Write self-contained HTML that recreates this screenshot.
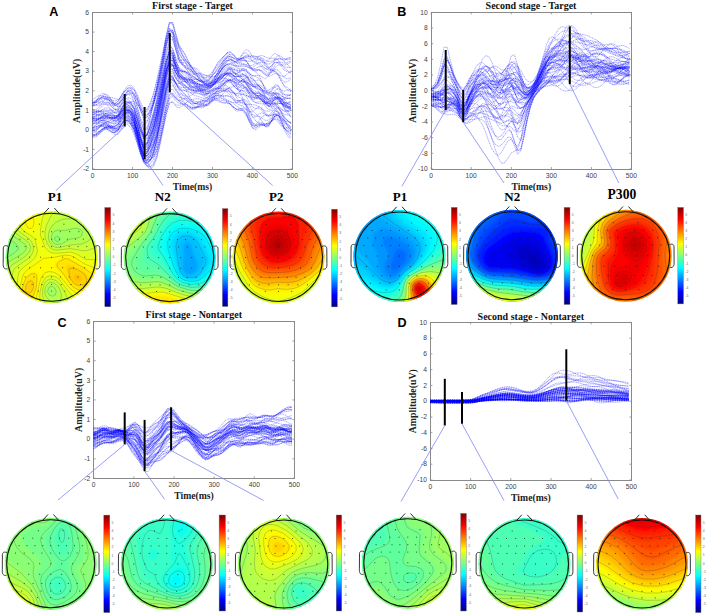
<!DOCTYPE html><html><head><meta charset="utf-8"><style>html,body{margin:0;padding:0;background:#fff;overflow:hidden}svg{display:block}</style></head><body><svg width="708" height="616" viewBox="0 0 708 616">
<defs><linearGradient id="jetg" x1="0" y1="0" x2="0" y2="1"><stop offset="0.0000" stop-color="#800000"/><stop offset="0.0625" stop-color="#bf0000"/><stop offset="0.1250" stop-color="#ff0000"/><stop offset="0.1875" stop-color="#ff4000"/><stop offset="0.2500" stop-color="#ff8000"/><stop offset="0.3125" stop-color="#ffbf00"/><stop offset="0.3750" stop-color="#ffff00"/><stop offset="0.4375" stop-color="#bfff40"/><stop offset="0.5000" stop-color="#80ff80"/><stop offset="0.5625" stop-color="#40ffbf"/><stop offset="0.6250" stop-color="#00ffff"/><stop offset="0.6875" stop-color="#00bfff"/><stop offset="0.7500" stop-color="#0080ff"/><stop offset="0.8125" stop-color="#0040ff"/><stop offset="0.8750" stop-color="#0000ff"/><stop offset="0.9375" stop-color="#0000bf"/><stop offset="1.0000" stop-color="#000080"/></linearGradient><filter id="bl" x="-10%" y="-10%" width="120%" height="120%"><feGaussianBlur stdDeviation="0.9"/></filter></defs>
<rect width="708" height="616" fill="#fff"/>
<text x="49.2" y="15.8" font-family="Liberation Sans" font-weight="bold" font-size="12.6" fill="#000">A</text>
<text x="397.3" y="15.8" font-family="Liberation Sans" font-weight="bold" font-size="12.6" fill="#000">B</text>
<text x="57.4" y="326.7" font-family="Liberation Sans" font-weight="bold" font-size="12.6" fill="#000">C</text>
<text x="397.6" y="326.7" font-family="Liberation Sans" font-weight="bold" font-size="12.6" fill="#000">D</text>
<g stroke="#8a8a8a" stroke-width="1" fill="none" shape-rendering="crispEdges">
<rect x="92.6" y="12.5" width="199.8" height="156.5"/>
</g>
<path d="M92.6 169.0h2M292.4 169.0h-2M92.6 149.4h2M292.4 149.4h-2M92.6 129.9h2M292.4 129.9h-2M92.6 110.3h2M292.4 110.3h-2M92.6 90.8h2M292.4 90.8h-2M92.6 71.2h2M292.4 71.2h-2M92.6 51.6h2M292.4 51.6h-2M92.6 32.1h2M292.4 32.1h-2M92.6 12.5h2M292.4 12.5h-2M92.6 169.0v-2M92.6 12.5v2M132.6 169.0v-2M132.6 12.5v2M172.5 169.0v-2M172.5 12.5v2M212.5 169.0v-2M212.5 12.5v2M252.4 169.0v-2M252.4 12.5v2M292.4 169.0v-2M292.4 12.5v2" stroke="#8a8a8a" stroke-width="0.8" fill="none"/>
<g font-family="Liberation Sans" font-size="6.7" fill="#404040">
<text x="89.1" y="171.2" text-anchor="end">-2</text>
<text x="89.1" y="151.6" text-anchor="end">-1</text>
<text x="89.1" y="132.1" text-anchor="end">0</text>
<text x="89.1" y="112.5" text-anchor="end">1</text>
<text x="89.1" y="93.0" text-anchor="end">2</text>
<text x="89.1" y="73.4" text-anchor="end">3</text>
<text x="89.1" y="53.8" text-anchor="end">4</text>
<text x="89.1" y="34.3" text-anchor="end">5</text>
<text x="89.1" y="14.7" text-anchor="end">6</text>
<text x="92.6" y="178.0" text-anchor="middle">0</text>
<text x="132.6" y="178.0" text-anchor="middle">100</text>
<text x="172.5" y="178.0" text-anchor="middle">200</text>
<text x="212.5" y="178.0" text-anchor="middle">300</text>
<text x="252.4" y="178.0" text-anchor="middle">400</text>
<text x="292.4" y="178.0" text-anchor="middle">500</text>
</g>
<text x="192.5" y="8.8" text-anchor="middle" font-family="Liberation Serif" font-weight="bold" font-size="10" fill="#111">First stage - Target</text>
<text x="192.5" y="189.5" text-anchor="middle" font-family="Liberation Serif" font-weight="bold" font-size="9.7" fill="#222">Time(ms)</text>
<text transform="translate(80.1,90.8) rotate(-90)" x="0" y="0" text-anchor="middle" font-family="Liberation Serif" font-weight="bold" font-size="9.9" fill="#222">Amplitude(uV)</text>
<g transform="scale(0.2)" fill="none" stroke="#0000ff" stroke-width="2.5" stroke-opacity="0.7" stroke-dasharray="6 3">
<path d="M463 594l16 1 16-1 16-2 16-2 16 1 16 0 16-1 16-11 16-23 16-16 16 1 16 12 16 27 16 52 16 64 16 52 16-1 16-42 16-59 16-71 16-79 16-75 16-69 16-43 16 10 16 43 16 31 16 10 16 3 16 3 16 4 16 5 16 7 16 9 16 6 16 0 16-8 16-12 16-12 16-13 16-16 16-16 16-6 16 6 16 12 16 12 16 11 16 18 16 25 16 24 16 16 16 10 16 13 16 12 16 3 16-10 16-12 16-2 16 10 16 13 16 5 16 3"/>
<path d="M463 548l16 3 16 3 16 4 16 7 16 7 16 7 16 1 16-9 16-20 16-15 16 0 16 5 16 16 16 38 16 52 16 42 16-13 16-52 16-58 16-60 16-70 16-79 16-87 16-70 16-4 16 52 16 50 16 26 16 13 16 7 16 8 16 12 16 18 16 19 16 15 16 5 16-6 16-13 16-20 16-24 16-29 16-24 16-8 16 7 16 7 16-5 16-13 16-6 16 8 16 12 16 8 16 7 16 15 16 19 16 9 16-4 16-3 16 16 16 31 16 30 16 16 16 6"/>
<path d="M463 597l16 3 16-3 16-6 16-4 16-1 16 3 16 1 16-9 16-25 16-20 16-1 16 14 16 32 16 52 16 61 16 44 16-10 16-50 16-63 16-72 16-80 16-79 16-76 16-52 16 4 16 44 16 36 16 14 16 14 16 17 16 18 16 14 16 7 16 6 16 2 16-5 16-11 16-15 16-9 16-2 16 1 16 2 16 6 16 9 16 5 16-2 16-3 16 11 16 24 16 22 16 11 16 5 16 10 16 15 16 9 16-1 16-1 16 12 16 20 16 12 16-4 16-12"/>
<path d="M463 510l16-8 16-7 16-5 16 0 16 9 16 15 16 13 16-6 16-29 16-34 16-19 16 4 16 26 16 42 16 43 16 33 16-2 16-27 16-40 16-57 16-75 16-83 16-85 16-63 16-2 16 45 16 43 16 32 16 37 16 36 16 22 16 3 16-6 16 1 16 9 16 5 16-7 16-19 16-23 16-22 16-24 16-21 16-6 16 13 16 20 16 5 16-9 16-7 16 3 16 6 16 2 16 3 16 16 16 22 16 8 16-12 16-16 16 0 16 12 16 11 16 2 16 3"/>
<path d="M463 591l16-6 16-4 16-1 16-2 16-1 16 0 16 3 16-2 16-15 16-14 16-1 16 11 16 33 16 61 16 72 16 49 16-10 16-50 16-61 16-66 16-74 16-80 16-83 16-61 16 1 16 47 16 43 16 21 16 9 16 5 16 4 16 6 16 6 16 5 16 2 16-4 16-5 16-7 16-9 16-13 16-19 16-16 16-2 16 13 16 19 16 12 16 1 16 2 16 9 16 12 16 10 16 7 16 7 16 7 16 3 16 1 16 4 16 13 16 16 16 12 16 7 16 9"/>
<path d="M463 519l16-13 16-14 16-8 16 0 16 7 16 9 16 5 16-6 16-20 16-21 16-17 16-6 16 15 16 33 16 42 16 34 16 0 16-25 16-37 16-49 16-67 16-80 16-88 16-61 16 11 16 65 16 58 16 31 16 18 16 13 16 12 16 11 16 14 16 16 16 15 16 6 16-5 16-17 16-22 16-22 16-21 16-14 16-2 16 7 16 7 16 1 16-3 16 2 16 7 16 5 16 2 16 3 16 12 16 13 16 2 16-17 16-22 16-13 16-1 16 1 16-5 16-10"/>
<path d="M463 655l16-6 16-11 16-6 16 6 16 14 16 11 16-1 16-18 16-29 16-21 16-3 16 11 16 27 16 49 16 56 16 42 16 2 16-22 16-30 16-42 16-68 16-85 16-88 16-64 16-2 16 38 16 36 16 21 16 16 16 16 16 11 16 2 16-6 16-5 16 0 16-2 16-10 16-21 16-24 16-16 16-7 16 4 16 14 16 19 16 17 16 8 16 8 16 20 16 34 16 33 16 22 16 11 16 10 16-3 16-13 16-19 16-9 16 12 16 27 16 25 16 8 16 2"/>
<path d="M463 604l16 0 16-8 16-13 16-9 16 0 16 10 16 11 16-2 16-23 16-23 16-4 16 15 16 40 16 64 16 69 16 44 16-8 16-42 16-52 16-63 16-78 16-83 16-87 16-65 16-9 16 35 16 28 16 6 16 1 16 5 16 12 16 14 16 12 16 10 16 6 16 1 16-3 16-6 16-6 16-9 16-14 16-15 16-2 16 11 16 20 16 17 16 14 16 22 16 28 16 26 16 13 16 4 16 1 16 0 16-9 16-15 16-11 16 3 16 9 16 2 16-6 16-5"/>
<path d="M463 616l16-1 16-7 16-8 16-3 16 2 16 5 16 2 16-8 16-20 16-10 16 7 16 15 16 23 16 39 16 49 16 43 16 5 16-23 16-40 16-59 16-75 16-81 16-81 16-59 16-6 16 33 16 32 16 21 16 21 16 16 16 7 16-3 16-4 16 3 16 9 16 7 16-2 16-10 16-12 16-12 16-15 16-15 16-5 16 8 16 13 16 7 16 4 16 10 16 16 16 12 16 1 16 1 16 11 16 15 16 3 16-14 16-13 16 5 16 23 16 21 16 11 16 6"/>
<path d="M463 519l16 10 16 0 16-15 16-19 16-8 16 12 16 25 16 12 16-17 16-34 16-29 16-5 16 29 16 55 16 56 16 35 16-14 16-43 16-45 16-50 16-66 16-81 16-90 16-63 16 8 16 65 16 54 16 21 16 8 16 9 16 15 16 19 16 18 16 12 16 5 16-7 16-15 16-17 16-15 16-14 16-20 16-19 16-3 16 15 16 17 16 1 16-9 16 0 16 14 16 13 16 2 16-2 16 8 16 17 16 9 16-7 16-9 16 3 16 11 16 1 16-14 16-14"/>
<path d="M463 652l16 8 16-3 16-10 16-9 16 3 16 17 16 15 16-2 16-27 16-30 16-8 16 19 16 38 16 54 16 51 16 32 16 0 16-18 16-28 16-46 16-76 16-89 16-83 16-59 16-2 16 37 16 37 16 25 16 21 16 16 16 7 16-4 16-7 16-1 16 2 16-6 16-20 16-24 16-15 16-6 16-6 16-12 16-7 16-2 16-8 16-17 16-13 16 8 16 29 16 29 16 13 16 9 16 22 16 28 16 13 16-4 16-4 16 21 16 46 16 46 16 30 16 9"/>
<path d="M463 529l16-21 16-25 16-16 16 5 16 18 16 20 16 8 16-11 16-29 16-29 16-20 16-4 16 17 16 32 16 38 16 33 16 2 16-25 16-47 16-68 16-77 16-74 16-71 16-42 16 22 16 66 16 54 16 27 16 23 16 27 16 28 16 20 16 10 16 3 16 2 16-2 16-6 16-7 16-4 16-7 16-21 16-28 16-16 16 5 16 12 16 3 16-4 16 3 16 14 16 11 16 0 16-1 16 8 16 9 16-15 16-41 16-44 16-18 16 6 16 15 16 2 16-2"/>
<path d="M463 516l16-13 16-14 16-6 16 1 16 2 16 2 16 5 16 4 16-9 16-15 16-17 16-2 16 29 16 55 16 63 16 47 16-1 16-36 16-46 16-66 16-86 16-87 16-71 16-33 16 22 16 49 16 21 16-2 16 3 16 13 16 10 16 2 16 8 16 26 16 28 16 7 16-23 16-40 16-31 16-18 16-16 16-17 16-4 16 16 16 18 16-5 16-26 16-16 16 10 16 25 16 15 16 2 16 3 16 21 16 22 16 6 16-4 16 5 16 18 16 19 16 5 16-6"/>
<path d="M463 665l16-6 16-21 16-19 16-4 16 10 16 13 16 2 16-14 16-27 16-16 16 6 16 17 16 30 16 50 16 60 16 56 16 31 16 12 16-12 16-39 16-63 16-76 16-81 16-59 16-4 16 22 16 7 16-10 16-14 16-10 16-7 16-5 16 0 16 4 16 5 16-6 16-15 16-17 16-10 16-5 16-3 16 0 16 14 16 25 16 18 16-1 16-8 16 6 16 26 16 28 16 15 16 13 16 25 16 26 16 0 16-36 16-44 16-15 16 23 16 38 16 30 16 19"/>
<path d="M463 515l16-3 16-11 16-18 16-14 16 9 16 27 16 25 16 1 16-25 16-27 16-8 16 6 16 15 16 25 16 34 16 35 16 2 16-29 16-47 16-65 16-76 16-84 16-92 16-77 16-8 16 56 16 62 16 40 16 27 16 22 16 22 16 20 16 11 16 4 16 2 16 3 16 5 16-2 16-12 16-18 16-19 16-11 16 1 16 5 16 0 16-4 16-1 16 8 16 10 16-2 16-13 16-12 16-4 16 2 16-11 16-22 16-13 16 11 16 19 16 5 16-9 16-4"/>
<path d="M463 585l16-7 16-5 16 1 16 8 16 10 16 5 16-4 16-17 16-26 16-13 16 8 16 15 16 25 16 45 16 58 16 48 16-2 16-40 16-54 16-64 16-71 16-72 16-73 16-55 16-5 16 32 16 29 16 17 16 17 16 14 16 7 16 0 16 0 16 7 16 10 16 6 16-5 16-15 16-17 16-17 16-17 16-15 16-6 16 7 16 15 16 16 16 13 16 13 16 11 16 6 16 3 16 10 16 25 16 29 16 16 16-3 16-9 16 1 16 13 16 11 16 6 16 7"/>
<path d="M463 614l16 0 16 5 16 10 16 8 16 3 16-3 16-6 16-12 16-19 16-13 16 4 16 17 16 34 16 55 16 60 16 45 16 11 16-15 16-35 16-61 16-94 16-99 16-84 16-55 16-4 16 27 16 20 16 7 16 9 16 12 16 10 16 4 16 1 16 6 16 11 16 7 16-2 16-9 16-10 16-5 16 1 16 6 16 13 16 18 16 12 16-1 16 1 16 25 16 46 16 40 16 7 16-19 16-20 16-7 16 1 16-2 16-3 16 7 16 16 16 18 16 14 16 15"/>
<path d="M463 500l16-14 16-9 16 0 16 8 16 14 16 14 16 5 16-12 16-28 16-23 16-3 16 19 16 41 16 57 16 65 16 45 16 0 16-29 16-37 16-52 16-72 16-84 16-86 16-64 16-5 16 34 16 18 16-2 16 2 16 15 16 21 16 20 16 16 16 9 16 5 16-5 16-15 16-23 16-24 16-21 16-19 16-13 16 6 16 18 16 10 16-5 16-7 16 12 16 29 16 22 16 2 16-7 16 5 16 15 16 5 16-19 16-29 16-15 16 2 16 4 16-5 16-6"/>
<path d="M463 687l16-2 16-14 16-21 16-15 16-2 16 8 16 7 16-6 16-22 16-18 16 0 16 14 16 29 16 46 16 51 16 42 16 15 16 0 16-12 16-32 16-56 16-71 16-79 16-62 16-13 16 18 16 16 16 9 16 12 16 12 16 7 16-4 16-10 16-10 16-11 16-17 16-19 16-12 16 3 16 9 16 5 16-3 16 4 16 16 16 19 16 7 16 5 16 21 16 41 16 36 16 8 16-7 16-4 16 2 16-6 16-20 16-21 16-1 16 26 16 36 16 28 16 16"/>
<path d="M463 594l16-1 16-1 16-4 16-3 16 0 16 5 16 2 16-14 16-31 16-26 16-7 16 4 16 17 16 38 16 54 16 48 16 0 16-38 16-50 16-61 16-72 16-74 16-71 16-46 16 11 16 52 16 44 16 23 16 15 16 13 16 10 16 6 16 0 16-2 16 0 16 0 16-4 16-14 16-22 16-23 16-20 16-11 16 0 16 6 16 4 16-2 16 0 16 8 16 13 16 9 16 4 16 10 16 21 16 26 16 16 16 6 16 7 16 19 16 26 16 18 16 5 16 0"/>
<path d="M463 587l16-8 16-9 16-3 16 8 16 12 16 4 16-4 16-13 16-17 16-9 16 2 16 4 16 16 16 47 16 67 16 56 16 0 16-41 16-53 16-61 16-71 16-83 16-89 16-63 16 1 16 45 16 32 16 3 16-1 16 10 16 17 16 11 16 2 16 2 16 13 16 18 16 6 16-15 16-27 16-21 16-7 16 4 16 9 16 9 16 5 16 4 16 8 16 16 16 20 16 16 16 11 16 14 16 19 16 12 16-6 16-16 16-9 16 4 16 7 16-4 16-13 16-4"/>
<path d="M463 646l16-4 16-7 16-6 16-1 16 3 16 4 16-1 16-14 16-30 16-24 16-1 16 18 16 35 16 53 16 57 16 45 16 8 16-18 16-35 16-58 16-82 16-89 16-83 16-57 16-2 16 33 16 26 16 13 16 12 16 15 16 13 16 9 16 5 16 5 16 4 16-5 16-16 16-17 16-10 16-2 16 0 16-2 16 7 16 16 16 13 16-1 16-4 16 12 16 29 16 24 16 6 16-1 16 11 16 21 16 10 16-12 16-16 16 4 16 24 16 26 16 15 16 14"/>
<path d="M463 515l16-3 16-7 16-11 16-3 16 9 16 19 16 24 16 15 16-10 16-20 16-10 16 3 16 27 16 53 16 59 16 36 16-32 16-75 16-77 16-76 16-75 16-74 16-80 16-56 16 0 16 43 16 38 16 19 16 26 16 37 16 39 16 32 16 18 16 7 16-1 16-5 16-8 16-12 16-12 16-16 16-23 16-25 16-10 16 8 16 5 16-16 16-26 16-6 16 20 16 22 16 3 16-11 16-5 16 23 16 22 16 12 16 8 16 21 16 29 16 23 16 8 16 17"/>
<path d="M463 607l16-5 16-10 16-9 16-6 16-1 16 5 16 7 16 1 16-13 16-14 16-3 16 3 16 20 16 48 16 65 16 54 16 0 16-35 16-48 16-61 16-75 16-81 16-80 16-51 16 5 16 40 16 25 16 1 16-1 16 6 16 14 16 16 16 12 16 7 16 4 16-1 16-6 16-15 16-22 16-22 16-15 16-1 16 12 16 16 16 9 16 1 16 0 16 11 16 19 16 17 16 8 16 4 16 10 16 15 16 8 16-4 16-5 16 10 16 21 16 19 16 3 16-7"/>
<path d="M463 652l16 1 16-11 16-18 16-10 16 2 16 13 16 15 16 2 16-14 16-15 16-3 16 8 16 27 16 51 16 57 16 47 16 22 16 9 16-9 16-37 16-72 16-92 16-93 16-61 16-2 16 24 16 11 16-8 16-6 16 4 16 12 16 11 16 2 16-10 16-14 16-10 16-1 16 4 16 3 16-8 16-18 16-20 16-4 16 17 16 30 16 23 16 9 16 2 16 0 16 1 16 3 16 7 16 12 16 10 16 1 16-4 16-1 16 12 16 22 16 20 16 15 16 15"/>
<path d="M463 572l16-9 16-8 16-5 16-1 16 2 16 1 16-2 16-10 16-19 16-13 16 2 16 11 16 25 16 50 16 66 16 54 16 0 16-36 16-45 16-56 16-67 16-75 16-79 16-57 16 0 16 42 16 36 16 15 16 5 16 0 16-2 16 0 16 3 16 7 16 6 16 0 16-7 16-18 16-24 16-27 16-23 16-13 16 5 16 18 16 16 16 4 16-1 16 4 16 17 16 26 16 23 16 18 16 15 16 13 16 9 16 5 16 9 16 16 16 16 16 7 16-3 16-4"/>
<path d="M463 582l16-1 16-6 16-7 16 0 16 11 16 16 16 13 16-5 16-26 16-22 16 1 16 19 16 39 16 59 16 60 16 42 16 3 16-23 16-43 16-65 16-88 16-94 16-89 16-63 16-6 16 36 16 32 16 16 16 16 16 17 16 14 16 7 16 0 16-1 16-2 16-8 16-15 16-17 16-12 16-5 16-8 16-9 16 1 16 9 16 6 16-5 16-8 16 6 16 21 16 24 16 18 16 19 16 32 16 32 16 11 16-18 16-23 16 0 16 25 16 30 16 22 16 15"/>
<path d="M463 621l16-4 16-4 16-3 16 3 16 10 16 14 16 9 16-11 16-33 16-28 16-6 16 13 16 38 16 64 16 70 16 53 16 12 16-17 16-37 16-59 16-86 16-94 16-86 16-57 16 1 16 35 16 27 16 8 16-1 16-4 16-2 16 3 16 4 16 5 16 6 16 5 16 2 16-5 16-13 16-17 16-17 16-10 16 4 16 15 16 16 16 12 16 9 16 11 16 10 16 4 16-3 16 1 16 10 16 13 16 6 16-2 16 3 16 17 16 22 16 15 16 3 16 1"/>
<path d="M463 576l16-6 16 7 16 11 16 7 16-3 16-7 16-1 16-1 16-13 16-14 16-5 16 8 16 35 16 64 16 70 16 45 16-7 16-34 16-40 16-50 16-74 16-91 16-93 16-63 16 0 16 41 16 27 16 1 16-2 16 9 16 19 16 16 16 2 16-6 16-5 16 2 16 3 16-7 16-20 16-29 16-28 16-11 16 10 16 19 16 7 16-10 16-8 16 18 16 37 16 28 16 0 16-10 16 7 16 27 16 21 16-1 16-12 16 3 16 25 16 29 16 13 16-3"/>
<path d="M463 653l16-7 16-12 16-10 16-2 16 7 16 10 16 3 16-10 16-26 16-20 16-2 16 10 16 22 16 38 16 47 16 47 16 13 16-18 16-45 16-71 16-89 16-86 16-74 16-43 16 11 16 41 16 26 16 13 16 20 16 29 16 27 16 14 16 4 16 2 16 3 16-4 16-15 16-20 16-16 16-10 16-7 16-4 16 6 16 12 16 2 16-12 16-18 16-1 16 21 16 19 16 3 16-4 16 10 16 26 16 20 16 0 16-4 16 11 16 27 16 24 16 13 16 13"/>
<path d="M463 605l16 2 16-1 16-4 16 1 16 7 16 7 16-3 16-19 16-33 16-19 16 8 16 23 16 33 16 49 16 56 16 46 16 1 16-32 16-49 16-62 16-74 16-77 16-75 16-56 16-4 16 36 16 34 16 21 16 12 16 4 16-1 16-1 16 4 16 8 16 8 16 3 16-2 16-6 16-11 16-18 16-25 16-18 16 2 16 20 16 25 16 13 16 3 16 7 16 14 16 9 16-1 16-3 16 9 16 23 16 21 16 6 16-7 16-5 16 6 16 10 16 9 16 6"/>
<path d="M463 564l16-5 16-12 16-17 16-13 16-4 16 5 16 7 16-2 16-17 16-22 16-16 16-8 16 8 16 28 16 41 16 37 16 2 16-27 16-44 16-62 16-76 16-83 16-85 16-58 16 10 16 62 16 53 16 28 16 20 16 20 16 19 16 17 16 16 16 18 16 15 16 3 16-11 16-21 16-22 16-18 16-17 16-9 16 10 16 24 16 22 16 4 16-5 16 1 16 15 16 16 16 9 16 11 16 25 16 30 16 13 16-12 16-19 16-2 16 13 16 11 16 2 16 1"/>
<path d="M463 672l16 5 16-6 16-15 16-15 16-9 16-4 16-5 16-17 16-27 16-15 16 10 16 19 16 24 16 38 16 51 16 54 16 26 16 0 16-28 16-61 16-90 16-88 16-71 16-49 16-5 16 24 16 24 16 19 16 17 16 5 16-7 16-15 16-10 16 0 16 6 16 2 16-6 16-9 16-7 16-5 16-11 16-15 16-6 16 9 16 22 16 30 16 33 16 43 16 47 16 32 16 10 16-12 16 0 16 6 16-4 16-14 16-7 16 14 16 23 16 9 16-4 16 9"/>
<path d="M463 574l16-9 16-7 16-4 16 1 16 6 16 9 16 9 16-1 16-18 16-20 16-10 16-2 16 15 16 40 16 55 16 49 16 3 16-30 16-40 16-54 16-74 16-82 16-83 16-55 16 6 16 48 16 37 16 16 16 14 16 19 16 18 16 11 16 3 16 2 16 2 16-5 16-14 16-19 16-15 16-9 16-9 16-8 16 0 16 9 16 6 16-2 16-1 16 13 16 25 16 14 16-2 16-1 16 18 16 33 16 22 16-3 16-11 16 2 16 15 16 9 16-4 16-4"/>
<path d="M463 531l16-8 16-4 16 1 16 2 16 2 16 2 16 0 16-7 16-17 16-17 16-12 16-7 16 7 16 26 16 39 16 36 16 1 16-23 16-31 16-49 16-71 16-84 16-88 16-56 16 14 16 63 16 51 16 25 16 17 16 18 16 17 16 12 16 8 16 10 16 12 16 10 16-2 16-18 16-28 16-28 16-21 16-12 16-4 16-3 16-8 16-10 16-3 16 13 16 23 16 15 16-2 16-9 16-1 16 11 16 8 16 1 16 2 16 15 16 25 16 17 16-3 16-14"/>
<path d="M463 680l16-1 16-13 16-19 16-11 16 1 16 11 16 9 16-7 16-30 16-31 16-11 16 14 16 42 16 66 16 66 16 44 16 6 16-15 16-28 16-42 16-60 16-69 16-72 16-57 16-9 16 19 16 15 16 9 16 11 16 14 16 9 16 0 16-5 16-5 16-4 16-11 16-18 16-17 16-5 16 10 16 12 16 8 16 3 16 4 16-1 16-7 16-1 16 21 16 36 16 25 16-2 16-15 16-5 16 9 16 8 16-4 16-8 16 5 16 19 16 22 16 18 16 20"/>
<path d="M463 635l16-10 16-9 16-5 16 0 16 1 16 3 16 3 16-8 16-27 16-26 16-8 16 13 16 40 16 63 16 63 16 37 16-7 16-22 16-20 16-32 16-65 16-85 16-85 16-57 16-5 16 28 16 22 16 10 16 7 16 6 16 4 16 1 16 3 16 5 16 2 16-5 16-10 16-10 16-5 16-7 16-14 16-18 16-5 16 13 16 21 16 14 16 6 16 11 16 20 16 20 16 7 16-4 16-2 16 10 16 14 16 5 16-7 16-11 16-1 16 14 16 26 16 28"/>
<path d="M463 673l16-3 16-11 16-15 16-10 16 1 16 9 16 9 16-4 16-22 16-22 16-7 16 12 16 35 16 58 16 63 16 48 16 14 16-8 16-23 16-39 16-55 16-63 16-70 16-54 16-8 16 15 16 4 16-5 16 1 16 9 16 7 16-2 16-10 16-11 16-8 16-8 16-10 16-8 16-3 16 1 16-1 16-1 16 5 16 15 16 14 16 2 16-2 16 12 16 26 16 23 16 8 16 1 16 8 16 12 16-1 16-18 16-15 16 10 16 31 16 31 16 17 16 9"/>
<path d="M463 591l16 2 16-2 16-5 16-4 16 2 16 7 16 4 16-9 16-27 16-23 16-4 16 9 16 28 16 49 16 59 16 47 16-2 16-36 16-50 16-68 16-88 16-93 16-85 16-48 16 21 16 63 16 46 16 12 16 0 16 0 16 5 16 9 16 10 16 9 16 5 16-1 16-7 16-8 16-7 16-11 16-20 16-24 16-13 16 3 16 11 16 7 16 4 16 13 16 22 16 22 16 12 16 6 16 10 16 14 16 6 16-6 16-6 16 5 16 14 16 9 16 2 16 5"/>
<path d="M463 548l16 1 16-12 16-17 16-11 16 6 16 18 16 16 16-4 16-24 16-23 16-9 16 3 16 19 16 41 16 54 16 42 16-10 16-50 16-61 16-67 16-73 16-76 16-84 16-65 16-1 16 54 16 49 16 26 16 14 16 15 16 18 16 21 16 17 16 11 16 4 16-1 16-7 16-15 16-21 16-23 16-20 16-12 16 2 16 10 16 9 16 4 16 1 16 7 16 6 16-4 16-10 16-3 16 13 16 17 16 2 16-18 16-17 16 4 16 20 16 19 16 6 16 5"/>
<path d="M463 641l16-7 16-5 16 0 16 1 16 1 16 1 16-1 16-11 16-28 16-25 16-5 16 14 16 37 16 59 16 63 16 45 16 4 16-24 16-40 16-58 16-80 16-83 16-71 16-46 16 2 16 33 16 25 16 14 16 16 16 20 16 17 16 10 16 2 16-1 16-5 16-8 16-10 16-5 16 4 16 5 16 3 16 4 16 12 16 21 16 15 16-3 16-5 16 17 16 41 16 36 16 7 16-14 16-11 16 0 16-1 16-15 16-30 16-16 16 8 16 21 16 15 16 5"/>
<path d="M463 513l16-1 16-1 16-2 16 5 16 17 16 20 16 10 16-11 16-25 16-15 16 1 16-2 16-2 16 13 16 26 16 21 16-16 16-37 16-45 16-57 16-65 16-77 16-90 16-69 16 4 16 64 16 61 16 36 16 21 16 18 16 16 16 17 16 14 16 14 16 16 16 13 16 4 16-14 16-27 16-32 16-29 16-19 16-5 16 6 16 8 16 0 16-7 16-5 16-2 16-1 16 0 16 7 16 14 16 14 16 4 16-8 16-12 16-6 16 0 16-1 16-3 16-3"/>
<path d="M463 530l16-17 16-17 16-8 16 6 16 18 16 22 16 15 16 1 16-15 16-15 16-7 16-3 16 11 16 41 16 63 16 55 16-2 16-45 16-56 16-65 16-76 16-78 16-75 16-50 16 10 16 55 16 45 16 23 16 14 16 12 16 11 16 9 16 7 16 5 16 1 16-3 16-5 16-11 16-20 16-32 16-38 16-33 16-13 16 5 16 16 16 5 16-10 16-10 16-1 16 4 16 3 16 2 16 7 16 10 16 7 16-3 16-8 16-4 16 1 16 15 16 16 16 15"/>
<path d="M463 562l16-5 16 1 16 5 16 5 16 0 16-3 16-2 16-7 16-16 16-14 16-2 16 12 16 33 16 58 16 63 16 40 16-18 16-53 16-54 16-54 16-63 16-70 16-75 16-54 16 1 16 39 16 24 16 1 16 3 16 16 16 25 16 20 16 7 16 1 16 1 16 2 16-3 16-12 16-18 16-16 16-10 16-2 16 7 16 8 16 1 16-9 16-4 16 13 16 23 16 15 16 1 16 4 16 21 16 30 16 13 16-15 16-24 16-9 16 7 16 6 16-6 16-5"/>
<path d="M463 678l16-5 16-7 16-10 16-10 16-6 16 0 16 3 16-3 16-17 16-17 16-2 16 16 16 37 16 55 16 53 16 33 16 5 16-6 16-13 16-32 16-66 16-86 16-89 16-61 16-5 16 25 16 17 16 4 16 8 16 12 16 9 16-1 16-9 16-7 16 0 16 3 16-1 16-8 16-6 16 0 16 4 16 4 16 7 16 11 16 13 16 11 16 13 16 25 16 30 16 20 16 0 16-8 16-3 16 2 16-4 16-12 16-10 16 4 16 20 16 23 16 18 16 14"/>
<path d="M463 574l16-4 16 5 16 1 16-8 16-8 16 5 16 14 16 0 16-29 16-37 16-15 16 13 16 38 16 53 16 51 16 39 16 3 16-21 16-38 16-67 16-87 16-78 16-57 16-31 16 7 16 24 16 17 16 17 16 27 16 23 16 5 16-6 16 5 16 20 16 17 16-7 16-27 16-24 16-4 16 2 16-11 16-25 16-12 16 18 16 29 16 12 16-10 16-8 16 18 16 33 16 22 16 0 16-4 16 9 16 17 16 7 16-8 16-12 16 3 16 20 16 26 16 19"/>
<path d="M463 628l16-23 16-12 16 7 16 10 16-4 16-13 16-5 16 6 16-4 16-18 16-21 16-7 16 32 16 67 16 67 16 33 16-23 16-41 16-33 16-46 16-74 16-89 16-81 16-42 16 14 16 36 16 15 16 1 16 13 16 23 16 18 16 7 16 4 16 10 16 12 16 1 16-10 16-13 16-7 16-9 16-16 16-14 16 5 16 23 16 16 16-7 16-13 16 12 16 36 16 28 16-4 16-17 16 4 16 29 16 20 16-14 16-29 16-6 16 28 16 35 16 12 16-8"/>
<path d="M463 640l16-2 16-10 16-10 16 0 16 8 16 8 16-1 16-17 16-27 16-14 16 6 16 17 16 29 16 52 16 64 16 53 16 10 16-25 16-48 16-71 16-90 16-91 16-81 16-53 16 0 16 33 16 26 16 10 16 11 16 15 16 13 16 7 16 2 16 8 16 11 16 10 16-2 16-14 16-17 16-9 16 1 16 4 16 5 16 3 16 3 16 1 16 4 16 6 16 6 16 2 16-1 16 3 16 12 16 14 16 7 16-2 16 1 16 15 16 25 16 24 16 19 16 17"/>
<path d="M463 600l16 3 16-7 16-12 16-5 16 7 16 12 16 7 16-7 16-21 16-15 16 0 16 9 16 32 16 66 16 78 16 57 16 12 16-14 16-27 16-44 16-74 16-91 16-90 16-62 16-13 16 14 16 3 16-10 16 0 16 17 16 21 16 10 16-2 16-3 16 1 16 2 16-5 16-11 16-12 16-5 16-6 16-9 16-4 16 6 16 12 16 8 16 4 16 9 16 21 16 22 16 10 16-1 16 3 16 11 16 11 16 1 16-8 16-5 16 8 16 15 16 11 16 4"/>
<path d="M463 590l16 7 16 7 16-2 16-13 16-16 16-3 16 14 16 14 16-7 16-19 16-11 16 5 16 34 16 67 16 72 16 46 16-9 16-45 16-57 16-67 16-79 16-82 16-82 16-60 16-4 16 39 16 35 16 18 16 8 16 4 16 4 16 9 16 13 16 13 16 8 16-2 16-11 16-17 16-17 16-14 16-11 16-9 16-2 16 1 16 1 16 5 16 15 16 28 16 30 16 16 16 0 16-1 16 13 16 21 16 12 16-6 16-13 16-3 16 10 16 13 16 8 16 6"/>
<path d="M463 558l16-1 16 2 16 0 16-3 16-2 16 3 16 7 16 0 16-20 16-24 16-11 16 4 16 27 16 51 16 59 16 40 16-13 16-45 16-44 16-51 16-68 16-78 16-81 16-55 16 5 16 46 16 32 16 10 16 11 16 21 16 21 16 9 16-3 16-4 16 3 16 8 16-1 16-17 16-31 16-36 16-33 16-18 16 6 16 21 16 14 16-5 16-12 16 4 16 20 16 21 16 13 16 17 16 36 16 39 16 14 16-18 16-25 16 3 16 36 16 38 16 15 16-7"/>
<path d="M463 561l16 4 16-4 16-12 16-10 16 1 16 13 16 14 16-2 16-23 16-19 16 1 16 15 16 26 16 39 16 44 16 36 16-9 16-44 16-53 16-64 16-74 16-74 16-68 16-45 16 12 16 49 16 34 16 9 16 4 16 9 16 11 16 9 16 9 16 11 16 13 16 6 16-5 16-13 16-15 16-16 16-18 16-14 16 1 16 13 16 6 16-12 16-13 16 7 16 29 16 23 16 1 16-4 16 15 16 32 16 20 16-11 16-23 16-2 16 22 16 23 16 4 16-8"/>
<path d="M463 591l16-2 16 0 16 1 16 1 16-2 16-2 16-1 16-4 16-14 16-12 16-2 16 4 16 21 16 49 16 61 16 44 16-17 16-59 16-64 16-61 16-66 16-69 16-76 16-56 16 3 16 52 16 45 16 22 16 9 16 4 16 8 16 17 16 23 16 21 16 7 16-8 16-16 16-11 16 1 16 2 16-9 16-21 16-17 16 0 16 9 16 3 16-10 16-11 16-2 16 8 16 17 16 19 16 19 16 8 16-6 16-12 16-3 16 12 16 17 16 8 16-1 16 8"/>
<path d="M463 684l16-9 16-16 16-14 16-4 16 7 16 11 16 5 16-8 16-20 16-15 16 2 16 18 16 33 16 48 16 51 16 41 16 18 16 2 16-18 16-39 16-61 16-75 16-84 16-64 16-10 16 21 16 13 16 1 16 2 16 7 16 8 16 2 16-4 16-3 16-4 16-7 16-10 16-8 16 3 16 8 16 3 16-2 16 5 16 16 16 12 16-1 16-2 16 23 16 42 16 32 16 0 16-15 16-4 16 9 16-3 16-23 16-27 16-2 16 24 16 29 16 16 16 11"/>
<path d="M463 678l16-8 16-12 16-10 16-3 16 6 16 9 16 3 16-12 16-25 16-22 16-4 16 11 16 27 16 49 16 55 16 43 16 7 16-17 16-33 16-55 16-80 16-85 16-71 16-43 16 8 16 35 16 26 16 10 16 9 16 13 16 14 16 10 16 5 16 1 16-5 16-11 16-15 16-10 16 2 16 8 16 6 16 2 16 4 16 14 16 13 16 4 16 2 16 17 16 30 16 24 16 4 16-5 16 2 16 8 16-5 16-24 16-24 16-6 16 13 16 16 16 7 16 3"/>
<path d="M463 638l16-5 16-5 16-5 16 0 16 9 16 16 16 10 16-8 16-28 16-22 16 1 16 19 16 31 16 47 16 53 16 47 16 18 16-11 16-37 16-57 16-73 16-76 16-72 16-55 16-8 16 23 16 18 16 7 16 5 16 10 16 10 16 7 16 2 16 6 16 10 16 3 16-12 16-22 16-17 16-1 16 11 16 16 16 17 16 17 16 10 16-3 16-5 16 6 16 13 16 1 16-15 16-11 16 10 16 24 16 10 16-15 16-20 16-5 16 10 16 8 16 1 16 5"/>
<path d="M463 528l16-3 16-10 16-11 16-7 16 2 16 9 16 10 16 0 16-16 16-25 16-24 16-14 16 10 16 42 16 59 16 52 16 4 16-33 16-53 16-73 16-86 16-91 16-93 16-63 16 7 16 55 16 46 16 27 16 26 16 30 16 31 16 26 16 19 16 12 16 6 16-1 16-11 16-20 16-24 16-23 16-20 16-15 16-3 16 7 16 9 16 5 16-1 16 2 16 3 16-4 16-11 16-12 16-2 16 6 16 7 16 0 16 0 16 10 16 22 16 19 16 12 16 13"/>
<path d="M463 641l16-15 16-16 16-9 16 2 16 6 16 1 16-9 16-18 16-23 16-11 16 6 16 16 16 34 16 63 16 76 16 55 16 1 16-31 16-39 16-44 16-58 16-72 16-82 16-67 16-15 16 21 16 19 16 6 16-1 16 3 16 8 16 7 16 1 16-2 16-5 16-6 16-7 16-10 16-9 16-7 16-7 16-4 16 8 16 19 16 19 16 9 16-1 16 3 16 13 16 15 16 8 16 3 16 9 16 13 16 10 16-1 16-7 16-4 16 4 16 6 16 8 16 12"/>
</g>
<g stroke="#8a8a8a" stroke-width="1" fill="none" shape-rendering="crispEdges">
<rect x="431.2" y="12.4" width="200.2" height="156.6"/>
</g>
<path d="M431.2 169.0h2M631.4 169.0h-2M431.2 153.3h2M631.4 153.3h-2M431.2 137.7h2M631.4 137.7h-2M431.2 122.0h2M631.4 122.0h-2M431.2 106.4h2M631.4 106.4h-2M431.2 90.7h2M631.4 90.7h-2M431.2 75.0h2M631.4 75.0h-2M431.2 59.4h2M631.4 59.4h-2M431.2 43.7h2M631.4 43.7h-2M431.2 28.1h2M631.4 28.1h-2M431.2 12.4h2M631.4 12.4h-2M431.2 169.0v-2M431.2 12.4v2M471.2 169.0v-2M471.2 12.4v2M511.3 169.0v-2M511.3 12.4v2M551.3 169.0v-2M551.3 12.4v2M591.4 169.0v-2M591.4 12.4v2M631.4 169.0v-2M631.4 12.4v2" stroke="#8a8a8a" stroke-width="0.8" fill="none"/>
<g font-family="Liberation Sans" font-size="6.7" fill="#404040">
<text x="427.7" y="171.2" text-anchor="end">-10</text>
<text x="427.7" y="155.5" text-anchor="end">-8</text>
<text x="427.7" y="139.9" text-anchor="end">-6</text>
<text x="427.7" y="124.2" text-anchor="end">-4</text>
<text x="427.7" y="108.6" text-anchor="end">-2</text>
<text x="427.7" y="92.9" text-anchor="end">0</text>
<text x="427.7" y="77.2" text-anchor="end">2</text>
<text x="427.7" y="61.6" text-anchor="end">4</text>
<text x="427.7" y="45.9" text-anchor="end">6</text>
<text x="427.7" y="30.3" text-anchor="end">8</text>
<text x="427.7" y="14.6" text-anchor="end">10</text>
<text x="431.2" y="178.0" text-anchor="middle">0</text>
<text x="471.2" y="178.0" text-anchor="middle">100</text>
<text x="511.3" y="178.0" text-anchor="middle">200</text>
<text x="551.3" y="178.0" text-anchor="middle">300</text>
<text x="591.4" y="178.0" text-anchor="middle">400</text>
<text x="631.4" y="178.0" text-anchor="middle">500</text>
</g>
<text x="531.0" y="8.8" text-anchor="middle" font-family="Liberation Serif" font-weight="bold" font-size="10" fill="#111">Second stage - Target</text>
<text x="531.3" y="189.5" text-anchor="middle" font-family="Liberation Serif" font-weight="bold" font-size="9.7" fill="#222">Time(ms)</text>
<text transform="translate(415.9,90.7) rotate(-90)" x="0" y="0" text-anchor="middle" font-family="Liberation Serif" font-weight="bold" font-size="9.9" fill="#222">Amplitude(uV)</text>
<g transform="scale(0.2)" fill="none" stroke="#0000ff" stroke-width="2.5" stroke-opacity="0.7" stroke-dasharray="6 3">
<path d="M2156 490l16-2 16-1 16-1 16 5 16 14 16 10 16 3 16 12 16 27 16 17 16-8 16-17 16-8 16-4 16-4 16-4 16 4 16 15 16 24 16 30 16 31 16 18 16-6 16-23 16-19 16 5 16 10 16-9 16-29 16-37 16-38 16-33 16-28 16-28 16-27 16-20 16-7 16-2 16-6 16-13 16-19 16-19 16-9 16 3 16 14 16 17 16 11 16 1 16-5 16-7 16-3 16 5 16 12 16 12 16 8 16 0 16-7 16-11 16-6 16 0 16 8 16 11"/>
<path d="M2156 446l16-3 16-5 16-18 16-35 16-25 16-2 16 19 16 28 16 31 16 19 16-10 16-26 16-24 16-23 16-22 16-10 16 8 16 24 16 27 16 18 16-2 16-21 16-31 16-23 16 1 16 31 16 44 16 33 16 13 16-1 16-12 16-20 16-24 16-27 16-24 16-23 16-25 16-26 16-27 16-19 16-6 16 10 16 18 16 15 16 7 16-1 16-3 16 2 16 9 16 14 16 12 16 6 16-5 16-11 16-12 16-6 16 2 16 8 16 11 16 5 16-3 16-11"/>
<path d="M2156 524l16 5 16 5 16 3 16-4 16-10 16-8 16-2 16 11 16 30 16 17 16-17 16-35 16-30 16-20 16-11 16 1 16 12 16 13 16 4 16-8 16-13 16-13 16-8 16 1 16 18 16 39 16 34 16 5 16-13 16-19 16-23 16-26 16-23 16-23 16-23 16-24 16-24 16-17 16-10 16 2 16 11 16 16 16 13 16 6 16-5 16-10 16-10 16-3 16 4 16 8 16 9 16 6 16 1 16-3 16-5 16-1 16 3 16 7 16 8 16 5 16-1 16-7"/>
<path d="M2156 494l16 3 16 8 16 13 16 20 16 4 16-16 16-17 16 0 16 24 16 18 16-8 16-18 16-12 16-11 16-16 16-16 16-5 16 7 16 19 16 37 16 41 16 33 16 19 16 13 16 25 16 50 16 45 16-12 16-69 16-80 16-66 16-44 16-26 16-23 16-18 16-5 16 5 16 10 16 5 16-4 16-14 16-19 16-16 16-9 16 0 16 5 16 6 16 2 16-2 16-3 16-3 16-2 16 0 16-1 16-4 16-7 16-10 16-7 16-3 16 5 16 11 16 15"/>
<path d="M2156 527l16 10 16 13 16 15 16 6 16-21 16-29 16-15 16 8 16 32 16 24 16 0 16-6 16 3 16 12 16 17 16 3 16 17 16 35 16 44 16 50 16 45 16 27 16-3 16-23 16-26 16-8 16-11 16-45 16-74 16-63 16-46 16-31 16-18 16-16 16-17 16-19 16-15 16-14 16-1 16 11 16 19 16 20 16 14 16 3 16-7 16-14 16-12 16-6 16 2 16 10 16 11 16-1 16-7 16-15 16-21 16-25 16-23 16-15 16-3 16 5 16 14 16 19"/>
<path d="M2156 483l16-4 16-8 16-17 16-23 16-5 16 17 16 23 16 29 16 37 16 17 16-24 16-44 16-35 16-20 16-4 16 14 16 28 16 31 16 17 16-5 16-22 16-34 16-35 16-25 16-4 16 21 16 29 16 19 16 7 16-2 16-13 16-22 16-28 16-32 16-25 16-13 16-1 16 2 16-5 16-15 16-21 16-21 16-12 16-1 16 11 16 14 16 10 16 3 16-5 16-11 16-12 16-5 16 1 16 11 16 17 16 18 16 14 16 6 16-1 16-5 16-6 16-3"/>
<path d="M2156 495l16 2 16 2 16 1 16-1 16-4 16-4 16 1 16 13 16 31 16 18 16-14 16-28 16-21 16-13 16-8 16-1 16 10 16 18 16 19 16 16 16 12 16 2 16-12 16-21 16-15 16 4 16 9 16 1 16 1 16-6 16-16 16-22 16-20 16-20 16-22 16-27 16-29 16-26 16-19 16-9 16 1 16 9 16 12 16 10 16 4 16-2 16-5 16-3 16 0 16 5 16 9 16 12 16 11 16 7 16 1 16-4 16-8 16-10 16-7 16-3 16 1 16 5"/>
<path d="M2156 449l16-11 16-22 16-42 16-50 16 2 16 41 16 40 16 28 16 20 16 0 16-30 16-36 16-14 16 3 16 4 16-2 16-11 16-18 16-16 16-5 16 8 16 12 16 0 16-17 16-20 16-5 16 18 16 44 16 48 16 23 16-3 16-17 16-30 16-43 16-49 16-40 16-18 16 0 16 1 16-13 16-27 16-36 16-29 16-9 16 14 16 29 16 29 16 19 16 6 16-6 16-8 16-3 16 6 16 12 16 11 16 6 16-2 16-7 16-6 16 0 16 6 16 11"/>
<path d="M2156 480l16-1 16-3 16-7 16-4 16 14 16 25 16 20 16 22 16 30 16 10 16-30 16-49 16-37 16-16 16 4 16 21 16 31 16 30 16 10 16-6 16-12 16-11 16-8 16-5 16-1 16 8 16-3 16-16 16-7 16-1 16-10 16-19 16-22 16-26 16-31 16-37 16-33 16-21 16-5 16 7 16 15 16 16 16 9 16 2 16-5 16-7 16-4 16 0 16 4 16 8 16 11 16 11 16 9 16 4 16-1 16-6 16-9 16-7 16-1 16 7 16 12 16 13"/>
<path d="M2156 469l16-5 16-4 16-6 16-3 16-3 16-2 16 4 16 18 16 34 16 21 16-16 16-32 16-22 16-17 16-15 16-8 16 5 16 15 16 22 16 22 16 14 16-4 16-23 16-31 16-21 16 4 16 20 16 22 16 16 16 2 16-14 16-24 16-30 16-34 16-31 16-22 16-8 16-1 16-3 16-10 16-14 16-12 16-4 16 6 16 13 16 13 16 9 16 1 16-4 16-6 16-5 16 1 16 6 16 10 16 9 16 6 16 3 16-2 16-3 16-3 16-2 16 0"/>
<path d="M2156 493l16 4 16-3 16-13 16-27 16-18 16 7 16 19 16 28 16 37 16 18 16-25 16-43 16-30 16-12 16-1 16 5 16 2 16-9 16-25 16-29 16-15 16 5 16 19 16 21 16 17 16 16 16 7 16 4 16 11 16 11 16-5 16-17 16-23 16-31 16-39 16-42 16-34 16-16 16 1 16 8 16 8 16 2 16-6 16-4 16 5 16 18 16 26 16 24 16 14 16-2 16-15 16-22 16-17 16-7 16 4 16 12 16 13 16 7 16 1 16-4 16-3 16 2"/>
<path d="M2156 471l16-3 16 0 16 2 16 8 16 10 16-1 16-6 16 8 16 26 16 15 16-18 16-32 16-20 16-14 16-14 16-14 16-9 16-5 16-1 16 5 16 11 16 10 16-1 16-13 16-13 16-1 16 10 16 20 16 24 16 12 16-7 16-19 16-27 16-34 16-37 16-31 16-16 16-1 16 7 16 4 16-2 16-10 16-13 16-9 16 3 16 16 16 24 16 22 16 14 16 0 16-11 16-17 16-15 16-6 16 7 16 16 16 19 16 13 16 2 16-10 16-18 16-16"/>
<path d="M2156 499l16 0 16 0 16-2 16-3 16-2 16 2 16 4 16 16 16 32 16 20 16-12 16-24 16-12 16 1 16 10 16 20 16 32 16 40 16 34 16 22 16 9 16-7 16-24 16-29 16-19 16 5 16 3 16-21 16-35 16-35 16-31 16-28 16-23 16-22 16-19 16-14 16-7 16 0 16 2 16 1 16 1 16-2 16-4 16-5 16-7 16-5 16-3 16-1 16 0 16 1 16 1 16 0 16-1 16-1 16-1 16 0 16 1 16 3 16 4 16 6 16 6 16 6"/>
<path d="M2156 481l16 3 16 4 16 4 16 5 16 5 16 0 16 1 16 13 16 29 16 17 16-15 16-30 16-23 16-14 16-8 16 3 16 14 16 21 16 15 16 5 16-6 16-16 16-22 16-18 16 1 16 27 16 32 16 11 16-8 16-18 16-26 16-27 16-27 16-27 16-26 16-21 16-13 16-5 16-2 16 0 16 0 16-2 16-5 16-7 16-9 16-7 16-3 16 2 16 7 16 9 16 10 16 7 16 4 16 0 16-2 16-3 16-2 16 1 16 3 16 5 16 5 16 5"/>
<path d="M2156 477l16 7 16 4 16 0 16-3 16 4 16 11 16 15 16 24 16 37 16 20 16-19 16-45 16-47 16-42 16-33 16-15 16 3 16 13 16 11 16 2 16-8 16-12 16-10 16 0 16 21 16 43 16 42 16 14 16-12 16-22 16-27 16-29 16-34 16-41 16-41 16-32 16-21 16-11 16-10 16-10 16-8 16 1 16 11 16 20 16 23 16 19 16 11 16 2 16-1 16-2 16 1 16 5 16 7 16 5 16 2 16-2 16-4 16-2 16 3 16 10 16 16 16 19"/>
<path d="M2156 447l16-12 16-20 16-39 16-46 16 6 16 45 16 45 16 39 16 43 16 27 16-19 16-39 16-31 16-23 16-18 16-7 16 8 16 23 16 31 16 33 16 24 16 4 16-21 16-38 16-36 16-19 16-2 16 14 16 26 16 14 16-8 16-21 16-29 16-40 16-48 16-47 16-37 16-21 16-10 16-3 16 3 16 8 16 14 16 17 16 18 16 17 16 8 16 3 16 0 16 0 16 1 16 7 16 12 16 16 16 15 16 11 16 5 16-4 16-9 16-11 16-11 16-6"/>
<path d="M2156 483l16 0 16-1 16-5 16-7 16-6 16-1 16 4 16 17 16 35 16 20 16-17 16-35 16-27 16-21 16-17 16-8 16 4 16 14 16 19 16 20 16 16 16 8 16-3 16-8 16-2 16 15 16 11 16-8 16-10 16-10 16-18 16-26 16-28 16-34 16-33 16-29 16-21 16-13 16-8 16-5 16 0 16 5 16 8 16 6 16 4 16 3 16 3 16 6 16 9 16 11 16 11 16 7 16 3 16-1 16-4 16-3 16-1 16 2 16 4 16 3 16 1 16-2"/>
<path d="M2156 466l16 14 16 14 16 8 16-14 16-36 16-18 16 13 16 37 16 53 16 35 16-14 16-47 16-55 16-47 16-24 16 9 16 36 16 41 16 16 16-22 16-46 16-47 16-23 16 11 16 42 16 57 16 37 16-4 16-16 16-7 16-8 16-16 16-15 16-14 16-16 16-27 16-41 16-41 16-27 16-5 16 16 16 23 16 14 16-6 16-20 16-19 16-3 16 17 16 31 16 30 16 17 16 1 16-15 16-19 16-11 16 2 16 15 16 20 16 14 16 3 16-9 16-14"/>
<path d="M2156 447l16-5 16-10 16-17 16-18 16 5 16 17 16 14 16 18 16 27 16 10 16-23 16-34 16-17 16-6 16-5 16-8 16-8 16-7 16-2 16 6 16 13 16 10 16-7 16-23 16-27 16-15 16-2 16 18 16 31 16 24 16 5 16-9 16-22 16-30 16-27 16-17 16-7 16-5 16-14 16-24 16-26 16-19 16-4 16 12 16 21 16 20 16 11 16 1 16-6 16-9 16-7 16-3 16-1 16 0 16-2 16-2 16-1 16 2 16 7 16 10 16 11 16 9"/>
<path d="M2156 468l16 2 16-1 16-6 16-14 16-15 16-5 16 8 16 23 16 38 16 24 16-16 16-34 16-26 16-18 16-15 16-6 16 6 16 13 16 15 16 13 16 10 16 0 16-15 16-25 16-23 16-9 16 2 16 15 16 26 16 18 16-1 16-16 16-23 16-29 16-33 16-33 16-27 16-19 16-12 16-7 16 1 16 6 16 9 16 10 16 6 16 3 16-3 16-4 16-6 16-5 16-3 16 1 16 5 16 6 16 8 16 7 16 5 16 3 16 3 16 2 16 2 16 3"/>
<path d="M2156 488l16-3 16-8 16-16 16-17 16 4 16 20 16 19 16 22 16 32 16 14 16-22 16-37 16-25 16-14 16-10 16-9 16-9 16-12 16-12 16-2 16 15 16 26 16 22 16 8 16-1 16-1 16-4 16-5 16 9 16 9 16-7 16-20 16-25 16-30 16-33 16-31 16-19 16-5 16 5 16 7 16 2 16-7 16-14 16-14 16-7 16 5 16 14 16 17 16 13 16 5 16-3 16-6 16-6 16-1 16 4 16 7 16 7 16 3 16-1 16-4 16-4 16-1"/>
<path d="M2156 478l16 4 16 0 16-9 16-17 16-10 16 7 16 16 16 24 16 33 16 13 16-29 16-46 16-31 16-12 16 0 16 9 16 10 16 5 16-4 16-6 16 2 16 11 16 8 16-2 16-8 16-6 16-4 16 4 16 17 16 13 16-6 16-20 16-27 16-38 16-45 16-43 16-29 16-8 16 0 16 1 16-5 16-9 16-6 16 3 16 18 16 28 16 28 16 19 16 5 16-6 16-10 16-8 16 0 16 6 16 9 16 4 16-3 16-8 16-9 16-4 16 4 16 11"/>
<path d="M2156 452l16 7 16 2 16-11 16-31 16-31 16-4 16 21 16 36 16 47 16 30 16-9 16-35 16-40 16-47 16-50 16-40 16-19 16 5 16 29 16 44 16 40 16 18 16-13 16-37 16-36 16-13 16 18 16 44 16 45 16 20 16-5 16-18 16-30 16-48 16-59 16-57 16-35 16-6 16 12 16 18 16 12 16-1 16-16 16-22 16-16 16-2 16 17 16 28 16 33 16 25 16 12 16-2 16-15 16-21 16-17 16-8 16 6 16 16 16 22 16 20 16 11 16 0"/>
<path d="M2156 446l16-9 16-22 16-52 16-70 16-10 16 52 16 60 16 45 16 39 16 20 16-19 16-40 16-32 16-21 16-12 16 0 16 10 16 14 16 7 16 1 16-4 16-7 16-10 16-10 16 2 16 20 16 29 16 27 16 17 16 3 16-12 16-21 16-26 16-31 16-32 16-26 16-20 16-14 16-17 16-20 16-21 16-16 16-5 16 7 16 9 16 10 16 7 16 1 16-4 16-8 16-7 16-3 16 4 16 8 16 9 16 9 16 8 16 5 16 6 16 8 16 11 16 11"/>
<path d="M2156 503l16 5 16 5 16 3 16-5 16-11 16-3 16 12 16 26 16 43 16 32 16 5 16-11 16-20 16-25 16-25 16-16 16 3 16 21 16 27 16 26 16 21 16 12 16 1 16 0 16 6 16 20 16 1 16-41 16-53 16-41 16-31 16-23 16-14 16-9 16-8 16-12 16-22 16-27 16-21 16-7 16 11 16 24 16 27 16 20 16 5 16-7 16-15 16-16 16-13 16-8 16-4 16 2 16 7 16 12 16 14 16 13 16 6 16-4 16-14 16-19 16-18 16-8"/>
<path d="M2156 471l16 1 16-1 16-1 16 3 16 11 16 8 16 3 16 11 16 25 16 10 16-27 16-47 16-36 16-28 16-22 16-18 16-13 16-10 16-4 16 5 16 15 16 16 16 6 16-5 16-6 16 6 16 16 16 27 16 29 16 17 16-4 16-19 16-27 16-35 16-39 16-33 16-20 16-5 16 2 16-1 16-5 16-9 16-9 16-3 16 8 16 15 16 18 16 15 16 8 16 1 16-3 16-1 16 2 16 8 16 11 16 10 16 6 16-1 16-5 16-7 16-4 16 0"/>
<path d="M2156 471l16-1 16-4 16-8 16-7 16 11 16 21 16 18 16 22 16 31 16 14 16-22 16-39 16-30 16-16 16-7 16 2 16 9 16 6 16-7 16-14 16-19 16-17 16-14 16-9 16 4 16 20 16 24 16 19 16 12 16 4 16-12 16-20 16-27 16-32 16-35 16-32 16-25 16-13 16-6 16-4 16-4 16-5 16-8 16-8 16-2 16 5 16 11 16 14 16 13 16 10 16 1 16 1 16 2 16 7 16 13 16 16 16 15 16 12 16 4 16-3 16-9 16-10"/>
<path d="M2156 460l16 3 16-1 16-9 16-17 16-6 16 11 16 21 16 30 16 41 16 21 16-24 16-50 16-45 16-34 16-22 16-6 16 8 16 14 16 11 16 5 16 0 16-4 16-7 16-9 16 0 16 16 16 24 16 23 16 17 16 6 16-11 16-23 16-28 16-36 16-39 16-34 16-22 16-6 16 1 16-6 16-14 16-23 16-27 16-22 16-8 16 9 16 22 16 26 16 23 16 12 16 3 16-2 16-2 16 4 16 11 16 15 16 16 16 10 16 0 16-7 16-13 16-12"/>
<path d="M2156 478l16 1 16-2 16-7 16-14 16-12 16-1 16 10 16 24 16 40 16 23 16-17 16-39 16-34 16-29 16-23 16-11 16 3 16 15 16 20 16 20 16 16 16 5 16-8 16-16 16-9 16 11 16 18 16 16 16 11 16 1 16-14 16-24 16-27 16-30 16-30 16-27 16-20 16-12 16-10 16-8 16-6 16-3 16 1 16 5 16 7 16 6 16 5 16 2 16 1 16-1 16-1 16 2 16 5 16 6 16 6 16 6 16 4 16 2 16 0 16 0 16 1 16 1"/>
<path d="M2156 512l16 6 16 8 16 10 16 8 16 6 16 1 16 2 16 12 16 21 16 15 16-1 16-3 16 0 16-2 16-4 16-6 16 0 16 7 16 7 16 6 16 8 16 3 16-5 16-8 16 2 16 23 16 19 16-13 16-39 16-45 16-41 16-29 16-17 16-14 16-13 16-14 16-13 16-11 16-8 16-6 16-6 16-7 16-9 16-10 16-8 16-4 16 1 16 7 16 12 16 12 16 12 16 10 16 7 16 3 16 2 16 2 16 2 16 2 16 3 16 1 16-1 16-5"/>
<path d="M2156 492l16 4 16 3 16-3 16-13 16-19 16-8 16 8 16 24 16 41 16 28 16-9 16-31 16-32 16-30 16-26 16-16 16-2 16 6 16 5 16 2 16-1 16-4 16-4 16 0 16 14 16 32 16 30 16 9 16-5 16-10 16-18 16-25 16-27 16-29 16-27 16-22 16-16 16-9 16-6 16-4 16 0 16 1 16 1 16-3 16-6 16-8 16-5 16 2 16 10 16 16 16 17 16 16 16 10 16 3 16-2 16-5 16-5 16-2 16 0 16 0 16 1 16 1"/>
<path d="M2156 501l16 5 16 9 16 10 16 9 16-3 16-8 16-4 16 12 16 29 16 22 16-1 16-13 16-11 16-12 16-12 16-6 16 7 16 22 16 22 16 15 16-1 16-20 16-38 16-33 16-15 16 17 16 28 16 11 16-7 16-20 16-27 16-28 16-26 16-24 16-18 16-9 16 0 16 1 16-3 16-5 16-5 16 0 16 6 16 11 16 11 16 4 16-2 16-7 16-8 16-3 16 2 16 7 16 8 16 5 16 1 16-6 16-10 16-10 16-7 16-3 16 1 16 2"/>
<path d="M2156 518l16 7 16 7 16 4 16-3 16-9 16-1 16 10 16 21 16 32 16 25 16 6 16-4 16-9 16-16 16-23 16-26 16-16 16-2 16 10 16 20 16 27 16 22 16 8 16-7 16-8 16 4 16-4 16-25 16-28 16-25 16-25 16-23 16-16 16-11 16-6 16-3 16-3 16-5 16-7 16-8 16-8 16-7 16-6 16-4 16-4 16-2 16-1 16 0 16 0 16 0 16 0 16-2 16-4 16-4 16-5 16-5 16-3 16-1 16 3 16 5 16 9 16 10"/>
<path d="M2156 499l16 2 16 1 16-1 16-1 16 5 16 9 16 9 16 17 16 31 16 17 16-17 16-35 16-29 16-21 16-9 16 6 16 21 16 33 16 29 16 18 16 8 16-3 16-11 16-9 16 6 16 28 16 19 16-20 16-43 16-41 16-34 16-29 16-25 16-22 16-15 16-4 16 1 16-2 16-11 16-22 16-26 16-25 16-15 16-1 16 13 16 19 16 22 16 18 16 14 16 8 16 4 16 2 16 0 16-1 16-2 16-5 16-5 16-6 16-4 16 0 16 4 16 8"/>
<path d="M2156 495l16 1 16 4 16 4 16 10 16 16 16 12 16 7 16 12 16 25 16 13 16-20 16-39 16-38 16-31 16-23 16-13 16-1 16 1 16-4 16-6 16 3 16 17 16 29 16 36 16 42 16 45 16 16 16-33 16-47 16-34 16-25 16-23 16-19 16-16 16-10 16-5 16-4 16-5 16-7 16-11 16-11 16-14 16-18 16-18 16-13 16-6 16 0 16 5 16 4 16 3 16 3 16 5 16 11 16 16 16 19 16 16 16 7 16-4 16-16 16-22 16-18 16-10"/>
<path d="M2156 501l16 0 16 1 16 1 16 1 16 3 16 3 16 4 16 14 16 32 16 21 16-8 16-22 16-19 16-18 16-15 16-9 16 2 16 15 16 19 16 20 16 20 16 12 16 3 16-1 16 11 16 36 16 34 16-4 16-39 16-52 16-46 16-34 16-21 16-17 16-15 16-13 16-9 16-5 16-4 16-3 16-2 16-1 16 3 16 7 16 8 16 7 16 5 16 0 16-3 16-6 16-6 16-6 16-5 16-3 16-3 16-4 16-4 16-4 16-4 16-3 16 0 16 2"/>
<path d="M2156 526l16-3 16-3 16-1 16 5 16 15 16 14 16 6 16 9 16 18 16 12 16-6 16-12 16-5 16-3 16-6 16-9 16-3 16 6 16 10 16 14 16 14 16 2 16-16 16-27 16-18 16 10 16 22 16 8 16-11 16-27 16-35 16-34 16-30 16-31 16-30 16-18 16 1 16 16 16 17 16 6 16-10 16-22 16-23 16-11 16 8 16 23 16 27 16 18 16 4 16-12 16-22 16-21 16-12 16 2 16 14 16 20 16 16 16 8 16-4 16-11 16-13 16-9"/>
<path d="M2156 454l16-3 16-15 16-41 16-67 16-30 16 27 16 51 16 48 16 38 16 12 16-27 16-43 16-39 16-30 16-19 16-3 16 13 16 22 16 21 16 12 16 0 16-12 16-22 16-21 16-4 16 15 16 28 16 31 16 28 16 13 16-3 16-15 16-24 16-35 16-42 16-45 16-42 16-36 16-30 16-24 16-7 16 2 16 8 16 9 16 9 16 5 16 4 16 4 16 5 16 7 16 8 16 8 16 16 16 16 16 14 16 12 16 9 16 6 16 2 16-1 16-5 16-6"/>
<path d="M2156 454l16 1 16 3 16 8 16 16 16 15 16 1 16-6 16 7 16 24 16 11 16-22 16-36 16-22 16-11 16-3 16 3 16 10 16 13 16 11 16 7 16 6 16 1 16-8 16-15 16-15 16-9 16-10 16-8 16 5 16 9 16-5 16-16 16-24 16-30 16-29 16-25 16-16 16-9 16-6 16-4 16-8 16-7 16-3 16 1 16 5 16 8 16 10 16 10 16 10 16 9 16 9 16 9 16 9 16 7 16 5 16 1 16-2 16-6 16-9 16-10 16-10 16-8"/>
<path d="M2156 523l16 3 16 3 16 4 16 3 16 3 16 1 16 0 16 8 16 22 16 11 16-17 16-33 16-27 16-16 16-9 16 3 16 15 16 23 16 17 16 7 16-1 16-1 16-5 16 3 16 26 16 59 16 62 16 15 16-43 16-65 16-60 16-41 16-24 16-20 16-19 16-16 16-6 16 5 16 13 16 14 16 11 16 5 16-4 16-12 16-20 16-18 16-13 16-5 16 1 16 4 16 5 16 4 16 1 16-2 16-3 16-3 16 0 16 3 16 6 16 9 16 8 16 6"/>
<path d="M2156 486l16 0 16-3 16-9 16-13 16-2 16 12 16 18 16 26 16 39 16 23 16-13 16-35 16-36 16-32 16-28 16-15 16 2 16 14 16 16 16 16 16 9 16-2 16-13 16-19 16-10 16 10 16 17 16 14 16 10 16 2 16-12 16-23 16-25 16-27 16-24 16-18 16-11 16-7 16-8 16-9 16-10 16-6 16-1 16 5 16 9 16 10 16 8 16 4 16-1 16-2 16-3 16-2 16 1 16 3 16 4 16 3 16 2 16 0 16-2 16-1 16-2 16-1"/>
<path d="M2156 514l16 4 16 2 16-1 16-7 16-6 16 4 16 11 16 20 16 32 16 21 16-3 16-13 16-8 16-4 16-1 16 0 16 6 16 9 16 5 16 1 16 0 16-5 16-15 16-21 16-15 16 5 16 8 16-3 16-5 16-13 16-23 16-27 16-26 16-28 16-30 16-28 16-18 16-4 16 2 16-3 16-11 16-20 16-19 16-8 16 12 16 28 16 34 16 27 16 12 16-2 16-11 16-10 16-2 16 10 16 19 16 18 16 8 16-4 16-15 16-16 16-7 16 8"/>
<path d="M2156 435l16-10 16-19 16-46 16-62 16-9 16 39 16 48 16 37 16 29 16 12 16-18 16-32 16-22 16-18 16-17 16-13 16-5 16 7 16 19 16 28 16 28 16 15 16-6 16-25 16-25 16-8 16 11 16 29 16 35 16 17 16-4 16-18 16-27 16-36 16-42 16-39 16-29 16-18 16-15 16-16 16-17 16-14 16-7 16 4 16 13 16 19 16 19 16 16 16 9 16 2 16-1 16-3 16-1 16 1 16 3 16 4 16 4 16 2 16 0 16-2 16-2 16-3"/>
<path d="M2156 442l16-8 16-17 16-43 16-60 16-14 16 35 16 48 16 43 16 46 16 31 16-5 16-27 16-23 16-16 16-12 16-2 16 8 16 14 16 9 16-2 16-13 16-25 16-32 16-30 16-16 16 7 16 24 16 34 16 33 16 15 16-4 16-15 16-21 16-29 16-31 16-31 16-29 16-24 16-22 16-19 16-12 16-4 16 4 16 6 16 9 16 13 16 16 16 18 16 19 16 17 16 16 16 10 16 5 16 0 16-6 16-10 16-9 16-9 16-9 16-9 16-9 16-8"/>
<path d="M2156 444l16-7 16-15 16-30 16-38 16-4 16 26 16 29 16 28 16 32 16 16 16-16 16-31 16-22 16-16 16-17 16-15 16-8 16-2 16 5 16 7 16 5 16-5 16-18 16-24 16-15 16 9 16 29 16 37 16 31 16 10 16-6 16-16 16-28 16-41 16-45 16-41 16-30 16-19 16-15 16-15 16-12 16-5 16 5 16 12 16 15 16 12 16 7 16 4 16 3 16 4 16 6 16 9 16 9 16 7 16 3 16 2 16 1 16 4 16 7 16 8 16 9 16 6"/>
<path d="M2156 475l16 0 16-4 16-11 16-22 16-14 16 1 16 12 16 25 16 34 16 12 16-31 16-52 16-41 16-24 16-7 16 11 16 23 16 24 16 12 16-3 16-12 16-11 16-3 16 6 16 19 16 29 16 22 16 1 16-5 16-4 16-11 16-19 16-24 16-29 16-33 16-35 16-35 16-31 16-24 16-14 16-4 16 2 16 3 16-2 16-6 16-6 16-2 16 6 16 13 16 15 16 12 16 7 16 1 16-4 16-2 16 2 16 8 16 13 16 14 16 11 16 5 16 0"/>
<path d="M2156 526l16 5 16 4 16 2 16-5 16-8 16 0 16 9 16 18 16 30 16 20 16-6 16-19 16-17 16-10 16 0 16 15 16 35 16 49 16 45 16 29 16 10 16-8 16-19 16-21 16 4 16 41 16 42 16-18 16-74 16-84 16-65 16-42 16-25 16-21 16-19 16-13 16-4 16-1 16-2 16-7 16-10 16-12 16-8 16-3 16 3 16 8 16 7 16 6 16 2 16-1 16-3 16-2 16 1 16 3 16 6 16 9 16 8 16 7 16 5 16 1 16-4 16-6"/>
<path d="M2156 485l16 2 16-1 16-6 16-11 16-4 16 5 16 12 16 23 16 37 16 22 16-15 16-35 16-32 16-28 16-22 16-13 16 0 16 6 16 7 16 5 16 3 16-2 16-9 16-11 16-1 16 16 16 24 16 18 16 12 16 1 16-14 16-24 16-27 16-30 16-32 16-28 16-18 16-9 16-5 16-3 16-4 16-4 16-3 16-1 16 4 16 9 16 11 16 13 16 10 16 6 16 2 16-1 16-3 16-2 16-1 16 0 16 2 16 1 16 0 16-2 16-3 16-2"/>
<path d="M2156 485l16 1 16-1 16-7 16-15 16-15 16-5 16 6 16 20 16 35 16 19 16-25 16-46 16-37 16-26 16-19 16-7 16 9 16 20 16 25 16 25 16 19 16 6 16-14 16-27 16-26 16-9 16 7 16 24 16 32 16 20 16-4 16-18 16-24 16-30 16-37 16-41 16-39 16-29 16-17 16-6 16 7 16 16 16 18 16 18 16 13 16 6 16-2 16-6 16-11 16-11 16-8 16-3 16 4 16 10 16 15 16 17 16 17 16 12 16 8 16 0 16-5 16-9"/>
<path d="M2156 444l16-19 16-37 16-69 16-83 16 0 16 65 16 64 16 40 16 26 16 11 16-13 16-21 16-10 16-10 16-19 16-24 16-14 16 6 16 32 16 46 16 37 16-1 16-46 16-70 16-55 16-6 16 52 16 83 16 57 16 10 16-21 16-30 16-38 16-46 16-40 16-19 16 2 16 4 16-16 16-39 16-51 16-41 16-17 16 11 16 27 16 25 16 15 16 3 16-2 16 0 16 5 16 8 16 7 16 2 16-2 16-4 16 1 16 9 16 15 16 14 16 5 16-7"/>
<path d="M2156 447l16-6 16-15 16-39 16-61 16-23 16 26 16 43 16 38 16 30 16 10 16-21 16-36 16-26 16-15 16-8 16 0 16 9 16 16 16 18 16 14 16 8 16-1 16-12 16-17 16-11 16 6 16 17 16 23 16 23 16 12 16-6 16-18 16-28 16-38 16-41 16-38 16-28 16-16 16-11 16-12 16-12 16-13 16-11 16-9 16-3 16 3 16 9 16 12 16 14 16 13 16 11 16 10 16 9 16 7 16 7 16 7 16 6 16 7 16 5 16 5 16 1 16 0"/>
<path d="M2156 472l16-4 16-12 16-24 16-36 16-17 16 14 16 29 16 39 16 48 16 27 16-15 16-40 16-40 16-39 16-36 16-26 16-10 16 7 16 20 16 28 16 29 16 16 16-5 16-23 16-26 16-14 16 2 16 21 16 33 16 22 16 1 16-13 16-23 16-32 16-38 16-39 16-30 16-20 16-12 16-9 16-5 16-5 16-3 16-2 16 0 16 2 16 5 16 5 16 6 16 5 16 4 16 4 16 2 16 1 16 0 16-1 16-1 16 1 16 3 16 5 16 8 16 9"/>
<path d="M2156 483l16 3 16 6 16 12 16 21 16 16 16-3 16-12 16 0 16 19 16 10 16-23 16-38 16-30 16-23 16-20 16-13 16-5 16 1 16 6 16 12 16 17 16 17 16 6 16-4 16-5 16 8 16 14 16 10 16 10 16 1 16-14 16-23 16-25 16-29 16-31 16-31 16-23 16-8 16 3 16 11 16 14 16 8 16-3 16-14 16-22 16-20 16-11 16 0 16 12 16 19 16 19 16 15 16 7 16-1 16-7 16-9 16-6 16 1 16 7 16 11 16 12 16 8"/>
<path d="M2156 482l16 4 16 7 16 12 16 20 16 12 16-7 16-13 16 1 16 22 16 14 16-12 16-23 16-17 16-16 16-19 16-19 16-12 16 0 16 9 16 16 16 19 16 7 16-12 16-26 16-20 16 2 16 18 16 24 16 19 16 3 16-15 16-27 16-28 16-30 16-27 16-16 16-4 16 1 16-5 16-16 16-23 16-22 16-11 16 6 16 21 16 27 16 21 16 11 16-2 16-9 16-11 16-6 16 0 16 6 16 7 16 4 16 0 16-4 16-3 16-1 16 5 16 8"/>
<path d="M2156 488l16 1 16 3 16 6 16 12 16 11 16 1 16-4 16 8 16 25 16 16 16-15 16-28 16-21 16-16 16-15 16-11 16-2 16 7 16 12 16 18 16 24 16 22 16 11 16 1 16 0 16 17 16 8 16-15 16-24 16-23 16-25 16-24 16-18 16-16 16-14 16-14 16-15 16-15 16-14 16-11 16-6 16-2 16 0 16 1 16 1 16 1 16 2 16 4 16 6 16 5 16 4 16 0 16-3 16-6 16-8 16-7 16-3 16 2 16 8 16 12 16 12 16 8"/>
<path d="M2156 528l16 6 16 7 16 12 16 13 16 8 16-1 16-2 16 6 16 17 16 10 16-8 16-12 16-5 16 5 16 15 16 24 16 37 16 47 16 39 16 23 16 8 16-16 16-30 16-28 16-7 16 22 16 14 16-37 16-73 16-70 16-51 16-35 16-25 16-21 16-13 16-3 16 5 16 5 16-2 16-10 16-17 16-20 16-16 16-10 16-2 16 4 16 8 16 9 16 9 16 7 16 3 16 2 16 0 16 0 16 3 16 5 16 7 16 8 16 6 16 1 16-4 16-7"/>
<path d="M2156 504l16 9 16 11 16 15 16 16 16 5 16-9 16-10 16 2 16 20 16 11 16-18 16-35 16-32 16-26 16-20 16-8 16 6 16 19 16 22 16 21 16 15 16 2 16-12 16-19 16-11 16 12 16 20 16 10 16 1 16-10 16-21 16-25 16-24 16-26 16-26 16-25 16-19 16-11 16-5 16 0 16 3 16 4 16 3 16 1 16 0 16 0 16 1 16 1 16 3 16 2 16 3 16 5 16 6 16 6 16 6 16 8 16 8 16 7 16 6 16 3 16 0 16-4"/>
<path d="M2156 518l16 15 16 14 16 13 16-4 16-27 16-22 16-2 16 19 16 37 16 30 16 4 16-10 16-16 16-18 16-16 16-4 16 19 16 42 16 47 16 39 16 22 16-4 16-23 16-21 16 5 16 48 16 48 16-3 16-63 16-82 16-68 16-45 16-27 16-23 16-23 16-15 16-3 16 4 16 3 16-4 16-13 16-18 16-17 16-9 16-1 16 5 16 6 16 0 16-6 16-11 16-9 16-3 16 6 16 16 16 22 16 21 16 14 16 3 16-6 16-12 16-12 16-7"/>
</g>
<g stroke="#8a8a8a" stroke-width="1" fill="none" shape-rendering="crispEdges">
<rect x="93.7" y="321.5" width="200.7" height="156.9"/>
</g>
<path d="M93.7 478.4h2M294.4 478.4h-2M93.7 458.8h2M294.4 458.8h-2M93.7 439.2h2M294.4 439.2h-2M93.7 419.6h2M294.4 419.6h-2M93.7 399.9h2M294.4 399.9h-2M93.7 380.3h2M294.4 380.3h-2M93.7 360.7h2M294.4 360.7h-2M93.7 341.1h2M294.4 341.1h-2M93.7 321.5h2M294.4 321.5h-2M93.7 478.4v-2M93.7 321.5v2M133.8 478.4v-2M133.8 321.5v2M174.0 478.4v-2M174.0 321.5v2M214.1 478.4v-2M214.1 321.5v2M254.3 478.4v-2M254.3 321.5v2M294.4 478.4v-2M294.4 321.5v2" stroke="#8a8a8a" stroke-width="0.8" fill="none"/>
<g font-family="Liberation Sans" font-size="6.7" fill="#404040">
<text x="90.2" y="480.6" text-anchor="end">-2</text>
<text x="90.2" y="461.0" text-anchor="end">-1</text>
<text x="90.2" y="441.4" text-anchor="end">0</text>
<text x="90.2" y="421.8" text-anchor="end">1</text>
<text x="90.2" y="402.1" text-anchor="end">2</text>
<text x="90.2" y="382.5" text-anchor="end">3</text>
<text x="90.2" y="362.9" text-anchor="end">4</text>
<text x="90.2" y="343.3" text-anchor="end">5</text>
<text x="90.2" y="323.7" text-anchor="end">6</text>
<text x="93.7" y="487.4" text-anchor="middle">0</text>
<text x="133.8" y="487.4" text-anchor="middle">100</text>
<text x="174.0" y="487.4" text-anchor="middle">200</text>
<text x="214.1" y="487.4" text-anchor="middle">300</text>
<text x="254.3" y="487.4" text-anchor="middle">400</text>
<text x="294.4" y="487.4" text-anchor="middle">500</text>
</g>
<text x="193.8" y="317.8" text-anchor="middle" font-family="Liberation Serif" font-weight="bold" font-size="10" fill="#111">First stage - Nontarget</text>
<text x="194.0" y="498.9" text-anchor="middle" font-family="Liberation Serif" font-weight="bold" font-size="9.7" fill="#222">Time(ms)</text>
<text transform="translate(82.0,399.9) rotate(-90)" x="0" y="0" text-anchor="middle" font-family="Liberation Serif" font-weight="bold" font-size="9.9" fill="#222">Amplitude(uV)</text>
<g transform="scale(0.2)" fill="none" stroke="#0000ff" stroke-width="2.5" stroke-opacity="0.7" stroke-dasharray="6 3">
<path d="M468 2243l16-9 16-18 16-14 16 2 16 10 16 5 16-7 16-13 16-7 16 10 16 27 16 28 16 19 16 18 16 16 16 9 16-2 16-12 16-18 16-22 16-27 16-30 16-23 16-8 16 0 16-3 16-8 16-10 16 0 16 13 16 22 16 21 16 14 16 9 16 4 16-1 16-4 16-4 16-7 16-10 16-16 16-17 16-11 16 0 16 6 16 5 16-2 16-5 16-5 16 0 16 2 16 4 16 6 16 8 16 8 16 4 16-1 16 1 16 7 16 11 16 8 16 0"/>
<path d="M468 2161l16-2 16-11 16-7 16 3 16 10 16 8 16 0 16-5 16-3 16-1 16-1 16-1 16 9 16 25 16 33 16 20 16-3 16-17 16-21 16-18 16-20 16-24 16-19 16-9 16 0 16 3 16 6 16 10 16 15 16 17 16 12 16 6 16 2 16 3 16 4 16 2 16-7 16-13 16-15 16-16 16-13 16-10 16-6 16 0 16 1 16-3 16-2 16 2 16 9 16 9 16 1 16-11 16-14 16-8 16 1 16 2 16-5 16-14 16-18 16-14 16-10 16 1"/>
<path d="M468 2192l16-2 16-10 16-10 16-2 16 2 16 1 16-1 16 0 16 7 16 11 16 7 16 0 16 1 16 15 16 25 16 18 16-1 16-14 16-16 16-13 16-15 16-21 16-20 16-12 16-4 16-3 16 0 16 4 16 9 16 19 16 24 16 25 16 27 16 22 16 10 16-3 16-12 16-13 16-12 16-12 16-18 16-20 16-11 16-2 16 4 16-1 16-9 16-11 16-5 16 2 16 4 16 2 16 0 16 3 16 4 16-1 16-6 16-8 16-2 16 6 16 10 16 8"/>
<path d="M468 2194l16-3 16-6 16 1 16 7 16 6 16-4 16-12 16-10 16-1 16 12 16 21 16 23 16 20 16 25 16 25 16 11 16-5 16-15 16-13 16-9 16-13 16-23 16-25 16-18 16-9 16-6 16-7 16-6 16 0 16 14 16 24 16 24 16 17 16 8 16 1 16-1 16-2 16-2 16-5 16-7 16-11 16-12 16-9 16-6 16-2 16-3 16-3 16-3 16-4 16-5 16-6 16-5 16-3 16 2 16 3 16 4 16 4 16 5 16 8 16 7 16 3 16 1"/>
<path d="M468 2209l16-2 16-11 16-12 16-5 16 4 16 5 16 3 16-1 16 1 16 5 16 13 16 16 16 19 16 26 16 28 16 17 16 1 16-5 16-4 16-2 16-4 16-13 16-18 16-16 16-14 16-16 16-19 16-18 16-6 16 11 16 24 16 27 16 23 16 12 16-2 16-12 16-17 16-15 16-13 16-13 16-16 16-13 16-4 16 9 16 12 16 2 16-12 16-16 16-10 16 0 16 6 16 3 16 0 16 3 16 8 16 11 16 8 16 0 16-4 16-5 16-1 16 4"/>
<path d="M468 2175l16 1 16-8 16-14 16-11 16-1 16 6 16 7 16 5 16 4 16 3 16 0 16-3 16 1 16 13 16 20 16 12 16-7 16-19 16-19 16-13 16-13 16-23 16-27 16-17 16 1 16 17 16 23 16 18 16 8 16 4 16 7 16 11 16 13 16 6 16-3 16-9 16-9 16-3 16-1 16-7 16-17 16-19 16-10 16 3 16 10 16 8 16 0 16-4 16-2 16 0 16 2 16 3 16 3 16 3 16 1 16-1 16 0 16 6 16 7 16 3 16-7 16-10"/>
<path d="M468 2162l16 6 16-5 16-10 16-4 16 8 16 9 16 1 16-8 16-7 16 2 16 2 16-4 16-5 16 9 16 23 16 22 16 5 16-15 16-25 16-21 16-21 16-24 16-25 16-14 16 4 16 18 16 20 16 15 16 10 16 14 16 19 16 17 16 9 16 2 16 1 16 1 16-2 16-10 16-14 16-12 16-6 16-2 16-3 16-5 16-3 16 3 16 5 16 2 16-5 16-6 16-2 16 2 16 3 16 0 16-1 16 3 16 5 16 4 16 0 16-3 16 0 16 3"/>
<path d="M468 2204l16-9 16-14 16-8 16 2 16 8 16 3 16-2 16-1 16 5 16 13 16 16 16 16 16 19 16 29 16 32 16 19 16-7 16-24 16-25 16-14 16-4 16-1 16-3 16-8 16-14 16-18 16-16 16-10 16-2 16 6 16 12 16 20 16 27 16 25 16 11 16-8 16-17 16-14 16-5 16-4 16-13 16-23 16-19 16-3 16 9 16 7 16-4 16-10 16-6 16 3 16 7 16 2 16-2 16-4 16 0 16-1 16-6 16-11 16-8 16 4 16 14 16 20"/>
<path d="M468 2194l16 0 16-5 16-4 16 0 16 3 16-3 16-5 16-3 16 5 16 12 16 11 16 8 16 12 16 24 16 31 16 20 16 1 16-14 16-16 16-16 16-19 16-25 16-23 16-13 16-5 16-4 16-5 16-3 16 3 16 12 16 18 16 18 16 17 16 15 16 10 16 1 16-5 16-8 16-7 16-8 16-14 16-17 16-12 16-1 16 7 16 8 16 2 16-1 16 0 16 2 16-2 16-6 16-6 16-1 16 6 16 7 16 3 16 0 16-2 16-2 16-3 16-3"/>
<path d="M468 2207l16-5 16-10 16-7 16 2 16 3 16-1 16-6 16-4 16 2 16 8 16 8 16 7 16 14 16 30 16 35 16 20 16-5 16-21 16-24 16-18 16-17 16-20 16-18 16-11 16-4 16-2 16-2 16-2 16 3 16 9 16 16 16 18 16 20 16 18 16 10 16-3 16-12 16-14 16-11 16-9 16-12 16-12 16-8 16 1 16 4 16 0 16-7 16-6 16-1 16 6 16 4 16 0 16-3 16 1 16 5 16 4 16-3 16-5 16-2 16 4 16 8 16 5"/>
<path d="M468 2212l16 5 16-4 16-9 16-5 16 3 16 5 16 0 16-7 16-4 16 9 16 28 16 30 16 21 16 18 16 19 16 15 16 4 16-10 16-19 16-21 16-21 16-17 16-12 16-9 16-11 16-14 16-14 16-8 16-2 16 8 16 16 16 25 16 31 16 26 16 12 16-6 16-13 16-8 16-3 16-5 16-15 16-18 16-11 16 2 16 6 16 0 16-8 16-8 16-2 16 2 16-1 16-8 16-11 16-4 16 5 16 7 16 1 16-3 16-2 16 3 16 5 16 4"/>
<path d="M468 2208l16-2 16-7 16-7 16-3 16-1 16-2 16-3 16 0 16 4 16 7 16 10 16 11 16 18 16 32 16 37 16 23 16 0 16-13 16-13 16-6 16-3 16-8 16-13 16-15 16-15 16-13 16-12 16-9 16-2 16 9 16 17 16 21 16 20 16 16 16 7 16-5 16-12 16-14 16-12 16-12 16-13 16-13 16-6 16 3 16 7 16 3 16-2 16-3 16 2 16 5 16 2 16-4 16-6 16-1 16 6 16 7 16 1 16-5 16-8 16-5 16-1 16 3"/>
<path d="M468 2178l16-8 16-9 16 0 16 10 16 7 16-4 16-13 16-9 16 3 16 11 16 7 16 1 16 5 16 19 16 26 16 16 16-1 16-13 16-17 16-20 16-28 16-31 16-21 16-1 16 10 16 9 16 5 16 4 16 8 16 11 16 11 16 11 16 14 16 17 16 10 16-3 16-11 16-10 16-3 16-2 16-8 16-16 16-12 16-2 16 4 16 2 16-3 16-2 16 1 16 2 16-6 16-13 16-10 16 1 16 9 16 8 16-2 16-8 16-8 16-4 16 2 16 8"/>
<path d="M468 2217l16-2 16-6 16-2 16 3 16 5 16-2 16-10 16-12 16-6 16 6 16 21 16 25 16 24 16 24 16 20 16 2 16-18 16-25 16-19 16-8 16-6 16-11 16-14 16-14 16-15 16-16 16-12 16-4 16 8 16 20 16 28 16 27 16 21 16 14 16 4 16-5 16-7 16-3 16 1 16 1 16-5 16-10 16-11 16-5 16 0 16-2 16-5 16-5 16-1 16 5 16 3 16 1 16-3 16-1 16 0 16-1 16-3 16-5 16-1 16 1 16 2 16-1"/>
<path d="M468 2139l16 5 16 1 16 0 16 1 16 1 16-1 16-1 16 1 16 7 16 8 16 4 16-1 16 4 16 17 16 23 16 11 16-8 16-18 16-18 16-14 16-20 16-30 16-30 16-17 16 1 16 15 16 21 16 20 16 11 16 5 16 4 16 6 16 12 16 16 16 11 16 1 16-8 16-10 16-6 16-2 16-4 16-9 16-9 16-3 16 2 16 1 16-4 16-7 16-5 16-2 16 0 16-2 16-5 16-5 16-9 16-12 16-14 16-11 16-4 16 0 16-3 16-8"/>
<path d="M468 2174l16-11 16-16 16-9 16 6 16 13 16 7 16-3 16-4 16 0 16-2 16-15 16-22 16-8 16 16 16 30 16 21 16-1 16-15 16-15 16-10 16-13 16-20 16-15 16 0 16 12 16 14 16 10 16 10 16 13 16 18 16 16 16 11 16 8 16 8 16 7 16 0 16-6 16-5 16-4 16-6 16-17 16-26 16-21 16-9 16 3 16 3 16-5 16-11 16-8 16-4 16-6 16-9 16-9 16 0 16 7 16 3 16-8 16-15 16-14 16-8 16-3 16 0"/>
<path d="M468 2177l16-5 16-9 16-3 16 4 16 6 16-2 16-5 16 1 16 9 16 11 16 8 16 3 16 9 16 25 16 29 16 13 16-9 16-20 16-18 16-13 16-19 16-29 16-26 16-7 16 6 16 7 16 1 16-2 16 4 16 13 16 19 16 18 16 14 16 13 16 10 16 2 16-6 16-11 16-14 16-15 16-15 16-12 16-7 16 1 16 5 16 2 16 0 16 0 16 0 16-1 16-4 16-4 16 1 16 6 16 3 16-6 16-11 16-6 16 2 16 5 16 1 16-2"/>
<path d="M468 2167l16-4 16-9 16-2 16 7 16 7 16-3 16-10 16-3 16 10 16 13 16 1 16-15 16-12 16 12 16 28 16 19 16-7 16-26 16-25 16-18 16-19 16-27 16-28 16-10 16 11 16 23 16 24 16 17 16 12 16 11 16 12 16 14 16 19 16 18 16 10 16-6 16-16 16-16 16-9 16-7 16-15 16-21 16-16 16-2 16 4 16-4 16-16 16-18 16-7 16 8 16 11 16 2 16-5 16-5 16-1 16 0 16-3 16-5 16-1 16 7 16 11 16 8"/>
<path d="M468 2181l16-3 16-9 16-6 16 2 16 4 16-4 16-9 16-4 16 8 16 12 16 0 16-13 16-8 16 18 16 36 16 29 16 3 16-17 16-21 16-18 16-19 16-22 16-18 16-3 16 7 16 8 16 6 16 6 16 6 16 7 16 9 16 12 16 21 16 26 16 20 16 0 16-16 16-23 16-15 16-7 16-8 16-12 16-11 16-5 16 0 16-1 16-7 16-7 16-2 16 6 16 4 16 0 16-2 16-1 16 1 16-1 16-4 16-1 16 5 16 10 16 7 16-2"/>
<path d="M468 2231l16 0 16-6 16-8 16-5 16 0 16 1 16-3 16-4 16-2 16 5 16 17 16 20 16 22 16 27 16 25 16 8 16-7 16-16 16-16 16-19 16-28 16-38 16-29 16-11 16 1 16-1 16-6 16-5 16 5 16 17 16 21 16 16 16 14 16 13 16 13 16 8 16-2 16-7 16-7 16-4 16-3 16-7 16-8 16-7 16-1 16 3 16 5 16 3 16 0 16-2 16-4 16-2 16 2 16 4 16 1 16-4 16-8 16-5 16 2 16 2 16 0 16-3"/>
<path d="M468 2162l16-10 16-11 16 0 16 12 16 12 16 1 16-8 16-7 16 3 16 9 16 6 16 0 16 2 16 16 16 20 16 11 16-6 16-13 16-13 16-11 16-20 16-26 16-18 16 0 16 12 16 10 16 1 16-2 16 7 16 20 16 23 16 16 16 8 16 7 16 7 16 5 16-4 16-14 16-19 16-20 16-18 16-16 16-7 16 1 16 7 16 3 16-3 16-6 16-1 16 6 16 6 16 4 16-1 16 0 16 4 16 6 16 2 16-4 16-6 16-2 16 5 16 8"/>
<path d="M468 2172l16-1 16-7 16-5 16 2 16 5 16 0 16-5 16-6 16 0 16 4 16 3 16-1 16 2 16 16 16 26 16 18 16 1 16-10 16-12 16-13 16-20 16-29 16-26 16-9 16 8 16 14 16 10 16 6 16 6 16 10 16 13 16 15 16 18 16 19 16 13 16-1 16-13 16-18 16-15 16-9 16-8 16-6 16-3 16 2 16 3 16-3 16-9 16-10 16-4 16 0 16 0 16-5 16-6 16 0 16 6 16 7 16 5 16-1 16-1 16-1 16-3 16-3"/>
<path d="M468 2173l16-4 16-13 16-7 16 6 16 10 16 2 16-7 16-4 16 6 16 10 16 3 16-3 16 3 16 23 16 31 16 16 16-9 16-21 16-20 16-18 16-28 16-41 16-35 16-12 16 12 16 19 16 16 16 10 16 10 16 12 16 11 16 9 16 12 16 19 16 15 16 2 16-12 16-12 16-4 16 2 16-7 16-19 16-19 16-5 16 9 16 10 16 0 16-8 16-7 16 0 16 2 16 0 16-1 16 4 16 7 16 3 16-5 16-11 16-7 16-1 16 3 16 2"/>
<path d="M468 2161l16-3 16-4 16-2 16 2 16 5 16 0 16-5 16-8 16-5 16-2 16-7 16-7 16-3 16 4 16 7 16 7 16-1 16-8 16-10 16-8 16-12 16-15 16-10 16 0 16 9 16 15 16 16 16 13 16 8 16 9 16 17 16 24 16 25 16 14 16-5 16-18 16-20 16-14 16-8 16-8 16-11 16-14 16-11 16-9 16-7 16-6 16-2 16 6 16 10 16 6 16-1 16-4 16 2 16 11 16 14 16 4 16-2 16-3 16 4 16 7 16 5 16 0"/>
<path d="M468 2181l16-14 16-18 16-7 16 10 16 11 16 0 16-10 16-4 16 7 16 8 16-9 16-16 16-1 16 29 16 41 16 22 16-9 16-23 16-17 16-7 16-13 16-25 16-21 16-3 16 8 16 6 16-2 16-1 16 11 16 22 16 21 16 9 16 4 16 7 16 10 16 2 16-13 16-18 16-11 16-1 16-3 16-14 16-18 16-5 16 9 16 12 16-2 16-10 16-5 16 6 16 10 16 2 16-7 16-5 16 6 16 13 16 7 16-3 16-7 16-1 16 5 16 3"/>
<path d="M468 2156l16 1 16-7 16-6 16 0 16 6 16 3 16-2 16-2 16 2 16 2 16-8 16-14 16-3 16 13 16 18 16 6 16-13 16-22 16-20 16-14 16-14 16-15 16-9 16 7 16 15 16 16 16 13 16 12 16 13 16 17 16 16 16 12 16 7 16 6 16 2 16-2 16-8 16-9 16-7 16-8 16-15 16-20 16-19 16-12 16-3 16-1 16-2 16 0 16 2 16 3 16-2 16-6 16-6 16 1 16 5 16 1 16-7 16-12 16-11 16-8 16-7 16-6"/>
<path d="M468 2172l16-2 16-13 16-13 16-2 16 6 16 5 16-1 16 0 16 5 16 3 16-11 16-21 16-10 16 12 16 22 16 13 16-9 16-20 16-15 16-9 16-13 16-25 16-27 16-10 16 11 16 23 16 20 16 15 16 11 16 11 16 12 16 11 16 13 16 13 16 10 16 0 16-8 16-10 16-6 16-3 16-10 16-17 16-14 16 0 16 11 16 11 16-1 16-9 16-10 16-3 16-1 16-2 16-5 16-3 16 1 16 0 16-5 16-7 16-6 16-3 16-4 16-8"/>
<path d="M468 2191l16-4 16-7 16-3 16 3 16 3 16-2 16-6 16-2 16 6 16 8 16 9 16 12 16 20 16 31 16 30 16 15 16-6 16-14 16-12 16-10 16-17 16-27 16-30 16-21 16-12 16-7 16-1 16 5 16 12 16 14 16 13 16 11 16 14 16 18 16 12 16-3 16-13 16-11 16-4 16-2 16-13 16-23 16-18 16 2 16 17 16 12 16-4 16-14 16-10 16-1 16 2 16-3 16-3 16 1 16 9 16 8 16 0 16-7 16-7 16-2 16-1 16 0"/>
<path d="M468 2168l16-4 16-11 16-7 16 3 16 7 16 3 16-4 16-5 16 0 16 1 16-6 16-7 16 9 16 32 16 42 16 23 16-8 16-25 16-23 16-14 16-12 16-16 16-12 16-1 16 6 16 3 16-1 16 0 16 6 16 13 16 16 16 14 16 13 16 13 16 7 16-2 16-10 16-12 16-8 16-8 16-12 16-19 16-14 16-3 16 6 16 3 16-3 16-5 16-1 16 4 16 1 16-5 16-7 16 1 16 8 16 9 16 3 16-4 16-6 16-5 16-3 16-1"/>
<path d="M468 2173l16 5 16 0 16-2 16-5 16-6 16-9 16-5 16 4 16 13 16 11 16-2 16-12 16-6 16 19 16 33 16 22 16-3 16-20 16-20 16-15 16-15 16-21 16-17 16-3 16 8 16 8 16 4 16 2 16 5 16 9 16 13 16 15 16 22 16 22 16 11 16-8 16-20 16-16 16-2 16 2 16-7 16-19 16-18 16-1 16 13 16 11 16-2 16-14 16-11 16-3 16 3 16 1 16 0 16 3 16 7 16 5 16-1 16-6 16-4 16 2 16 3 16 2"/>
<path d="M468 2188l16-5 16-9 16-6 16 0 16 4 16 1 16-3 16-2 16 2 16 10 16 13 16 11 16 10 16 18 16 24 16 16 16 0 16-15 16-22 16-23 16-22 16-23 16-20 16-12 16-3 16 5 16 8 16 9 16 6 16 7 16 14 16 21 16 26 16 19 16 6 16-5 16-4 16-1 16-1 16-8 16-15 16-11 16-2 16 5 16 1 16-9 16-13 16-11 16-4 16-3 16-8 16-10 16-4 16 4 16 6 16 0 16-6 16-6 16 2 16 7 16 2 16-3"/>
<path d="M468 2199l16 4 16-6 16-9 16-5 16-2 16-1 16-5 16-5 16-1 16 6 16 13 16 14 16 15 16 24 16 27 16 19 16 2 16-12 16-18 16-21 16-21 16-19 16-12 16-1 16 1 16-3 16-3 16 0 16 3 16 8 16 11 16 16 16 24 16 29 16 20 16 3 16-10 16-14 16-10 16-7 16-11 16-17 16-16 16-7 16 1 16 2 16-1 16-4 16-1 16 1 16 2 16-2 16-6 16-5 16-3 16-2 16-4 16-4 16-2 16 3 16 8 16 6"/>
<path d="M468 2191l16-4 16-11 16-11 16-3 16 4 16 6 16 2 16-5 16-8 16-3 16 5 16 12 16 22 16 31 16 32 16 18 16-4 16-17 16-20 16-14 16-15 16-17 16-15 16-7 16-3 16-2 16-3 16-3 16 0 16 7 16 14 16 18 16 20 16 19 16 12 16 3 16-8 16-15 16-17 16-12 16-6 16-3 16-3 16-5 16-9 16-11 16-9 16-3 16 3 16 4 16 3 16-3 16-7 16-6 16-2 16 1 16 3 16 2 16 1 16 3 16 5 16 7"/>
<path d="M468 2189l16-1 16-12 16-11 16-1 16 5 16 3 16-3 16-2 16 4 16 5 16 1 16-6 16 3 16 24 16 36 16 25 16-1 16-19 16-21 16-16 16-18 16-25 16-23 16-8 16 2 16 6 16 3 16 4 16 7 16 11 16 12 16 13 16 18 16 22 16 16 16-1 16-16 16-19 16-14 16-6 16-9 16-15 16-13 16-3 16 7 16 4 16-4 16-8 16-6 16-1 16 0 16-2 16-1 16 4 16 9 16 5 16-4 16-10 16-6 16 0 16 5 16 4"/>
<path d="M468 2235l16-2 16-11 16-9 16-2 16 3 16-1 16-9 16-10 16-1 16 8 16 10 16 7 16 10 16 24 16 30 16 18 16-8 16-23 16-23 16-12 16-8 16-11 16-14 16-10 16-6 16-1 16 3 16 5 16 5 16 8 16 15 16 21 16 24 16 22 16 10 16-4 16-9 16-6 16-2 16-8 16-19 16-22 16-11 16 6 16 11 16 3 16-13 16-15 16-6 16-1 16-5 16-10 16-7 16 5 16 11 16 4 16-9 16-13 16-4 16 9 16 14 16 9"/>
<path d="M468 2214l16 0 16-4 16-5 16-4 16-4 16-9 16-11 16-7 16 1 16 8 16 9 16 4 16 7 16 20 16 29 16 19 16-2 16-16 16-17 16-10 16-7 16-11 16-13 16-5 16 4 16 2 16-2 16-7 16-5 16 5 16 17 16 26 16 27 16 17 16 1 16-12 16-16 16-13 16-11 16-15 16-19 16-17 16-5 16 9 16 12 16 2 16-7 16-11 16-5 16 0 16 0 16-2 16 1 16 6 16 8 16 2 16-4 16-6 16-4 16 0 16-3 16-3"/>
<path d="M468 2164l16 1 16-6 16-7 16-1 16 3 16 3 16 2 16 5 16 5 16-1 16-9 16-8 16 7 16 27 16 32 16 15 16-9 16-20 16-20 16-14 16-15 16-19 16-18 16-8 16-3 16 0 16 5 16 11 16 16 16 17 16 13 16 12 16 14 16 16 16 10 16-2 16-11 16-12 16-11 16-11 16-13 16-13 16-7 16 1 16-1 16-12 16-17 16-11 16 1 16 10 16 4 16-5 16-10 16-3 16 4 16 8 16 5 16 4 16 4 16 2 16 1 16 1"/>
<path d="M468 2161l16-4 16-9 16-5 16 5 16 8 16 3 16-4 16-3 16 5 16 10 16 5 16-2 16 2 16 19 16 28 16 17 16-5 16-21 16-26 16-23 16-26 16-32 16-27 16-8 16 8 16 14 16 13 16 11 16 12 16 16 16 19 16 17 16 17 16 16 16 9 16-2 16-10 16-9 16-6 16-7 16-15 16-21 16-17 16-2 16 9 16 8 16-1 16-9 16-10 16-6 16-4 16-5 16-2 16 5 16 6 16 1 16-8 16-10 16-4 16 5 16 9 16 7"/>
<path d="M468 2181l16-7 16-17 16-10 16 6 16 13 16 6 16-7 16-8 16 3 16 12 16 6 16-4 16-1 16 22 16 39 16 30 16 4 16-21 16-26 16-19 16-15 16-21 16-21 16-14 16-4 16 3 16 6 16 6 16 5 16 8 16 14 16 18 16 21 16 16 16 4 16-8 16-13 16-10 16-7 16-10 16-19 16-22 16-11 16 5 16 11 16 3 16-7 16-7 16 3 16 9 16 3 16-8 16-10 16 1 16 12 16 11 16 0 16-7 16-4 16 7 16 11 16 4"/>
<path d="M468 2144l16 1 16-3 16-4 16-1 16 2 16 4 16 6 16 6 16 4 16-4 16-14 16-15 16-2 16 14 16 20 16 10 16-5 16-13 16-11 16-10 16-17 16-27 16-27 16-12 16 7 16 19 16 21 16 17 16 13 16 13 16 15 16 12 16 9 16 4 16-2 16-6 16-7 16-6 16-5 16-9 16-14 16-16 16-11 16-2 16 1 16-2 16-8 16-7 16-1 16 4 16 4 16-2 16-5 16-3 16 0 16 1 16-4 16-9 16-11 16-7 16-2 16 2"/>
<path d="M468 2194l16-1 16-7 16-5 16 2 16 7 16 2 16-5 16-9 16-3 16 5 16 7 16 5 16 7 16 19 16 25 16 16 16-3 16-17 16-20 16-18 16-20 16-22 16-13 16 4 16 13 16 8 16-1 16-3 16 3 16 14 16 21 16 20 16 18 16 16 16 12 16 2 16-10 16-18 16-20 16-20 16-21 16-18 16-11 16-1 16 4 16 1 16-4 16-8 16-4 16 0 16-1 16-1 16 1 16 9 16 14 16 12 16 3 16-4 16-5 16 0 16 5 16 5"/>
<path d="M468 2191l16-4 16-9 16-7 16 1 16 4 16 0 16-4 16-1 16 5 16 10 16 12 16 11 16 15 16 26 16 30 16 16 16-4 16-18 16-18 16-15 16-16 16-22 16-19 16-12 16-6 16-5 16-5 16-1 16 4 16 13 16 18 16 21 16 19 16 15 16 4 16-8 16-15 16-12 16-6 16-5 16-12 16-16 16-13 16-3 16 3 16-2 16-7 16-6 16 1 16 5 16 3 16-3 16-4 16 2 16 6 16 5 16 0 16-1 16 3 16 5 16 4 16 1"/>
<path d="M468 2168l16-11 16-7 16 4 16 8 16 2 16-7 16-8 16 2 16 11 16 10 16 3 16-3 16 6 16 25 16 32 16 15 16-11 16-24 16-18 16-9 16-11 16-24 16-26 16-14 16 2 16 11 16 9 16 3 16 3 16 12 16 23 16 22 16 16 16 5 16 0 16-2 16-2 16-6 16-11 16-15 16-15 16-11 16-6 16-2 16-2 16-5 16-4 16-1 16 1 16 0 16-1 16-2 16 0 16 4 16 5 16 2 16-2 16-2 16-1 16 2 16 1 16 1"/>
<path d="M468 2180l16 5 16-2 16-5 16-6 16-5 16-4 16-2 16 2 16 6 16 7 16 6 16 3 16 10 16 22 16 25 16 12 16-8 16-17 16-15 16-11 16-16 16-27 16-24 16-7 16 6 16 8 16 3 16-1 16 2 16 12 16 18 16 18 16 16 16 15 16 10 16 2 16-7 16-12 16-13 16-14 16-14 16-13 16-6 16 1 16 3 16-3 16-7 16-9 16-3 16-2 16-4 16-6 16-1 16 7 16 13 16 8 16-2 16-6 16-1 16 6 16 7 16 1"/>
<path d="M468 2230l16 0 16-6 16-7 16-4 16-1 16-4 16-5 16-3 16 2 16 11 16 19 16 21 16 22 16 27 16 27 16 15 16-11 16-22 16-25 16-23 16-26 16-34 16-28 16-13 16-1 16 2 16 0 16-1 16 1 16 8 16 16 16 23 16 27 16 25 16 16 16 4 16-5 16-6 16-5 16-8 16-14 16-15 16-9 16 2 16 6 16 2 16-5 16-8 16-3 16 1 16 1 16-3 16-5 16-3 16 2 16 2 16-1 16-2 16 1 16 5 16 4 16 4"/>
<path d="M468 2227l16-2 16-3 16-5 16-3 16-4 16-6 16-6 16-3 16 2 16 6 16 10 16 9 16 13 16 26 16 31 16 19 16 0 16-11 16-15 16-14 16-16 16-16 16-8 16 2 16 2 16-9 16-18 16-15 16 0 16 16 16 24 16 24 16 19 16 15 16 6 16-4 16-11 16-12 16-9 16-5 16-7 16-11 16-12 16-5 16 2 16 4 16 2 16-3 16-4 16-3 16-3 16-3 16-4 16-1 16 5 16 6 16 4 16-2 16-6 16-8 16-2 16 6"/>
<path d="M468 2222l16-4 16-16 16-17 16-7 16 3 16 2 16-3 16-2 16 7 16 13 16 16 16 14 16 18 16 34 16 46 16 31 16 1 16-23 16-29 16-19 16-9 16-8 16-10 16-8 16-14 16-13 16-18 16-20 16-13 16 6 16 23 16 28 16 23 16 14 16 4 16 1 16 2 16 2 16-4 16-7 16-10 16-13 16-13 16-11 16-7 16-1 16 4 16 6 16 4 16-1 16-7 16-12 16-8 16-5 16-2 16-4 16-4 16-4 16-4 16-4 16 1 16 9"/>
<path d="M468 2222l16-2 16-4 16-3 16 2 16 0 16-7 16-12 16-11 16-1 16 10 16 22 16 22 16 20 16 24 16 25 16 15 16-3 16-14 16-15 16-10 16-10 16-13 16-16 16-14 16-11 16-9 16-8 16-5 16 1 16 12 16 19 16 21 16 20 16 14 16 6 16-1 16-4 16-4 16-5 16-7 16-13 16-16 16-13 16-6 16-1 16-1 16-3 16-1 16 1 16 1 16-3 16-7 16-6 16-2 16 3 16 3 16-1 16-3 16-1 16 1 16 3 16 2"/>
<path d="M468 2138l16-1 16 2 16 4 16-1 16-4 16 0 16 5 16 8 16 2 16-9 16-16 16-8 16 9 16 22 16 24 16 16 16 4 16-7 16-14 16-16 16-18 16-16 16-12 16-5 16 0 16 5 16 10 16 10 16 8 16 5 16 8 16 14 16 15 16 7 16-5 16-11 16-10 16-8 16-13 16-18 16-18 16-11 16-1 16 3 16 0 16-5 16-4 16-1 16 3 16 1 16-2 16-2 16 2 16 4 16 2 16 1 16 2 16 2 16 0 16-5 16-2 16 4"/>
<path d="M468 2147l16-3 16-9 16-6 16 2 16 8 16 6 16 2 16 3 16 6 16 4 16-7 16-14 16-6 16 12 16 23 16 14 16-4 16-16 16-19 16-18 16-24 16-29 16-23 16-1 16 16 16 22 16 16 16 10 16 5 16 8 16 10 16 12 16 13 16 11 16 5 16-4 16-10 16-7 16-2 16-2 16-9 16-18 16-16 16-4 16 4 16 2 16-4 16-9 16-8 16-3 16-2 16-3 16-4 16 1 16 4 16 1 16-7 16-12 16-10 16-5 16-1 16 2"/>
<path d="M468 2229l16-11 16-12 16-9 16-3 16-2 16-4 16-8 16-7 16 0 16 10 16 21 16 25 16 22 16 25 16 25 16 19 16 8 16-2 16-11 16-17 16-18 16-13 16-5 16-2 16-10 16-22 16-26 16-17 16 4 16 17 16 17 16 9 16 7 16 13 16 15 16 6 16-10 16-22 16-22 16-10 16 2 16 4 16-1 16-6 16-5 16 2 16 8 16 8 16 3 16-5 16-7 16-4 16 5 16 9 16 7 16-5 16-12 16-13 16-6 16 0 16 2 16 1"/>
<path d="M468 2199l16 1 16-6 16-6 16-5 16-2 16-1 16 0 16 1 16 5 16 7 16 12 16 13 16 15 16 23 16 27 16 19 16 2 16-9 16-14 16-15 16-16 16-18 16-14 16-8 16-3 16-5 16-6 16-8 16-4 16 4 16 11 16 15 16 15 16 15 16 8 16-1 16-10 16-16 16-17 16-18 16-15 16-12 16-5 16 3 16 6 16 3 16-3 16-5 16-2 16 1 16 3 16 3 16 3 16 1 16 1 16-1 16-2 16 0 16 4 16 8 16 9 16 9"/>
<path d="M468 2189l16-4 16-11 16-6 16 2 16 4 16-3 16-9 16-4 16 9 16 12 16 6 16-4 16 1 16 23 16 37 16 27 16 1 16-20 16-24 16-18 16-17 16-20 16-17 16-7 16 0 16-1 16-1 16 2 16 9 16 15 16 17 16 14 16 16 16 19 16 14 16 1 16-13 16-19 16-15 16-10 16-8 16-8 16-5 16 3 16 3 16-4 16-12 16-10 16 0 16 6 16 2 16-7 16-10 16-1 16 8 16 8 16 0 16-7 16-5 16 2 16 8 16 8"/>
<path d="M468 2178l16 1 16-5 16-5 16-3 16 1 16 0 16-2 16-3 16-2 16 0 16 7 16 14 16 19 16 24 16 20 16 8 16-8 16-16 16-15 16-15 16-18 16-25 16-22 16-12 16-1 16 6 16 7 16 6 16 8 16 13 16 19 16 20 16 18 16 13 16 5 16-6 16-13 16-17 16-14 16-10 16-5 16-3 16 0 16-1 16-4 16-8 16-10 16-5 16 2 16 5 16 3 16-1 16-5 16-5 16-3 16-1 16 0 16 3 16 8 16 10 16 6 16 0"/>
<path d="M468 2244l16-6 16-18 16-16 16-4 16 5 16 3 16-6 16-10 16-5 16 5 16 16 16 23 16 25 16 31 16 28 16 14 16-3 16-11 16-7 16-4 16-6 16-14 16-18 16-15 16-13 16-10 16-12 16-11 16-8 16 2 16 15 16 23 16 27 16 20 16 6 16-11 16-18 16-12 16-3 16 2 16-6 16-16 16-17 16-8 16 4 16 9 16 6 16 1 16-4 16-5 16-6 16-3 16 2 16 7 16 6 16 0 16-10 16-10 16-4 16 5 16 7 16 4"/>
<path d="M468 2169l16-5 16-8 16-5 16 3 16 3 16-2 16-5 16-1 16 7 16 2 16-13 16-22 16-10 16 12 16 24 16 13 16-4 16-13 16-13 16-12 16-22 16-32 16-23 16 1 16 22 16 25 16 17 16 11 16 11 16 15 16 14 16 10 16 8 16 12 16 10 16 2 16-8 16-14 16-13 16-10 16-10 16-11 16-9 16-4 16-2 16-5 16-7 16-6 16 0 16 2 16 0 16-2 16 0 16 1 16 0 16-6 16-7 16-1 16 5 16 4 16-4 16-7"/>
<path d="M468 2188l16-5 16-6 16 0 16 5 16 4 16-5 16-10 16-6 16 3 16 7 16 4 16 0 16 7 16 22 16 28 16 15 16-6 16-17 16-15 16-12 16-16 16-24 16-20 16-6 16 6 16 4 16 0 16 0 16 7 16 19 16 23 16 17 16 10 16 8 16 5 16 0 16-7 16-11 16-11 16-9 16-9 16-12 16-11 16-6 16 0 16 1 16-1 16-2 16-2 16-2 16-2 16-2 16 1 16 6 16 10 16 7 16 1 16-2 16-2 16-1 16-1 16 1"/>
<path d="M468 2172l16-5 16-9 16-6 16-2 16 1 16-1 16 1 16 4 16 7 16 1 16-11 16-15 16-1 16 20 16 30 16 18 16 0 16-11 16-10 16-11 16-21 16-31 16-29 16-8 16 12 16 18 16 14 16 10 16 11 16 15 16 14 16 7 16 1 16 0 16 2 16 2 16-1 16-5 16-9 16-12 16-15 16-15 16-10 16-3 16 3 16 4 16 3 16 4 16 6 16 1 16-5 16-7 16-3 16 7 16 10 16 6 16 0 16-3 16 1 16 3 16-3 16-9"/>
</g>
<g stroke="#8a8a8a" stroke-width="1" fill="none" shape-rendering="crispEdges">
<rect x="430.4" y="322.4" width="201.0" height="157.6"/>
</g>
<path d="M430.4 480.0h2M631.4 480.0h-2M430.4 464.2h2M631.4 464.2h-2M430.4 448.5h2M631.4 448.5h-2M430.4 432.7h2M631.4 432.7h-2M430.4 417.0h2M631.4 417.0h-2M430.4 401.2h2M631.4 401.2h-2M430.4 385.4h2M631.4 385.4h-2M430.4 369.7h2M631.4 369.7h-2M430.4 353.9h2M631.4 353.9h-2M430.4 338.2h2M631.4 338.2h-2M430.4 322.4h2M631.4 322.4h-2M430.4 480.0v-2M430.4 322.4v2M470.6 480.0v-2M470.6 322.4v2M510.8 480.0v-2M510.8 322.4v2M551.0 480.0v-2M551.0 322.4v2M591.2 480.0v-2M591.2 322.4v2M631.4 480.0v-2M631.4 322.4v2" stroke="#8a8a8a" stroke-width="0.8" fill="none"/>
<g font-family="Liberation Sans" font-size="6.7" fill="#404040">
<text x="426.9" y="482.2" text-anchor="end">-10</text>
<text x="426.9" y="466.4" text-anchor="end">-8</text>
<text x="426.9" y="450.7" text-anchor="end">-6</text>
<text x="426.9" y="434.9" text-anchor="end">-4</text>
<text x="426.9" y="419.2" text-anchor="end">-2</text>
<text x="426.9" y="403.4" text-anchor="end">0</text>
<text x="426.9" y="387.6" text-anchor="end">2</text>
<text x="426.9" y="371.9" text-anchor="end">4</text>
<text x="426.9" y="356.1" text-anchor="end">6</text>
<text x="426.9" y="340.4" text-anchor="end">8</text>
<text x="426.9" y="324.6" text-anchor="end">10</text>
<text x="430.4" y="489.0" text-anchor="middle">0</text>
<text x="470.6" y="489.0" text-anchor="middle">100</text>
<text x="510.8" y="489.0" text-anchor="middle">200</text>
<text x="551.0" y="489.0" text-anchor="middle">300</text>
<text x="591.2" y="489.0" text-anchor="middle">400</text>
<text x="631.4" y="489.0" text-anchor="middle">500</text>
</g>
<text x="530.8" y="319.8" text-anchor="middle" font-family="Liberation Serif" font-weight="bold" font-size="10" fill="#111">Second stage - Nontarget</text>
<text x="530.9" y="500.5" text-anchor="middle" font-family="Liberation Serif" font-weight="bold" font-size="9.7" fill="#222">Time(ms)</text>
<text transform="translate(415.6,401.2) rotate(-90)" x="0" y="0" text-anchor="middle" font-family="Liberation Serif" font-weight="bold" font-size="9.9" fill="#222">Amplitude(uV)</text>
<g transform="scale(0.2)" fill="none" stroke="#0000ff" stroke-width="2.5" stroke-opacity="0.7" stroke-dasharray="6 3">
<path d="M2152 2001l16 0 16-1 16 0 16 0 16 0 16 0 16 0 16 0 16-1 16 0 16-1 16 0 16-2 16-6 16-7 16-7 16-5 16-4 16-5 16-6 16-5 16-3 16-1 16 1 16 3 16 4 16 3 16 3 16 2 16 1 16-1 16-3 16-7 16-10 16-13 16-14 16-16 16-16 16-15 16-11 16-6 16-1 16 2 16 5 16 7 16 7 16 7 16 6 16 4 16 4 16 3 16 2 16 4 16 5 16 6 16 5 16 5 16 3 16 2 16-1 16 0 16-1"/>
<path d="M2152 2008l16 0 16 1 16 0 16 0 16 1 16 0 16 1 16 0 16 0 16 1 16 0 16-1 16-1 16-2 16-3 16-3 16-3 16-2 16-3 16-3 16-2 16-2 16-2 16 0 16 1 16 2 16 3 16 3 16 3 16 2 16 0 16 0 16-1 16-2 16-3 16-3 16-2 16-1 16-1 16 0 16 0 16-1 16-2 16-2 16-1 16 0 16 2 16 3 16 3 16 3 16 2 16 1 16 0 16-2 16-1 16-1 16 1 16 1 16 2 16 1 16 1 16 0"/>
<path d="M2152 2012l16 0 16 0 16 0 16-1 16 0 16 0 16-1 16 0 16-1 16 0 16 0 16 0 16 0 16-1 16-3 16-2 16-2 16-3 16-2 16-1 16 1 16 2 16 3 16 0 16 0 16-2 16-2 16 0 16 0 16 2 16 2 16 1 16 0 16-1 16-3 16-4 16-4 16-2 16 0 16 2 16 2 16 1 16 0 16 0 16 0 16 0 16 1 16 0 16-2 16-2 16-1 16 0 16 2 16 3 16 4 16 1 16 0 16-3 16-3 16-2 16-1 16 3"/>
<path d="M2152 2004l16 0 16 0 16-1 16 0 16 1 16 0 16 0 16 0 16 0 16 0 16 0 16 0 16-1 16-3 16-3 16-4 16-2 16-3 16-2 16-3 16-2 16-3 16-3 16-1 16 0 16 2 16 3 16 3 16 2 16 1 16 0 16-2 16-3 16-4 16-3 16-2 16-2 16-3 16-5 16-8 16-8 16-5 16-1 16 5 16 7 16 7 16 4 16 0 16-2 16-4 16-2 16 0 16 4 16 4 16 4 16 2 16 0 16-1 16 0 16 0 16 2 16 3"/>
<path d="M2152 2010l16 0 16 0 16 0 16 0 16 0 16 0 16 0 16-1 16 0 16 0 16 0 16 0 16-1 16-2 16-2 16-3 16-1 16-1 16-1 16-2 16 0 16-1 16 1 16 1 16 1 16 1 16 1 16 0 16 0 16 0 16 0 16-1 16-1 16-2 16-2 16-2 16-3 16-3 16-2 16 0 16 1 16 2 16 2 16 2 16 1 16 0 16 0 16-1 16 0 16 1 16 0 16 1 16 0 16 0 16-1 16 0 16 0 16 1 16 1 16 1 16 0 16 0"/>
<path d="M2152 2008l16 0 16 0 16 0 16-1 16 0 16 0 16 0 16 1 16 0 16-1 16 0 16 0 16-1 16-2 16-3 16-3 16-1 16-3 16-3 16-3 16-2 16-1 16 1 16 2 16 3 16 2 16 1 16 0 16-1 16 0 16-1 16 0 16-2 16-2 16-2 16-4 16-4 16-3 16-2 16 0 16 1 16 1 16 0 16-3 16-2 16-2 16 1 16 3 16 3 16 4 16 2 16 0 16-2 16-1 16 0 16 2 16 3 16 4 16 3 16 2 16 0 16-1"/>
<path d="M2152 2009l16 0 16 0 16 0 16 0 16 0 16 0 16 0 16 0 16 0 16 0 16 0 16 0 16 0 16-2 16-2 16-3 16-1 16-2 16-2 16-1 16-1 16-1 16 0 16 0 16 1 16 0 16 0 16 0 16 0 16 0 16 0 16-1 16-1 16-2 16 0 16-1 16 0 16 0 16-1 16-1 16-2 16-3 16-1 16-2 16-1 16 0 16 1 16 1 16 1 16 1 16 2 16 1 16 1 16 1 16 2 16 1 16 1 16 1 16 1 16 0 16 0 16-1"/>
<path d="M2152 2004l16 0 16 0 16-1 16 0 16 0 16 1 16 0 16 0 16 0 16 0 16 0 16 0 16 0 16-3 16-3 16-4 16-3 16-5 16-4 16-4 16-2 16-1 16 2 16 3 16 3 16 1 16 1 16 1 16 0 16 1 16 1 16-1 16-1 16-3 16-4 16-5 16-5 16-4 16-2 16-2 16-3 16-4 16-6 16-7 16-4 16-2 16 3 16 4 16 6 16 5 16 3 16 1 16 1 16 1 16 1 16 3 16 2 16 2 16 1 16 0 16 0 16 0"/>
<path d="M2152 2007l16 0 16 0 16 1 16 0 16 0 16 0 16 1 16 0 16 0 16-1 16 0 16 0 16-1 16-2 16-2 16-2 16-2 16-1 16-2 16-3 16-3 16-3 16-2 16 0 16 1 16 2 16 2 16 2 16 1 16 1 16 0 16-1 16-2 16-2 16-4 16-3 16-4 16-2 16-2 16-1 16 0 16 0 16 0 16 0 16-1 16 0 16 0 16 1 16 1 16 1 16 1 16 1 16 1 16 1 16 1 16 2 16 2 16 2 16 2 16 1 16 0 16-1"/>
<path d="M2152 2004l16 0 16 0 16 0 16 0 16 0 16 0 16 0 16 0 16 1 16 0 16 0 16 0 16-1 16-2 16-4 16-4 16-3 16-3 16-3 16-3 16-3 16-2 16-1 16 0 16 1 16 1 16 1 16 2 16 1 16 0 16 0 16-1 16-2 16-4 16-5 16-4 16-4 16-3 16-2 16-1 16 0 16 0 16 1 16 1 16 0 16 1 16 1 16 0 16 0 16 1 16 0 16 0 16 0 16 0 16 0 16 0 16 0 16 1 16 1 16 2 16 2 16 3"/>
<path d="M2152 2003l16 0 16 1 16 0 16 0 16 0 16 0 16 1 16 0 16 0 16 0 16 0 16-1 16 0 16-3 16-3 16-3 16-2 16-3 16-4 16-3 16-4 16-3 16-2 16 0 16 1 16 3 16 2 16 3 16 2 16 1 16 1 16 0 16-2 16-4 16-4 16-6 16-7 16-7 16-7 16-4 16-1 16 1 16 3 16 3 16 2 16 1 16 0 16 0 16 0 16 2 16 3 16 4 16 4 16 5 16 4 16 2 16 2 16 0 16 1 16-1 16 0 16 0"/>
<path d="M2152 2012l16 0 16 1 16 0 16 0 16 0 16 0 16 0 16 0 16 0 16 1 16 0 16 1 16-1 16-2 16-4 16-3 16-2 16-1 16-1 16 1 16 1 16 1 16 0 16-1 16-2 16-2 16-2 16 0 16 2 16 2 16 2 16 1 16 1 16 0 16-2 16-3 16-4 16-3 16 1 16 4 16 6 16 5 16 4 16-1 16-3 16-6 16-5 16-3 16 1 16 4 16 5 16 6 16 3 16 0 16-2 16-3 16-4 16-3 16-1 16 1 16 1 16 2"/>
<path d="M2152 2004l16 0 16 0 16 0 16 0 16 0 16 0 16 0 16 0 16 0 16-1 16 0 16 0 16-1 16-3 16-4 16-4 16-3 16-4 16-3 16-3 16-3 16-1 16-1 16 0 16 0 16 1 16 1 16 0 16 1 16 1 16 0 16 0 16-2 16-3 16-5 16-5 16-7 16-7 16-6 16-4 16 0 16 1 16 3 16 2 16 1 16 0 16 1 16 0 16 2 16 3 16 2 16 3 16 1 16 0 16-1 16-1 16 0 16 1 16 3 16 4 16 4 16 4"/>
<path d="M2152 2004l16 0 16 0 16 0 16 0 16 1 16 0 16 0 16-1 16 0 16 0 16 0 16 0 16 0 16-3 16-4 16-5 16-4 16-3 16-3 16-1 16-2 16-3 16-3 16-2 16 0 16 2 16 3 16 4 16 2 16 1 16-2 16-2 16-4 16-3 16-3 16-1 16-3 16-7 16-9 16-10 16-5 16 1 16 7 16 8 16 4 16 0 16-5 16-5 16-3 16 3 16 6 16 7 16 5 16 0 16-4 16-5 16-3 16 2 16 5 16 7 16 6 16 2"/>
<path d="M2152 2012l16 0 16 0 16 0 16 0 16 0 16 0 16 0 16-1 16 0 16 0 16 0 16 0 16 0 16-2 16-3 16-2 16-2 16-2 16-1 16-1 16 0 16-1 16 0 16 0 16 0 16 1 16 1 16 1 16 1 16 1 16 1 16 0 16-1 16-1 16-1 16-1 16-1 16-1 16-1 16-3 16-2 16-2 16-1 16 1 16 2 16 2 16 2 16 1 16 0 16-1 16-1 16 0 16 0 16 1 16 2 16 0 16 1 16 0 16-1 16 1 16 0 16 1"/>
<path d="M2152 2005l16 0 16 0 16 0 16 0 16 0 16 0 16 1 16 0 16 0 16 1 16 0 16 0 16-1 16-2 16-2 16-3 16-3 16-3 16-2 16-3 16-2 16-2 16 0 16-1 16 0 16 1 16 0 16 1 16 2 16 1 16 1 16-1 16-1 16-3 16-3 16-3 16-3 16-2 16-1 16-2 16-2 16-1 16-2 16-1 16 0 16 1 16 1 16 1 16 1 16 0 16-1 16 0 16 0 16 1 16 1 16 1 16 1 16 0 16 1 16 2 16 2 16 2"/>
<path d="M2152 2013l16 0 16 1 16 0 16 0 16 0 16 0 16 0 16 0 16 0 16 0 16 0 16-1 16-1 16-3 16-4 16-3 16-2 16-1 16 0 16 0 16 1 16 0 16-1 16-1 16-1 16 0 16 0 16 1 16 2 16 1 16 1 16 1 16 0 16-1 16-2 16-2 16-1 16-1 16 1 16 2 16 3 16 1 16 1 16 0 16-1 16-2 16-2 16-1 16-2 16-2 16-2 16-2 16-1 16 0 16 1 16 2 16 3 16 3 16 2 16 1 16 0 16-1"/>
<path d="M2152 2006l16 0 16 0 16-1 16 0 16 0 16 0 16 0 16 0 16 0 16 0 16-1 16 0 16-1 16-3 16-3 16-3 16-2 16-3 16-4 16-6 16-5 16-5 16-2 16-1 16 1 16 2 16 2 16 3 16 2 16 2 16 2 16 1 16-1 16-3 16-3 16-5 16-4 16-4 16-3 16-5 16-4 16-6 16-4 16-3 16 1 16 5 16 6 16 7 16 4 16 3 16 1 16 0 16 2 16 3 16 4 16 4 16 1 16 0 16-1 16-2 16-1 16 1"/>
<path d="M2152 2005l16 1 16 0 16 0 16 0 16-1 16-1 16 0 16 0 16 0 16 0 16 0 16 0 16 0 16-3 16-3 16-4 16-3 16-3 16-3 16-3 16-2 16-2 16 0 16 0 16 2 16 1 16 2 16 1 16 2 16 1 16 0 16-1 16-3 16-3 16-6 16-6 16-6 16-4 16-4 16-1 16 1 16 2 16 1 16 0 16-1 16-1 16-1 16 0 16 2 16 4 16 5 16 5 16 5 16 3 16 1 16-1 16-2 16-3 16-1 16 1 16 2 16 3"/>
<path d="M2152 2001l16 0 16 1 16 0 16-1 16 0 16-1 16 0 16 0 16 0 16 0 16-1 16 0 16-2 16-6 16-8 16-8 16-6 16-6 16-6 16-6 16-6 16-6 16-4 16-2 16 1 16 3 16 5 16 6 16 6 16 4 16 1 16-2 16-8 16-12 16-17 16-18 16-17 16-13 16-7 16 0 16 3 16 4 16 1 16-2 16-4 16-2 16 0 16 4 16 8 16 8 16 8 16 5 16 2 16 1 16 0 16 0 16 1 16 3 16 3 16 4 16 4 16 4"/>
<path d="M2152 2006l16 0 16-1 16 0 16 0 16-1 16 0 16 1 16 0 16 0 16 1 16 0 16 0 16-1 16-2 16-3 16-2 16-1 16-2 16-2 16-3 16-3 16-3 16-2 16-1 16 1 16 3 16 2 16 2 16 1 16 1 16-1 16-2 16-3 16-3 16-4 16-3 16-3 16-3 16-4 16-5 16-5 16-4 16-1 16 0 16 3 16 5 16 5 16 4 16 4 16 2 16 2 16 1 16 1 16 0 16 1 16 0 16 1 16 0 16 0 16 0 16 0 16 0"/>
<path d="M2152 2003l16 0 16 0 16 0 16-1 16 0 16-1 16 0 16 1 16 0 16 1 16-1 16 0 16-1 16-4 16-4 16-3 16-2 16-2 16-3 16-4 16-4 16-3 16-2 16 1 16 2 16 1 16 1 16 1 16 0 16 0 16 0 16-1 16-4 16-6 16-8 16-10 16-11 16-10 16-7 16-4 16-1 16-1 16-1 16-1 16-1 16 3 16 4 16 6 16 5 16 3 16 2 16 0 16 2 16 4 16 7 16 6 16 5 16 3 16 1 16 0 16 0 16 3"/>
<path d="M2152 2006l16 0 16 0 16 0 16 0 16 0 16-1 16 0 16 0 16 0 16 0 16 0 16 0 16-1 16-2 16-4 16-3 16-2 16-2 16-3 16-4 16-3 16-3 16-1 16 1 16 2 16 2 16 2 16 1 16 1 16 2 16 1 16 0 16 0 16-2 16-3 16-5 16-6 16-5 16-3 16-1 16 1 16 2 16 1 16 0 16 0 16 0 16 2 16 1 16 0 16-1 16-3 16-2 16-2 16 2 16 3 16 5 16 3 16 3 16 0 16-1 16-1 16 0"/>
<path d="M2152 2010l16 0 16 0 16 0 16 0 16 1 16 0 16 1 16 0 16 0 16 0 16 1 16 0 16 0 16-2 16-2 16-3 16-1 16-2 16-2 16-2 16-1 16 0 16 1 16 0 16 0 16 0 16 0 16 1 16 1 16 1 16 1 16 0 16 0 16-1 16-2 16-2 16-1 16 1 16 2 16 3 16 1 16-1 16-2 16-3 16-3 16-2 16 0 16 0 16 1 16 0 16 0 16 0 16 0 16 1 16 1 16 2 16 2 16 1 16 0 16-1 16 0 16-1"/>
<path d="M2152 2010l16-1 16 0 16 0 16 0 16 0 16 0 16 1 16-1 16 0 16 0 16 0 16 0 16 0 16-1 16-1 16-2 16-2 16-2 16-1 16-2 16-1 16 0 16 1 16 0 16 1 16 1 16 2 16 1 16 1 16 0 16 0 16-1 16-1 16 0 16 0 16 1 16 1 16 0 16-2 16-1 16-1 16 1 16 3 16 3 16 1 16-2 16-4 16-6 16-4 16-2 16 1 16 3 16 2 16 1 16-2 16-2 16-1 16 0 16 2 16 3 16 3 16 0"/>
<path d="M2152 2008l16 1 16 0 16 1 16 0 16 0 16 1 16 0 16 0 16 0 16 0 16 0 16 0 16-1 16-2 16-2 16-2 16-2 16-1 16-2 16-1 16-3 16-2 16-2 16-1 16 0 16 0 16 2 16 1 16 2 16 2 16 2 16 0 16 1 16 0 16-1 16 0 16-2 16-2 16-1 16-1 16-1 16 0 16 1 16 0 16 1 16 0 16 0 16-1 16-1 16-1 16-1 16-1 16-1 16 0 16 0 16 1 16 1 16 1 16 2 16 1 16 1 16 1"/>
<path d="M2152 2005l16 0 16 0 16 0 16 0 16 0 16 0 16 0 16 0 16 0 16 0 16 0 16-1 16-1 16-3 16-5 16-3 16-3 16-2 16-2 16-1 16-2 16-1 16-2 16-1 16-1 16 0 16 1 16 2 16 2 16 1 16 1 16-1 16-2 16-4 16-5 16-5 16-5 16-4 16-2 16-1 16 0 16-1 16-1 16-2 16-2 16-1 16 1 16 2 16 4 16 4 16 4 16 3 16 1 16 0 16-2 16-2 16-2 16-1 16 1 16 1 16 3 16 3"/>
<path d="M2152 2007l16 0 16 0 16 0 16 0 16 0 16 1 16 0 16-1 16 0 16 0 16 0 16 0 16-1 16-2 16-2 16-3 16-1 16-1 16-1 16-1 16-1 16-2 16-2 16-2 16-1 16 0 16 1 16 2 16 2 16 2 16 2 16 0 16-1 16-2 16-3 16-3 16-3 16 0 16 1 16 2 16 1 16-1 16-3 16-5 16-4 16-2 16 0 16 2 16 3 16 3 16 3 16 1 16 1 16 0 16 0 16 0 16 1 16 0 16 1 16 0 16 0 16-1"/>
<path d="M2152 2009l16 0 16 1 16 1 16 0 16 1 16 0 16 0 16 0 16-1 16 0 16 0 16 0 16-1 16-2 16-3 16-3 16-2 16-2 16-2 16-1 16-1 16 0 16 0 16 1 16 1 16 1 16 1 16 0 16 1 16 1 16 0 16-1 16-1 16-1 16-3 16-2 16-2 16-2 16 0 16 0 16 0 16 1 16-1 16-1 16-1 16-1 16-1 16 1 16 1 16 1 16 1 16 1 16 1 16 0 16-1 16 0 16 0 16 1 16 2 16 3 16 2 16 2"/>
<path d="M2152 2007l16 0 16 1 16 0 16 0 16 0 16 0 16 1 16 0 16 0 16 0 16 0 16 0 16-1 16-2 16-2 16-3 16-2 16-1 16-1 16-1 16-2 16-1 16-1 16 1 16 1 16 2 16 1 16 2 16 0 16 0 16-1 16-1 16-2 16-2 16-2 16-2 16-3 16-2 16-3 16-4 16-2 16 0 16 0 16 2 16 1 16 1 16 0 16-1 16-1 16 0 16 1 16 2 16 2 16 3 16 2 16 1 16-1 16 0 16 0 16 2 16 2 16 3"/>
<path d="M2152 2008l16-1 16 0 16 0 16 0 16 0 16 0 16 0 16-1 16 0 16 0 16 0 16 0 16 0 16-2 16-2 16-2 16-3 16-2 16-3 16-2 16-1 16 0 16 0 16-1 16 0 16-1 16-1 16 0 16 1 16 1 16 1 16-1 16-3 16-4 16-5 16-5 16-4 16-1 16 0 16 1 16 1 16 0 16 0 16 0 16 2 16 4 16 4 16 4 16 3 16 1 16 0 16 0 16 0 16 0 16 2 16 1 16 0 16-1 16-2 16-2 16-1 16-1"/>
<path d="M2152 2006l16 0 16 0 16 1 16 0 16 0 16 0 16 0 16 0 16 0 16 0 16 0 16 0 16-1 16-2 16-3 16-3 16-2 16-4 16-3 16-3 16-3 16-1 16 0 16 1 16 2 16 2 16 2 16 1 16 1 16 1 16 0 16 0 16-1 16-2 16-2 16-4 16-4 16-4 16-4 16-3 16-1 16 0 16 1 16 1 16 1 16 1 16 0 16 1 16 0 16 0 16 0 16 1 16 1 16 2 16 3 16 2 16 2 16 1 16 0 16 0 16-1 16-1"/>
<path d="M2152 2002l16 0 16 0 16 0 16 0 16 0 16 0 16 0 16 0 16 0 16 1 16 0 16 0 16-2 16-3 16-5 16-4 16-4 16-2 16-3 16-2 16-2 16-2 16-3 16-2 16 0 16 1 16 2 16 3 16 3 16 2 16 0 16-2 16-3 16-5 16-5 16-5 16-3 16-4 16-3 16-3 16-2 16-1 16 1 16 2 16 3 16 2 16 1 16-2 16-2 16-1 16-1 16 2 16 3 16 4 16 3 16 2 16 0 16-1 16-1 16 0 16 2 16 3"/>
<path d="M2152 2013l16 0 16 1 16 0 16 1 16 0 16 0 16 0 16 0 16 0 16 0 16 0 16-1 16-1 16-2 16-4 16-2 16-2 16-1 16-2 16-1 16-1 16-1 16 0 16-1 16 1 16 0 16 2 16 1 16 1 16 1 16 1 16 1 16 0 16-1 16 0 16-2 16-2 16-3 16-3 16-4 16-3 16-2 16-1 16-1 16 1 16 2 16 2 16 2 16 2 16 2 16 2 16 1 16 1 16 1 16 0 16 0 16 1 16 0 16 1 16 0 16 1 16 0"/>
<path d="M2152 2001l16 0 16 0 16 0 16 0 16 0 16 0 16 0 16 0 16 0 16 0 16 0 16-1 16-2 16-5 16-7 16-7 16-5 16-5 16-6 16-5 16-4 16-4 16-3 16-1 16 0 16 2 16 3 16 3 16 4 16 3 16 2 16-1 16-5 16-9 16-11 16-12 16-12 16-12 16-9 16-5 16-1 16 2 16 4 16 3 16 4 16 3 16 2 16 1 16 1 16 1 16 1 16 1 16 1 16 2 16 3 16 2 16 3 16 2 16 3 16 3 16 3 16 3"/>
<path d="M2152 2009l16 0 16-1 16 0 16 1 16 0 16 0 16 0 16 0 16 0 16 0 16 1 16 0 16-1 16-1 16-2 16-2 16-1 16-2 16-2 16-1 16-2 16-1 16 0 16 0 16 1 16 0 16 0 16 0 16 0 16 0 16 0 16-1 16-1 16-3 16-3 16-3 16-3 16-1 16 1 16 1 16 2 16 0 16-1 16-3 16-3 16-1 16 0 16 3 16 5 16 4 16 3 16 1 16 0 16-2 16-2 16-2 16 0 16 0 16 2 16 2 16 2 16 1"/>
<path d="M2152 2003l16 1 16 0 16 0 16 0 16 0 16 0 16 0 16-1 16 0 16 0 16 0 16 0 16-1 16-2 16-3 16-4 16-2 16-3 16-3 16-3 16-2 16-3 16-2 16-2 16 0 16 0 16 3 16 3 16 4 16 3 16 1 16 0 16-2 16-5 16-8 16-8 16-8 16-6 16-2 16 2 16 3 16 3 16 1 16-1 16-2 16-2 16-1 16 0 16 2 16 1 16 1 16 0 16 0 16-1 16 0 16 2 16 4 16 3 16 4 16 3 16 2 16 0"/>
<path d="M2152 2009l16 1 16 0 16 0 16 0 16 0 16 0 16 0 16 1 16 0 16 0 16 0 16 0 16-2 16-2 16-2 16-2 16-1 16-1 16-2 16-2 16-2 16-2 16 1 16 2 16 2 16 1 16 0 16-1 16-1 16 0 16 0 16 1 16 0 16 0 16-2 16-5 16-5 16-4 16-1 16 1 16 2 16-1 16-2 16-5 16-3 16-2 16 3 16 4 16 5 16 3 16 1 16-2 16-1 16 0 16 2 16 3 16 3 16 2 16-1 16-2 16-1 16 0"/>
<path d="M2152 2003l16 0 16 0 16 0 16 0 16 0 16-1 16 0 16 1 16 0 16 0 16 0 16-1 16-1 16-3 16-5 16-4 16-3 16-3 16-3 16-4 16-3 16-2 16-1 16 2 16 2 16 3 16 2 16 1 16 0 16 1 16 0 16-1 16-3 16-4 16-6 16-7 16-7 16-4 16-2 16 2 16 3 16 3 16 0 16-1 16-1 16-1 16 1 16 1 16 1 16 0 16-2 16-2 16-1 16 0 16 3 16 3 16 4 16 2 16 1 16-2 16-2 16-1"/>
<path d="M2152 2012l16 0 16 0 16 0 16 0 16 0 16 0 16 0 16 0 16 0 16 0 16 0 16 0 16-1 16-1 16-3 16-3 16-2 16-1 16-1 16 0 16 0 16 0 16 0 16 0 16 0 16 1 16 0 16 1 16 1 16 1 16 1 16 0 16 1 16 0 16 0 16 0 16 0 16 0 16 0 16 0 16-1 16 0 16-1 16 0 16-1 16-1 16-2 16-1 16-2 16-1 16 0 16-1 16 0 16 1 16 0 16-1 16 0 16-1 16 0 16 0 16 1 16 1"/>
<path d="M2152 2013l16 1 16 0 16 1 16 1 16 0 16 0 16 0 16 0 16 0 16 0 16-1 16 0 16-1 16-2 16-3 16-2 16-1 16-1 16-1 16-2 16-2 16-2 16-2 16 0 16 2 16 2 16 2 16 2 16 1 16 2 16 0 16 0 16 0 16 0 16-1 16-1 16-1 16-2 16-1 16 0 16 1 16 2 16 2 16 1 16 0 16-1 16-2 16-1 16-2 16-1 16-1 16 1 16 2 16 3 16 2 16 3 16 1 16 0 16-1 16-2 16-2 16-2"/>
<path d="M2152 2001l16 0 16 0 16 0 16 0 16 0 16 0 16 0 16 0 16 0 16-1 16 0 16 0 16-2 16-4 16-5 16-5 16-4 16-3 16-4 16-4 16-4 16-4 16-4 16-2 16-2 16-1 16 1 16 1 16 1 16 2 16-1 16-2 16-7 16-10 16-12 16-12 16-11 16-9 16-6 16-2 16 1 16 4 16 4 16 4 16 4 16 3 16 2 16 3 16 2 16 2 16 2 16 3 16 4 16 3 16 4 16 3 16 3 16 2 16 2 16 1 16 2 16 1"/>
<path d="M2152 2003l16 0 16 0 16 0 16 0 16 0 16 0 16 0 16 0 16 0 16 0 16 0 16 0 16-1 16-2 16-4 16-4 16-4 16-3 16-4 16-4 16-4 16-3 16-2 16-1 16 0 16 1 16 3 16 2 16 3 16 2 16 1 16-1 16-2 16-4 16-5 16-6 16-6 16-6 16-5 16-4 16-3 16-1 16 0 16 0 16 1 16 0 16 0 16-1 16-1 16-1 16-1 16-1 16-2 16 0 16 0 16 1 16 1 16 3 16 4 16 4 16 5 16 4"/>
<path d="M2152 2003l16 0 16 0 16 0 16 0 16 0 16 0 16 0 16 0 16 0 16 0 16 0 16 0 16-1 16-3 16-5 16-4 16-4 16-3 16-4 16-3 16-3 16-4 16-2 16-1 16 1 16 3 16 3 16 4 16 2 16 1 16 0 16-1 16-3 16-4 16-5 16-5 16-7 16-7 16-7 16-4 16-2 16 1 16 1 16 0 16-1 16-3 16-5 16-4 16-3 16-2 16 1 16 2 16 3 16 3 16 3 16 4 16 5 16 6 16 6 16 6 16 4 16 3"/>
<path d="M2152 2006l16 1 16 0 16 0 16 0 16-1 16 0 16 0 16-1 16 0 16 0 16 0 16 0 16-1 16-2 16-3 16-3 16-2 16-2 16-3 16-3 16-3 16-3 16-2 16 0 16 2 16 3 16 3 16 2 16 2 16 1 16 0 16-1 16-2 16-3 16-3 16-4 16-4 16-4 16-4 16-2 16-1 16 1 16 3 16 3 16 2 16 1 16 0 16-1 16 0 16-1 16 1 16 2 16 2 16 1 16 1 16 0 16-1 16-1 16 0 16 0 16 2 16 1"/>
<path d="M2152 2001l16 0 16 0 16 0 16 0 16 0 16 0 16 0 16 0 16 0 16 0 16-1 16-1 16-1 16-5 16-6 16-6 16-4 16-5 16-5 16-6 16-6 16-6 16-3 16-1 16 2 16 3 16 5 16 4 16 3 16 2 16 1 16-2 16-5 16-8 16-10 16-11 16-12 16-12 16-12 16-9 16-4 16 1 16 4 16 6 16 4 16 3 16 1 16 0 16 0 16 0 16 3 16 4 16 5 16 6 16 5 16 4 16 3 16 2 16 3 16 3 16 3 16 3"/>
<path d="M2152 2005l16-1 16 0 16 0 16 0 16 0 16 0 16 0 16 0 16 1 16 0 16 0 16 0 16 0 16-3 16-3 16-3 16-3 16-3 16-3 16-3 16-3 16-2 16-2 16-2 16-1 16 0 16 2 16 2 16 2 16 2 16 1 16-1 16-2 16-4 16-4 16-4 16-3 16-1 16-1 16 0 16 1 16 0 16 1 16 1 16 0 16 0 16-1 16-1 16-2 16-2 16-1 16 0 16 1 16 0 16 1 16-1 16 0 16 1 16 2 16 3 16 4 16 4"/>
<path d="M2152 2006l16 0 16-1 16 0 16 1 16 0 16 0 16 0 16 1 16-1 16 0 16 0 16-1 16 0 16-3 16-3 16-3 16-3 16-2 16-2 16-2 16-2 16-3 16-1 16-1 16 0 16 1 16 3 16 3 16 2 16 2 16 0 16-1 16-2 16-4 16-4 16-5 16-4 16-3 16-2 16-2 16-1 16 0 16 0 16 0 16 0 16 0 16 0 16 1 16 1 16 3 16 3 16 3 16 3 16 2 16 0 16 0 16-1 16 0 16 1 16 1 16 1 16 2"/>
<path d="M2152 2006l16 0 16 0 16 0 16 0 16 0 16 0 16 0 16 0 16 0 16-1 16 0 16 0 16 0 16-2 16-3 16-3 16-2 16-3 16-3 16-2 16-1 16 0 16 0 16 1 16 0 16 0 16 1 16 0 16 1 16 1 16 1 16 0 16-2 16-3 16-3 16-2 16-2 16-1 16 0 16 0 16-2 16-4 16-4 16-3 16 0 16 1 16 3 16 3 16 2 16 1 16 0 16 0 16 1 16 1 16 2 16 2 16 1 16 0 16-1 16-1 16 1 16 1"/>
<path d="M2152 2001l16 0 16 0 16-1 16 0 16 0 16 1 16 0 16 0 16 0 16-1 16 0 16-1 16-2 16-6 16-7 16-7 16-6 16-6 16-7 16-7 16-6 16-4 16-1 16 1 16 3 16 4 16 3 16 4 16 3 16 3 16 1 16-1 16-4 16-7 16-10 16-11 16-12 16-11 16-9 16-7 16-4 16-3 16-2 16-2 16 0 16 1 16 2 16 3 16 2 16 0 16 1 16 0 16 1 16 3 16 4 16 3 16 3 16 2 16 2 16 2 16 3 16 5"/>
<path d="M2152 2013l16 0 16 0 16 1 16 0 16 0 16 0 16 1 16 0 16 0 16 0 16-1 16 0 16-1 16-2 16-4 16-2 16-2 16-1 16-1 16 0 16 0 16-1 16 0 16-1 16 0 16 0 16 0 16 1 16 1 16 1 16 1 16 0 16 1 16 1 16 0 16 0 16 0 16-1 16-1 16-2 16-1 16-1 16 1 16 1 16 2 16 1 16 0 16-1 16-2 16-3 16-2 16-1 16 0 16 1 16 3 16 2 16 2 16 1 16 0 16-2 16-2 16-2"/>
<path d="M2152 2001l16 0 16 0 16 1 16 0 16 0 16 0 16 0 16 0 16 0 16 0 16-1 16 0 16-1 16-3 16-5 16-5 16-5 16-6 16-6 16-6 16-7 16-7 16-6 16-4 16-1 16 2 16 5 16 6 16 6 16 5 16 3 16 1 16-3 16-6 16-7 16-7 16-6 16-6 16-5 16-5 16-4 16-3 16-4 16-3 16-4 16-5 16-6 16-6 16-5 16-4 16 0 16 2 16 6 16 8 16 10 16 9 16 8 16 8 16 7 16 7 16 7 16 6"/>
<path d="M2152 2009l16 0 16 0 16 1 16 0 16 1 16 1 16 0 16 0 16 0 16-1 16 0 16 0 16 0 16-2 16-3 16-3 16-1 16-2 16-2 16-1 16-1 16-1 16 0 16 1 16 1 16 1 16 0 16 0 16 0 16 0 16-1 16-1 16-1 16-1 16 0 16 1 16 1 16 0 16-1 16-3 16-3 16-1 16 0 16 1 16 1 16 1 16-1 16-1 16-1 16-1 16 0 16 1 16 1 16 1 16 1 16 1 16 0 16 1 16 0 16 0 16-1 16-2"/>
<path d="M2152 2003l16 0 16 0 16 1 16 0 16 0 16 0 16-1 16 0 16 0 16-1 16 0 16 0 16-1 16-3 16-4 16-4 16-4 16-5 16-6 16-5 16-5 16-3 16-2 16 1 16 1 16 3 16 2 16 3 16 2 16 1 16 1 16-1 16-3 16-3 16-4 16-4 16-5 16-4 16-4 16-3 16-1 16 0 16 1 16 1 16 2 16 2 16 1 16 0 16 0 16-1 16-2 16 0 16 0 16 0 16 0 16 1 16 1 16 1 16 1 16 1 16 2 16 2"/>
<path d="M2152 2004l16 0 16 0 16 0 16 0 16 1 16 0 16 0 16 0 16 0 16-1 16 0 16 0 16-1 16-3 16-4 16-5 16-4 16-4 16-5 16-4 16-3 16-2 16-1 16 0 16 2 16 2 16 3 16 3 16 2 16 2 16 2 16-1 16-2 16-3 16-4 16-5 16-4 16-4 16-4 16-2 16-1 16-1 16-1 16-1 16-2 16-2 16-2 16 0 16-1 16 1 16 1 16 2 16 2 16 2 16 3 16 3 16 2 16 3 16 2 16 2 16 2 16 1"/>
<path d="M2152 2013l16 1 16 0 16 0 16 0 16 0 16 1 16 0 16 0 16-1 16 0 16-1 16 0 16-1 16-3 16-3 16-2 16-1 16 0 16 0 16-1 16-1 16-1 16-2 16-1 16-1 16 0 16 2 16 1 16 2 16 1 16 1 16 0 16-1 16-1 16-2 16-2 16-2 16-1 16 1 16 1 16 2 16 2 16 1 16 0 16-1 16-1 16-2 16 0 16 1 16 2 16 2 16 3 16 2 16 1 16 0 16-2 16-2 16-2 16-1 16-1 16 1 16 1"/>
<path d="M2152 2003l16 1 16 0 16 0 16 0 16 0 16 0 16 0 16 0 16 0 16 0 16-1 16 0 16-1 16-3 16-4 16-4 16-3 16-4 16-4 16-4 16-3 16-4 16-3 16-2 16 0 16 1 16 2 16 2 16 3 16 2 16 1 16-1 16-2 16-3 16-5 16-5 16-5 16-4 16-4 16-2 16 0 16 1 16 1 16 1 16 0 16 1 16 0 16 1 16 1 16 1 16 1 16 1 16 1 16 0 16 0 16 1 16 0 16 0 16 0 16 0 16 1 16 0"/>
<path d="M2152 2014l16 1 16 0 16 1 16 0 16-1 16 0 16 0 16 0 16 0 16 1 16 0 16 0 16-1 16-3 16-4 16-2 16-2 16-1 16-1 16-2 16-1 16-1 16-1 16 1 16 2 16 2 16 1 16 1 16 1 16 0 16-1 16 0 16-1 16 1 16 0 16 1 16 0 16 0 16-1 16 1 16 1 16 1 16 1 16 0 16-2 16-2 16-3 16-2 16-1 16 1 16 2 16 1 16 1 16 0 16-1 16-1 16-1 16 0 16 1 16 1 16 1 16 1"/>
</g>
<line x1="124.7" y1="94.0" x2="124.7" y2="126.6" stroke="#000" stroke-width="2"/>
<line x1="144.6" y1="107.0" x2="144.6" y2="159.0" stroke="#000" stroke-width="2"/>
<line x1="169.8" y1="33.1" x2="169.8" y2="92.4" stroke="#000" stroke-width="2"/>
<line x1="124.7" y1="126.6" x2="55.8" y2="190.6" stroke="#7f86f2" stroke-width="0.8"/>
<line x1="145.0" y1="159.0" x2="163.0" y2="185.5" stroke="#7f86f2" stroke-width="0.8"/>
<line x1="169.8" y1="92.4" x2="272.7" y2="185.5" stroke="#7f86f2" stroke-width="0.8"/>
<line x1="445.7" y1="50.0" x2="445.7" y2="110.0" stroke="#000" stroke-width="2"/>
<line x1="463.2" y1="90.0" x2="463.2" y2="122.2" stroke="#000" stroke-width="2"/>
<line x1="569.8" y1="26.4" x2="569.8" y2="84.2" stroke="#000" stroke-width="2"/>
<line x1="445.7" y1="110.0" x2="401.9" y2="186.4" stroke="#7f86f2" stroke-width="0.8"/>
<line x1="463.2" y1="122.2" x2="504.0" y2="183.0" stroke="#7f86f2" stroke-width="0.8"/>
<line x1="569.8" y1="84.2" x2="618.8" y2="183.0" stroke="#7f86f2" stroke-width="0.8"/>
<line x1="124.7" y1="412.4" x2="124.7" y2="444.5" stroke="#000" stroke-width="2"/>
<line x1="144.6" y1="419.9" x2="144.6" y2="471.2" stroke="#000" stroke-width="2"/>
<line x1="171.1" y1="407.3" x2="171.1" y2="450.5" stroke="#000" stroke-width="2"/>
<line x1="124.7" y1="444.5" x2="58.0" y2="500.0" stroke="#7f86f2" stroke-width="0.8"/>
<line x1="144.6" y1="471.2" x2="164.7" y2="499.4" stroke="#7f86f2" stroke-width="0.8"/>
<line x1="171.1" y1="450.5" x2="263.6" y2="500.5" stroke="#7f86f2" stroke-width="0.8"/>
<line x1="444.8" y1="378.8" x2="444.8" y2="425.5" stroke="#000" stroke-width="2"/>
<line x1="462.0" y1="392.0" x2="462.0" y2="423.8" stroke="#000" stroke-width="2"/>
<line x1="566.3" y1="349.3" x2="566.3" y2="400.7" stroke="#000" stroke-width="2"/>
<line x1="444.8" y1="425.5" x2="401.0" y2="501.5" stroke="#7f86f2" stroke-width="0.8"/>
<line x1="462.0" y1="423.8" x2="504.0" y2="500.6" stroke="#7f86f2" stroke-width="0.8"/>
<line x1="566.3" y1="400.7" x2="618.2" y2="499.0" stroke="#7f86f2" stroke-width="0.8"/>
<text x="55.0" y="200.9" text-anchor="middle" font-family="Liberation Serif" font-weight="bold" font-size="13" fill="#000">P1</text>
<text x="162.8" y="200.6" text-anchor="middle" font-family="Liberation Serif" font-weight="bold" font-size="13" fill="#000">N2</text>
<text x="276.3" y="201.2" text-anchor="middle" font-family="Liberation Serif" font-weight="bold" font-size="13" fill="#000">P2</text>
<text x="400.1" y="200.7" text-anchor="middle" font-family="Liberation Serif" font-weight="bold" font-size="13" fill="#000">P1</text>
<text x="512.3" y="200.7" text-anchor="middle" font-family="Liberation Serif" font-weight="bold" font-size="13" fill="#000">N2</text>
<text x="621.9" y="199.1" text-anchor="middle" font-family="Liberation Serif" font-weight="bold" font-size="13.6" fill="#000">P300</text>
<clipPath id="c1"><circle cx="51.6" cy="257.2" r="46.0"/></clipPath>
<g clip-path="url(#c1)">
<circle cx="51.6" cy="257.2" r="46.0" fill="#7bff84"/>
<g filter="url(#bl)">
<path d="M100.0 305.6 3.2 305.6 3.2 252.6 9.1 249.3 9.6 247.5 8.3 245.8 3.2 242.9 3.2 208.8 100.0 208.8 100.0 305.6Z" fill="#8aff75" fill-rule="evenodd"/>
<path d="M100.0 305.6 3.2 305.6 3.2 260.6 16.3 252.8 19.5 249.3 19.9 247.5 19.1 245.8 15.3 242.2 3.2 234.9 3.2 208.8 100.0 208.8 100.0 305.6ZM60.5 240.5 60.9 238.7 59.9 237.0 57.8 235.5 56.0 235.5 54.4 237.0 54.2 239.7 56.0 241.7 57.8 242.0 60.5 240.5Z" fill="#9eff61" fill-rule="evenodd"/>
<path d="M100.0 305.6 3.2 305.6 3.2 267.9 8.5 262.6 19.1 256.3 24.0 252.8 26.1 250.3 27.2 247.5 26.9 245.8 25.4 244.0 3.2 228.4 3.2 208.8 100.0 208.8 100.0 305.6ZM62.4 244.0 70.1 240.0 77.1 239.0 80.6 237.6 83.0 235.2 83.6 233.4 83.4 231.7 82.5 229.9 78.9 227.7 73.6 227.3 64.8 229.2 57.8 229.4 54.2 230.8 52.0 233.4 50.9 237.0 51.4 240.5 52.3 242.2 54.2 244.1 56.0 244.8 59.5 244.9 62.4 244.0ZM56.2 295.0 56.7 291.5 55.2 288.0 52.5 286.0 50.7 285.9 49.0 286.9 47.3 289.8 47.2 291.5 48.8 295.0 52.5 296.7 54.2 296.5 56.2 295.0Z" fill="#b3ff4c" fill-rule="evenodd"/>
<path d="M100.0 305.6 3.2 305.6 3.2 281.8 7.7 270.4 10.0 266.9 12.0 265.0 23.3 258.1 27.5 254.6 29.9 251.0 30.7 247.5 29.7 244.0 27.8 241.7 14.0 231.7 3.2 221.2 3.2 208.8 100.0 208.8 100.0 305.6ZM60.0 247.5 70.1 245.1 82.4 244.1 85.9 242.8 89.4 240.5 93.1 237.0 95.0 233.4 95.3 228.2 93.6 224.6 89.4 221.2 85.9 219.9 71.8 218.2 63.0 218.7 59.5 219.9 56.0 221.8 52.5 225.1 49.4 229.9 48.3 233.4 48.3 238.7 49.4 242.2 52.5 246.0 56.0 247.5 60.0 247.5ZM59.5 302.1 60.8 300.3 61.6 296.8 61.2 293.3 59.2 288.0 56.4 284.5 54.2 283.0 50.7 282.1 49.0 282.6 47.2 284.1 45.9 286.2 44.8 289.8 44.8 293.3 46.0 296.8 49.0 300.1 54.2 302.9 57.8 303.1 59.5 302.1Z" fill="#c7ff38" fill-rule="evenodd"/>
<path d="M100.0 305.6 70.0 305.6 66.0 295.0 61.3 286.0 58.6 282.7 56.0 280.6 52.5 279.2 50.7 279.1 47.2 280.3 45.4 282.1 43.7 285.5 42.6 289.8 42.8 296.8 43.8 300.3 46.6 305.6 3.2 305.6 3.2 297.6 10.5 282.7 13.2 270.4 16.2 266.9 26.1 260.4 29.6 257.4 32.7 252.8 33.5 249.3 33.2 245.8 31.4 241.4 28.8 238.7 19.2 231.7 14.2 226.4 4.1 212.3 3.2 210.9 3.2 208.8 61.4 208.8 56.0 211.5 51.2 215.8 49.0 219.5 46.2 226.4 45.1 231.7 45.2 237.0 47.2 243.5 50.0 247.5 52.5 249.2 56.0 250.2 59.5 250.1 70.1 248.5 84.2 250.6 87.7 250.1 100.0 245.8 100.0 305.6ZM100.0 209.6 98.0 208.8 100.0 208.8 100.0 209.6Z" fill="#dbff24" fill-rule="evenodd"/>
<path d="M100.0 305.6 82.3 305.6 71.8 296.2 59.5 279.9 56.0 277.3 50.7 276.0 47.2 276.9 45.4 278.1 43.7 280.2 41.9 284.0 40.1 293.3 40.4 305.6 8.6 305.6 9.3 300.3 10.9 295.0 17.0 282.7 17.6 275.7 18.5 272.2 21.2 268.6 33.1 259.2 36.2 254.6 37.0 251.0 35.5 242.2 34.0 238.7 32.3 237.0 24.3 231.8 20.9 228.2 15.4 219.4 10.5 208.8 46.5 208.8 43.1 217.6 41.1 228.2 40.7 233.4 41.2 237.0 45.4 247.2 46.8 249.3 49.0 251.2 52.5 252.6 56.0 253.0 70.1 251.7 75.4 253.1 84.2 258.4 85.9 259.0 91.2 259.4 100.0 258.9 100.0 305.6Z" fill="#f0ff0f" fill-rule="evenodd"/>
<path d="M31.4 230.0 29.6 230.0 27.8 229.1 24.8 224.6 22.6 217.6 21.4 208.8 35.2 208.8 35.4 221.1 34.9 226.2 33.1 229.3 31.4 230.0ZM33.1 305.6 16.6 305.6 15.8 300.3 16.2 295.0 20.8 282.9 22.2 275.7 24.2 272.2 27.8 268.8 35.9 263.4 41.9 257.8 43.7 256.8 54.2 256.7 64.8 254.7 70.1 255.0 73.6 256.3 84.2 263.1 100.0 268.8 100.0 301.0 89.4 299.3 75.4 293.5 70.1 289.0 63.0 279.7 59.5 276.0 54.2 272.9 49.0 272.3 45.4 273.4 43.7 274.9 41.9 277.5 39.9 282.7 35.7 302.1 34.4 305.6 33.1 305.6Z" fill="#fffa00" fill-rule="evenodd"/>
<path d="M87.7 291.6 78.9 290.6 75.4 289.2 71.8 286.6 68.6 282.7 63.0 274.7 55.3 266.9 54.5 265.1 55.1 263.4 59.6 259.8 63.0 258.3 64.8 257.9 68.3 258.1 71.8 259.6 86.4 268.6 93.6 273.9 97.5 279.2 98.3 282.7 98.1 284.5 96.5 287.8 94.7 289.4 91.2 291.0 87.7 291.6ZM29.6 301.2 26.1 301.9 24.3 301.3 22.6 299.6 21.0 295.0 21.3 289.8 24.3 280.2 26.1 276.8 29.6 273.5 33.1 272.0 34.9 271.9 36.6 272.4 37.6 273.9 38.0 275.7 36.7 288.0 34.9 294.1 33.1 297.5 29.6 301.2Z" fill="#ffe500" fill-rule="evenodd"/>
<path d="M82.4 286.5 78.9 286.5 75.4 285.2 70.9 281.0 68.3 275.7 65.8 268.6 65.6 266.9 66.6 264.9 70.1 265.0 78.9 268.9 84.0 272.2 87.3 275.7 88.8 279.2 88.3 282.7 85.9 285.3 82.4 286.5ZM31.4 293.3 29.6 294.5 27.8 294.7 26.1 293.8 24.6 289.8 25.0 286.2 26.4 282.7 27.8 280.8 29.6 279.5 31.4 279.2 33.1 280.2 34.5 284.5 33.6 289.8 31.4 293.3Z" fill="#ffd100" fill-rule="evenodd"/>
<path d="M78.9 281.5 76.1 281.0 74.4 279.2 73.8 277.4 74.0 275.7 75.4 274.3 77.1 274.1 78.9 274.7 81.3 277.4 81.4 279.2 80.6 280.6 78.9 281.5ZM29.6 288.3 28.8 286.2 29.6 285.5 30.4 286.2 29.6 288.3Z" fill="#ffbd00" fill-rule="evenodd"/>
</g>
<path d="M100.0 305.6 3.2 305.6 3.2 259.5 14.9 252.8 18.1 249.3 18.4 247.5 17.7 245.8 14.0 242.2 3.2 235.9 3.2 208.8 100.0 208.8 100.0 305.6M59.5 240.5 60.0 238.7 58.7 237.0 57.8 236.4 55.4 237.0 54.6 238.7 56.0 241.1 57.8 241.4 59.5 240.5M100.0 305.6 3.2 305.6 3.2 267.1 9.2 261.6 22.6 253.4 25.0 251.0 26.7 247.5 26.3 245.8 24.7 244.0 3.2 229.0 3.2 208.8 100.0 208.8 100.0 305.6M61.6 244.0 70.1 239.1 77.1 238.2 80.2 237.0 81.9 235.2 82.3 231.7 80.6 229.6 75.4 228.1 64.8 230.6 57.8 230.1 54.2 231.4 52.4 233.4 51.2 237.0 52.5 242.0 56.0 244.6 61.6 244.0M55.3 295.0 56.3 291.5 54.7 288.0 52.5 286.5 50.7 286.4 49.0 287.4 47.5 291.5 49.0 294.7 52.5 296.2 55.3 295.0M100.0 305.6 3.2 305.6 3.2 281.1 7.4 270.4 12.0 264.8 22.6 258.4 27.3 254.6 29.8 251.0 30.6 247.5 29.6 244.0 27.8 241.9 15.9 233.4 3.2 221.5 3.2 208.8 100.0 208.8 100.0 305.6M59.1 247.5 70.1 244.9 81.8 244.0 87.7 241.4 92.6 237.0 94.5 233.4 94.7 228.2 93.0 224.7 89.4 221.8 85.9 220.4 71.8 218.6 63.0 219.1 56.0 222.2 52.5 225.4 49.6 229.9 48.5 233.4 48.4 238.7 49.5 242.2 52.3 245.8 56.0 247.4 59.1 247.5M58.8 302.1 60.4 300.3 61.4 296.8 61.1 293.3 59.5 288.9 57.8 286.1 54.2 283.1 50.7 282.3 49.0 282.7 46.0 286.2 44.9 289.8 44.9 293.3 46.1 296.8 49.0 299.9 52.5 301.9 56.0 302.9 58.8 302.1M100.0 305.6 70.2 305.6 65.3 293.3 60.2 284.5 56.0 280.5 50.7 279.0 47.2 280.2 45.4 282.0 43.7 285.4 42.6 289.8 42.7 296.8 46.5 305.6 3.2 305.6 3.2 297.9 10.6 282.7 13.3 270.4 16.3 266.9 29.6 257.5 32.7 252.8 33.5 249.3 33.2 245.8 31.4 241.3 28.9 238.7 19.3 231.7 14.3 226.4 4.2 212.3 3.2 210.7 3.2 208.8 60.9 208.8 56.0 211.3 51.0 215.8 46.1 226.4 45.0 231.7 45.1 237.0 47.2 243.6 49.9 247.5 52.5 249.3 56.0 250.2 70.1 248.6 84.2 250.8 87.7 250.3 100.0 246.1 100.0 305.6M100.0 209.2 99.0 208.8 100.0 209.2M100.0 305.6 83.6 305.6 71.8 295.7 59.5 279.6 56.0 277.0 50.7 275.7 47.2 276.6 45.4 277.8 41.9 283.5 39.9 293.3 40.0 305.6 9.2 305.6 11.3 295.0 17.4 282.7 18.0 275.7 19.0 272.2 21.8 268.6 31.0 261.6 34.5 258.1 36.5 254.6 37.4 251.0 35.8 242.2 34.5 238.7 32.9 237.0 24.5 231.7 21.3 228.2 15.9 219.4 11.2 208.8 45.7 208.8 42.2 219.4 40.5 229.9 40.4 235.2 45.2 247.5 49.0 251.5 52.5 252.9 56.0 253.3 70.1 252.0 75.4 253.4 85.9 259.5 100.0 259.8 100.0 305.6M31.4 228.4 29.6 228.5 27.8 227.5 26.1 224.6 24.3 217.6 24.1 208.8 32.4 208.8 33.9 222.9 33.3 226.4 31.4 228.4M33.1 305.6 17.9 305.6 16.6 300.3 17.3 293.3 20.8 284.3 22.6 276.4 24.3 273.0 27.8 269.6 43.7 258.3 54.2 257.3 64.8 255.1 70.1 255.5 73.6 256.9 84.2 263.7 100.0 270.2 100.0 299.0 89.4 298.1 77.1 293.8 70.1 288.4 59.5 275.4 54.2 272.3 49.0 271.6 45.4 272.6 43.7 274.0 41.4 277.4 39.6 282.7 36.2 298.6 33.1 305.6M89.4 289.9 84.2 290.6 78.9 289.8 75.4 288.4 71.8 285.8 63.0 273.4 57.5 266.9 56.9 265.1 57.4 263.4 59.0 261.6 64.8 258.7 68.3 259.0 84.8 268.6 91.8 273.9 95.4 279.2 96.0 282.7 94.7 286.4 93.0 288.2 89.4 289.9M29.6 299.7 26.1 300.2 23.6 298.6 22.0 295.0 22.0 289.8 24.3 281.7 26.6 277.4 31.4 273.9 34.9 273.7 36.6 275.6 36.9 277.4 36.2 288.0 33.1 296.1 29.6 299.7M84.2 284.5 78.9 285.4 75.4 284.2 73.4 282.7 70.9 279.2 69.5 275.7 68.8 270.4 69.6 268.6 71.8 268.1 77.1 269.4 84.2 273.9 87.0 279.2 86.1 282.7 84.2 284.5M31.4 291.9 29.6 293.0 27.8 293.0 26.1 291.6 25.5 289.8 26.3 284.5 27.8 282.1 29.6 281.0 31.5 281.0 33.1 282.6 33.6 284.5 33.4 288.0 31.4 291.9" fill="none" stroke="#2a2a2a" stroke-width="0.4" stroke-opacity="0.55"/>
</g>
<path d="M38.8 224.2h1M63.4 224.2h1M23.8 231.7h1M33.1 231.7h1M42.3 231.7h1M51.1 231.7h1M59.9 231.7h1M69.1 231.7h1M78.4 231.7h1M19.4 239.2h1M27.3 239.2h1M35.3 239.2h1M43.2 239.2h1M51.1 239.2h1M59.0 239.2h1M66.9 239.2h1M74.9 239.2h1M82.8 239.2h1M15.9 246.6h1M24.7 246.6h1M33.5 246.6h1M42.3 246.6h1M51.1 246.6h1M59.9 246.6h1M68.7 246.6h1M77.5 246.6h1M86.3 246.6h1M18.1 257.2h1M29.1 257.2h1M40.1 257.2h1M51.1 257.2h1M62.1 257.2h1M73.1 257.2h1M84.1 257.2h1M18.1 267.8h1M29.1 267.8h1M40.1 267.8h1M51.1 267.8h1M62.1 267.8h1M73.1 267.8h1M84.1 267.8h1M24.7 277.0h1M33.5 277.0h1M42.3 277.0h1M51.1 277.0h1M59.9 277.0h1M68.7 277.0h1M77.5 277.0h1M22.1 284.5h1M31.7 284.5h1M41.4 284.5h1M51.1 284.5h1M60.8 284.5h1M70.5 284.5h1M80.1 284.5h1M37.9 291.1h1M51.1 291.1h1M64.3 291.1h1" stroke="#111" stroke-width="0.9" stroke-opacity="0.8"/>
<circle cx="51.6" cy="257.2" r="44.0" fill="none" stroke="#111" stroke-width="1.1"/>
<path d="M43.6 213.8L48.9 208.0M54.3 208.0L59.6 213.8" stroke="#111" stroke-width="0.9" fill="none"/>
<path d="M95.2 246.4C97.4 245.0 99.6 245.4 99.9 248.0L100.0 263.2C100.3 267.7 98.8 269.5 95.9 268.8M8.0 246.4C5.8 245.0 3.6 245.4 3.3 248.0L3.2 263.2C2.9 267.7 4.4 269.5 7.3 268.8" stroke="#222" stroke-width="0.9" fill="none"/>
<rect x="104.8" y="207.5" width="5.9" height="99.3" fill="url(#jetg)" stroke="#777" stroke-width="0.4"/>
<g font-family="Liberation Sans" font-size="3.4" fill="#666"><text x="112.5" y="216.4">5</text><text x="112.5" y="224.7">4</text><text x="112.5" y="233.0">3</text><text x="112.5" y="241.3">2</text><text x="112.5" y="249.6">1</text><text x="112.5" y="257.9">0</text><text x="112.5" y="266.2">-1</text><text x="112.5" y="274.5">-2</text><text x="112.5" y="282.8">-3</text><text x="112.5" y="291.1">-4</text><text x="112.5" y="299.4">-5</text></g>
<clipPath id="c2"><circle cx="169.7" cy="257.6" r="46.0"/></clipPath>
<g clip-path="url(#c2)">
<circle cx="169.7" cy="257.6" r="46.0" fill="#00a3ff"/>
<g filter="url(#bl)">
<path d="M218.1 306.1 121.2 306.0 121.3 209.1 218.1 209.2 218.1 306.1ZM190.9 274.3 193.5 273.6 196.3 270.8 197.7 267.3 197.9 263.8 195.2 258.5 191.1 246.2 188.2 242.6 186.4 242.4 184.7 243.6 183.6 246.2 183.9 256.7 183.0 267.3 184.8 272.6 188.2 274.3 190.9 274.3Z" fill="#00bdff" fill-rule="evenodd"/>
<path d="M218.1 306.1 121.2 306.0 121.3 209.1 218.1 209.2 218.1 306.1ZM196.1 276.1 199.7 272.6 203.5 265.5 204.7 262.0 204.2 258.5 197.2 244.4 194.7 240.9 192.9 239.1 189.7 237.4 186.4 236.8 182.9 237.4 180.2 239.1 178.8 240.9 177.2 246.2 179.4 265.5 180.7 270.8 182.9 274.6 186.4 276.6 191.7 277.1 196.1 276.1Z" fill="#00d1ff" fill-rule="evenodd"/>
<path d="M218.1 306.0 121.2 306.0 121.3 209.2 218.1 209.2 218.1 306.0ZM197.9 277.8 201.9 274.3 208.0 265.5 209.2 262.0 208.7 256.7 201.4 242.6 197.0 237.0 193.5 234.7 188.2 233.1 184.7 232.9 180.3 233.8 177.6 235.3 175.6 237.4 173.6 240.9 172.8 244.4 173.5 251.4 178.3 270.8 181.1 275.5 184.7 278.0 191.7 279.2 195.2 278.9 197.9 277.8Z" fill="#00e6ff" fill-rule="evenodd"/>
<path d="M218.1 306.0 121.3 306.0 121.3 209.2 218.1 209.2 218.1 306.0ZM198.8 279.6 201.7 277.8 205.4 274.3 209.9 269.0 212.1 265.5 213.6 260.2 213.3 256.7 212.1 253.2 204.7 239.1 201.8 235.6 198.7 233.2 193.5 230.8 188.2 229.5 182.9 229.3 177.6 230.6 174.1 232.9 171.7 235.6 169.8 239.1 168.6 244.4 169.8 251.4 176.1 270.8 179.4 276.1 181.2 277.8 184.7 279.7 191.7 281.0 195.2 280.7 198.8 279.6Z" fill="#00faff" fill-rule="evenodd"/>
<path d="M218.1 306.0 121.3 306.0 121.3 209.2 218.1 209.2 218.1 256.3 216.3 249.7 211.0 239.1 208.7 235.6 205.8 232.6 202.3 230.2 198.7 228.5 193.5 227.0 182.9 225.5 177.6 226.4 174.1 228.1 170.6 230.9 167.2 235.6 165.0 240.9 164.4 244.4 165.3 249.7 174.8 272.6 179.4 278.3 182.9 280.5 186.4 281.8 191.7 282.5 197.0 282.0 200.5 280.8 205.4 277.8 211.2 272.6 214.2 269.0 217.1 263.8 218.1 259.2 218.1 306.0Z" fill="#0ffff0" fill-rule="evenodd"/>
<path d="M218.1 306.0 121.3 306.0 121.3 209.2 218.1 209.2 218.1 238.0 215.3 233.8 212.0 230.3 207.5 227.1 204.0 225.4 198.7 223.8 186.4 221.7 179.4 221.8 175.9 222.8 172.3 224.6 167.1 229.4 161.5 239.1 160.2 242.6 159.7 246.2 160.5 249.7 165.3 257.6 172.7 272.6 177.6 278.7 182.9 282.1 186.4 283.3 191.7 284.0 195.2 283.9 200.5 282.7 204.0 281.3 209.6 277.8 213.9 274.3 218.1 269.9 218.1 306.0Z" fill="#24ffdb" fill-rule="evenodd"/>
<path d="M218.1 306.0 121.3 306.0 121.3 209.2 218.1 209.2 218.1 225.8 214.5 223.3 209.3 220.8 198.7 218.3 182.9 217.0 177.6 217.7 172.3 219.8 167.1 224.0 163.5 228.5 154.8 244.4 153.8 247.9 155.0 251.4 161.8 258.2 168.0 269.0 173.0 276.1 177.6 280.6 182.9 283.6 191.7 285.5 200.5 284.5 208.6 281.4 218.1 274.9 218.1 306.0Z" fill="#38ffc7" fill-rule="evenodd"/>
<path d="M218.1 306.0 121.3 306.0 121.3 209.2 218.1 209.2 218.1 215.2 212.8 213.4 205.8 212.1 189.9 211.3 181.1 211.9 175.9 213.3 172.3 214.9 167.1 218.6 163.0 223.3 155.0 237.4 149.5 245.7 148.5 249.7 149.1 253.2 151.2 256.6 158.7 262.0 174.1 279.6 181.1 284.3 189.9 286.7 197.5 286.6 207.5 284.3 218.1 278.9 218.1 306.0Z" fill="#4dffb3" fill-rule="evenodd"/>
<path d="M218.1 306.0 121.3 306.0 121.3 209.2 172.9 209.2 167.1 213.1 161.8 218.8 153.9 233.8 145.6 246.2 144.3 249.7 143.8 253.2 144.1 258.5 145.0 262.0 145.9 263.9 147.7 265.6 156.5 268.2 160.0 269.9 165.3 273.7 175.9 283.0 179.4 285.0 184.7 287.0 191.7 288.3 200.5 287.9 209.3 286.0 218.1 282.3 218.1 306.0Z" fill="#61ff9e" fill-rule="evenodd"/>
<path d="M218.1 306.0 121.3 306.0 121.3 209.2 164.9 209.2 161.8 212.6 158.3 217.6 151.2 233.4 143.0 244.4 139.9 249.7 136.0 260.2 135.3 263.8 136.0 267.3 138.3 270.8 140.7 272.6 145.4 274.3 154.7 273.4 160.0 274.3 165.3 276.9 173.4 283.1 177.6 285.7 182.9 287.9 188.2 289.2 195.2 290.0 204.0 289.3 211.1 287.8 218.1 285.4 218.1 306.0Z" fill="#75ff8a" fill-rule="evenodd"/>
<path d="M218.1 306.0 121.3 306.0 121.3 209.2 159.3 209.2 154.7 216.9 150.9 228.6 148.1 233.8 133.6 250.5 128.3 255.9 126.8 258.5 126.2 262.0 126.5 265.5 127.9 269.0 130.6 272.6 135.4 276.0 140.7 277.9 145.9 278.4 156.5 277.3 161.8 278.3 165.3 279.8 177.6 287.3 182.9 289.3 189.9 291.0 197.0 291.6 204.0 291.3 211.1 290.2 218.1 288.3 218.1 306.0Z" fill="#8aff75" fill-rule="evenodd"/>
<path d="M121.3 255.6 121.3 209.2 154.6 209.2 151.2 217.1 148.2 228.6 145.9 232.8 138.9 240.0 124.7 251.4 121.3 255.6ZM218.1 306.0 121.3 306.0 121.3 270.1 123.1 272.8 126.4 276.1 130.1 278.5 133.6 280.0 142.4 281.6 156.5 280.5 161.8 281.1 165.3 282.4 177.6 288.9 189.9 292.6 197.0 293.3 204.0 293.3 211.1 292.6 218.1 291.1 218.1 306.0Z" fill="#9eff61" fill-rule="evenodd"/>
<path d="M123.1 246.5 121.3 247.8 121.3 209.2 150.3 209.2 148.2 216.2 146.1 226.8 144.2 231.0 141.6 233.8 137.1 237.4 123.1 246.5ZM218.1 306.0 121.3 306.0 121.3 278.2 128.3 282.2 135.4 284.1 142.4 284.6 156.5 283.3 161.8 283.8 167.1 285.6 179.4 291.1 191.7 294.5 204.0 295.3 218.1 293.8 218.1 306.0Z" fill="#b3ff4c" fill-rule="evenodd"/>
<path d="M123.1 241.0 121.3 242.0 121.3 209.2 146.1 209.2 143.4 225.0 142.4 228.6 140.7 230.6 137.1 233.3 123.1 241.0ZM218.1 306.0 121.3 306.0 121.3 283.5 128.3 286.1 135.4 287.3 142.4 287.4 156.5 285.9 161.8 286.2 167.1 287.7 179.4 292.8 188.2 295.4 195.2 296.8 205.8 297.4 218.1 296.5 218.1 306.0Z" fill="#c7ff38" fill-rule="evenodd"/>
<path d="M123.1 235.6 121.3 236.4 121.3 209.2 141.6 209.2 140.0 221.5 138.2 226.8 133.6 230.6 123.1 235.6ZM218.1 306.0 121.3 306.0 121.3 287.8 128.3 289.6 135.4 290.3 142.4 290.1 156.5 288.5 163.5 288.9 179.4 294.5 193.5 298.4 205.8 299.6 218.1 299.2 218.1 306.0Z" fill="#dbff24" fill-rule="evenodd"/>
<path d="M121.3 230.4 121.3 209.2 136.3 209.2 135.0 218.0 132.9 223.3 128.8 226.8 121.3 230.4ZM218.1 306.0 121.3 306.0 121.3 291.7 128.3 293.0 135.4 293.3 156.5 291.0 163.5 291.1 184.7 298.0 193.5 300.3 205.8 301.9 218.1 301.9 218.1 306.0Z" fill="#f0ff0f" fill-rule="evenodd"/>
<path d="M121.3 222.1 121.3 209.2 129.2 209.2 128.3 212.9 126.6 217.0 124.3 219.8 121.3 222.1ZM218.1 306.0 121.3 306.0 121.3 295.3 128.3 296.2 135.4 296.3 156.5 293.5 163.5 293.4 167.1 294.1 191.7 302.0 204.0 304.1 218.1 304.7 218.1 306.0Z" fill="#fffa00" fill-rule="evenodd"/>
<path d="M200.5 306.0 121.3 306.0 121.3 298.9 128.3 299.4 135.4 299.2 156.5 296.1 163.5 295.9 168.8 297.0 186.4 302.7 200.5 306.0Z" fill="#ffe500" fill-rule="evenodd"/>
</g>
<path d="M218.1 306.1 121.2 306.0 121.3 209.1 218.1 209.2 218.1 306.1M197.4 276.1 200.6 272.6 204.8 265.5 206.0 262.0 205.7 258.5 198.6 244.4 194.6 239.1 191.7 237.1 188.2 235.9 182.9 236.2 179.4 238.2 177.6 240.4 176.0 246.2 178.7 265.5 180.0 270.8 182.9 275.3 186.4 277.1 193.5 277.6 197.4 276.1M218.1 306.0 121.3 306.0 121.3 209.2 218.1 209.2 218.1 306.0M193.9 281.4 198.7 280.2 202.7 277.8 211.2 269.0 214.5 262.0 214.3 255.0 206.4 239.1 201.8 233.8 197.0 230.9 191.7 229.2 184.7 228.2 179.4 228.8 173.3 232.1 169.3 237.4 167.6 242.6 168.2 249.7 174.7 269.0 178.7 276.1 181.1 278.3 184.7 280.2 189.9 281.3 193.9 281.4M218.1 306.0 121.3 306.0 121.3 209.2 218.1 209.2 218.1 233.7 211.1 226.9 204.0 223.5 186.4 220.3 179.4 220.4 172.3 223.1 167.1 227.7 161.1 237.4 158.0 246.2 158.7 249.7 163.6 256.7 173.2 274.3 177.9 279.6 182.9 282.6 191.7 284.5 201.0 283.1 208.4 279.6 218.1 271.6 218.1 306.0M218.1 306.0 121.3 306.0 121.3 209.2 186.5 209.2 179.4 210.4 174.1 212.2 168.8 215.3 164.1 219.8 160.5 225.0 154.7 235.9 147.9 246.2 147.0 249.7 147.6 255.0 149.5 258.4 151.2 260.1 158.3 264.4 173.2 279.6 177.9 283.1 182.9 285.5 191.7 287.4 200.5 286.8 209.3 284.4 218.1 280.1 218.1 306.0M218.1 211.3 207.0 209.2 218.1 209.2 218.1 211.3M218.1 306.0 121.3 306.0 121.3 209.2 162.6 209.2 156.5 218.0 149.9 233.8 140.2 246.2 132.1 260.2 131.8 265.5 134.6 270.8 139.1 274.3 144.2 276.0 156.5 275.0 161.8 276.3 177.6 286.3 188.2 289.8 195.2 290.6 204.0 290.0 211.1 288.7 218.1 286.5 218.1 306.0M121.3 251.9 121.3 209.2 152.8 209.2 150.1 216.2 147.8 226.8 145.2 232.1 138.9 238.4 121.3 251.9M218.1 306.0 121.3 306.0 121.3 274.2 126.6 278.6 133.6 281.6 142.4 282.8 156.5 281.7 161.8 282.2 177.6 289.5 189.9 293.2 204.0 294.1 218.1 292.2 218.1 306.0M121.3 239.6 121.3 209.2 144.2 209.2 142.2 223.3 140.3 228.6 135.4 232.5 121.3 239.6M218.1 306.0 121.3 306.0 121.3 285.4 128.3 287.7 135.4 288.7 142.4 288.6 156.5 287.0 161.8 287.3 167.1 288.6 181.1 294.1 193.5 297.3 205.8 298.4 218.1 297.7 218.1 306.0M121.3 226.9 121.3 209.2 133.3 209.2 132.0 216.2 130.1 220.6 126.6 224.1 121.3 226.9M218.1 306.0 121.3 306.0 121.3 293.4 128.3 294.5 135.4 294.7 156.5 292.1 163.5 292.2 195.2 301.6 205.8 303.0 218.1 303.2 218.1 306.0" fill="none" stroke="#2a2a2a" stroke-width="0.4" stroke-opacity="0.55"/>
</g>
<path d="M156.9 224.6h1M181.5 224.6h1M141.9 232.1h1M151.2 232.1h1M160.4 232.1h1M169.2 232.1h1M178.0 232.1h1M187.2 232.1h1M196.5 232.1h1M137.5 239.6h1M145.4 239.6h1M153.4 239.6h1M161.3 239.6h1M169.2 239.6h1M177.1 239.6h1M185.0 239.6h1M193.0 239.6h1M200.9 239.6h1M134.0 247.0h1M142.8 247.0h1M151.6 247.0h1M160.4 247.0h1M169.2 247.0h1M178.0 247.0h1M186.8 247.0h1M195.6 247.0h1M204.4 247.0h1M136.2 257.6h1M147.2 257.6h1M158.2 257.6h1M169.2 257.6h1M180.2 257.6h1M191.2 257.6h1M202.2 257.6h1M136.2 268.2h1M147.2 268.2h1M158.2 268.2h1M169.2 268.2h1M180.2 268.2h1M191.2 268.2h1M202.2 268.2h1M142.8 277.4h1M151.6 277.4h1M160.4 277.4h1M169.2 277.4h1M178.0 277.4h1M186.8 277.4h1M195.6 277.4h1M140.2 284.9h1M149.8 284.9h1M159.5 284.9h1M169.2 284.9h1M178.9 284.9h1M188.6 284.9h1M198.2 284.9h1M156.0 291.5h1M169.2 291.5h1M182.4 291.5h1" stroke="#111" stroke-width="0.9" stroke-opacity="0.8"/>
<circle cx="169.7" cy="257.6" r="44.0" fill="none" stroke="#111" stroke-width="1.1"/>
<path d="M161.7 214.2L167.0 208.4M172.4 208.4L177.7 214.2" stroke="#111" stroke-width="0.9" fill="none"/>
<path d="M213.3 246.8C215.5 245.4 217.7 245.8 218.0 248.4L218.1 263.6C218.4 268.1 216.9 269.9 214.0 269.2M126.1 246.8C123.9 245.4 121.7 245.8 121.4 248.4L121.3 263.6C121.0 268.1 122.5 269.9 125.4 269.2" stroke="#222" stroke-width="0.9" fill="none"/>
<rect x="222.4" y="208.6" width="5.5" height="97.9" fill="url(#jetg)" stroke="#777" stroke-width="0.4"/>
<g font-family="Liberation Sans" font-size="3.4" fill="#666"><text x="229.7" y="217.4">5</text><text x="229.7" y="225.6">4</text><text x="229.7" y="233.8">3</text><text x="229.7" y="242.0">2</text><text x="229.7" y="250.1">1</text><text x="229.7" y="258.3">0</text><text x="229.7" y="266.5">-1</text><text x="229.7" y="274.7">-2</text><text x="229.7" y="282.8">-3</text><text x="229.7" y="291.0">-4</text><text x="229.7" y="299.2">-5</text></g>
<clipPath id="c3"><circle cx="278.5" cy="257.5" r="46.0"/></clipPath>
<g clip-path="url(#c3)">
<circle cx="278.5" cy="257.5" r="46.0" fill="#bdff42"/>
<g filter="url(#bl)">
<path d="M291.7 305.9 261.8 305.9 258.3 302.4 256.5 302.4 244.2 290.1 244.2 288.3 242.4 286.5 242.4 284.8 240.7 283.0 240.7 281.3 237.1 277.7 237.1 276.0 233.6 272.5 233.6 270.7 231.9 268.9 231.9 267.2 230.1 265.4 230.1 209.1 326.9 209.1 326.9 277.7 323.4 281.3 321.6 281.3 314.6 288.3 314.6 290.1 304.0 300.6 302.3 300.6 298.7 304.1 297.0 304.1 295.2 305.9 291.7 305.9Z" fill="#c7ff38" fill-rule="evenodd"/>
<path d="M284.7 304.6 277.6 305.5 272.3 304.8 265.3 302.2 256.5 297.2 251.2 292.8 247.7 288.8 236.7 270.7 230.1 257.2 230.1 209.1 326.9 209.1 326.9 274.1 318.1 280.4 307.5 291.9 302.3 296.5 293.5 301.4 284.7 304.6Z" fill="#dbff24" fill-rule="evenodd"/>
<path d="M282.9 300.9 277.6 301.7 272.3 300.9 263.5 297.6 256.5 293.8 253.0 291.1 248.8 286.5 240.0 272.5 230.1 251.8 230.1 209.1 326.9 209.1 326.9 271.0 316.3 279.1 307.5 288.1 302.3 292.7 295.2 296.6 282.9 300.9Z" fill="#f0ff0f" fill-rule="evenodd"/>
<path d="M277.6 297.1 263.5 293.9 258.3 291.6 254.7 289.3 249.5 284.0 241.2 270.7 234.7 254.9 230.1 246.9 230.1 209.1 326.9 209.1 326.9 267.7 305.8 286.3 300.5 290.2 291.7 293.9 277.6 297.1Z" fill="#fffa00" fill-rule="evenodd"/>
<path d="M289.9 290.3 284.7 290.6 277.6 290.2 268.8 291.2 263.5 290.5 256.5 287.6 253.0 284.9 249.9 281.3 242.4 268.9 236.5 253.1 230.1 242.0 230.1 209.1 326.9 209.1 326.9 264.1 318.7 272.5 304.0 284.5 297.0 288.5 289.9 290.3Z" fill="#ffe500" fill-rule="evenodd"/>
<path d="M289.9 286.7 277.6 286.0 268.8 287.6 263.5 287.4 256.5 284.7 251.2 279.9 243.6 267.2 237.4 249.6 230.1 237.2 230.1 209.1 326.9 209.1 326.9 259.7 317.9 270.7 307.5 279.2 298.7 284.5 295.2 285.8 289.9 286.7Z" fill="#ffd100" fill-rule="evenodd"/>
<path d="M293.5 283.2 288.2 283.7 277.6 283.3 268.8 284.5 263.5 284.5 258.3 282.9 254.7 280.7 253.0 278.9 245.6 267.2 243.5 261.9 241.2 253.1 238.9 247.1 230.1 232.1 230.1 209.1 326.9 209.1 326.9 254.5 318.4 267.2 313.3 272.5 302.3 279.9 293.5 283.2Z" fill="#ffbd00" fill-rule="evenodd"/>
<path d="M272.3 281.5 265.3 282.0 261.8 281.5 258.3 280.2 254.7 277.6 248.7 268.9 245.4 261.9 242.8 251.3 240.3 244.3 230.1 226.4 230.1 209.1 326.9 209.1 326.9 248.5 315.8 267.2 312.8 270.5 309.3 273.2 302.3 277.3 297.0 279.5 289.9 280.9 277.6 280.9 272.3 281.5Z" fill="#ffa800" fill-rule="evenodd"/>
<path d="M293.5 277.8 288.2 278.4 265.3 279.3 259.1 277.7 254.8 274.2 251.2 269.2 248.1 263.7 242.4 243.0 230.1 219.6 230.1 209.1 326.9 209.1 326.9 242.6 321.6 250.1 315.4 263.7 311.7 268.9 307.5 272.0 302.3 274.8 293.5 277.8Z" fill="#ff9400" fill-rule="evenodd"/>
<path d="M288.2 276.0 265.3 276.8 260.0 275.2 254.9 270.7 249.6 261.9 244.9 242.5 234.7 221.4 230.1 210.6 230.1 209.1 326.9 209.1 326.9 236.6 318.7 247.8 312.6 263.7 309.3 268.0 304.0 271.4 297.0 274.3 288.2 276.0Z" fill="#ff8000" fill-rule="evenodd"/>
<path d="M277.6 274.3 268.8 274.5 263.5 273.7 258.3 270.7 254.7 266.6 252.0 261.9 250.8 258.4 247.0 240.8 239.7 224.9 234.1 209.1 326.9 209.1 326.9 230.2 319.9 239.4 315.6 246.1 314.1 249.6 311.1 260.1 309.3 263.7 305.8 267.4 297.0 271.6 288.2 273.6 277.6 274.3Z" fill="#ff6b00" fill-rule="evenodd"/>
<path d="M289.9 270.8 277.6 272.1 267.1 271.7 261.8 269.9 256.9 265.4 253.2 258.4 249.7 240.8 243.1 224.9 238.9 209.1 326.9 209.1 326.9 222.8 313.7 242.5 311.3 247.8 308.4 258.4 306.7 261.9 304.0 264.9 300.6 267.2 295.2 269.5 289.9 270.8Z" fill="#ff5700" fill-rule="evenodd"/>
<path d="M286.4 269.0 275.9 269.8 267.1 269.0 261.8 266.5 258.3 262.9 256.5 260.0 254.6 254.9 251.7 239.0 246.4 223.2 244.2 209.1 326.9 209.1 326.9 213.4 311.1 239.9 308.6 246.1 305.8 256.1 303.8 260.1 300.5 263.6 297.6 265.4 291.7 267.8 286.4 269.0Z" fill="#ff4200" fill-rule="evenodd"/>
<path d="M281.1 267.3 272.3 267.3 267.1 266.1 261.8 262.8 258.6 258.4 256.2 251.3 254.3 239.0 251.0 224.9 250.5 219.7 250.6 209.1 321.7 209.1 308.1 237.3 303.4 253.1 300.8 258.4 297.3 261.9 293.5 264.2 288.2 266.1 281.1 267.3Z" fill="#ff2e00" fill-rule="evenodd"/>
<path d="M286.4 263.9 277.6 265.1 272.3 264.7 268.8 263.8 263.5 260.5 260.0 255.2 258.0 247.8 255.7 226.7 256.5 219.1 260.1 209.1 311.8 209.1 308.0 224.9 304.1 235.5 301.5 247.8 299.8 253.1 297.8 256.6 294.3 260.1 291.5 261.9 286.4 263.9Z" fill="#ff1a00" fill-rule="evenodd"/>
<path d="M282.9 262.0 277.6 262.5 272.2 261.9 267.1 259.6 264.0 256.6 261.8 252.4 260.2 246.1 259.6 237.3 259.9 230.2 260.6 226.7 262.2 223.2 263.5 221.4 267.1 218.8 270.6 217.8 277.6 217.6 286.4 215.7 289.9 215.6 293.5 216.7 295.2 218.0 297.0 220.2 298.2 223.2 298.9 228.5 298.7 244.3 296.9 251.3 293.5 256.6 288.4 260.1 282.9 262.0Z" fill="#ff0500" fill-rule="evenodd"/>
<path d="M284.7 258.6 277.6 259.8 272.3 258.9 268.8 257.1 267.1 255.6 264.4 251.3 262.7 244.3 263.0 235.5 263.8 232.0 265.3 228.9 268.8 225.7 272.3 224.5 275.9 224.1 284.7 224.7 288.2 226.2 289.9 227.6 292.7 232.0 294.5 237.3 295.0 240.8 294.4 247.8 293.1 251.3 290.5 254.9 288.2 256.8 284.7 258.6Z" fill="#f00000" fill-rule="evenodd"/>
<path d="M279.4 256.7 274.1 256.2 270.6 254.5 267.8 251.3 265.9 246.1 266.0 239.0 268.0 233.7 270.6 231.0 275.9 229.2 281.1 229.6 286.1 232.0 289.0 235.5 290.9 240.8 291.0 246.1 288.9 251.3 284.7 255.1 279.4 256.7Z" fill="#db0000" fill-rule="evenodd"/>
<path d="M279.4 253.2 275.9 253.1 272.3 251.4 270.6 249.3 269.3 246.1 269.2 242.5 270.6 238.2 272.3 236.1 275.9 234.4 279.4 234.4 282.9 235.9 285.7 239.0 287.0 242.5 286.9 246.1 285.4 249.6 282.9 251.9 279.4 253.2Z" fill="#c70000" fill-rule="evenodd"/>
<path d="M279.4 248.4 277.6 248.8 275.9 248.3 274.0 246.1 274.1 242.8 275.9 240.7 277.6 240.3 279.4 240.6 281.4 242.5 281.6 246.1 279.4 248.4Z" fill="#b20000" fill-rule="evenodd"/>
</g>
<path d="M281.1 300.7 275.9 301.0 270.6 299.7 261.8 296.3 254.7 292.0 247.9 284.8 239.4 270.7 230.1 251.1 230.1 209.1 326.9 209.1 326.9 270.5 316.3 278.7 305.8 289.2 300.5 293.3 291.7 297.4 281.1 300.7M293.5 288.5 286.4 289.4 277.6 288.6 270.6 289.9 265.3 289.8 258.3 287.7 254.7 285.5 251.2 282.1 243.0 268.9 237.1 252.8 230.1 240.6 230.1 209.1 326.9 209.1 326.9 262.8 319.8 270.7 305.8 282.3 298.7 286.7 293.5 288.5M270.6 283.1 263.5 283.3 256.5 280.7 253.0 277.4 247.5 268.9 244.3 261.9 239.6 246.1 230.1 229.6 230.1 209.1 326.9 209.1 326.9 251.8 317.2 267.2 314.1 270.7 309.3 274.5 302.3 278.7 297.0 281.0 289.9 282.4 277.6 282.2 270.6 283.1M270.6 277.8 263.5 277.5 259.2 276.0 255.2 272.5 251.2 266.8 248.1 260.1 243.8 242.5 230.1 214.5 230.1 209.1 326.9 209.1 326.9 239.0 319.9 248.7 314.6 261.9 311.5 267.2 309.3 269.3 304.0 272.4 295.2 275.8 288.2 276.9 270.6 277.8M279.4 272.5 268.8 272.6 263.5 271.5 259.4 268.9 255.0 263.7 252.0 256.6 249.0 240.8 242.3 224.9 237.7 209.1 326.9 209.1 326.9 224.7 313.7 244.3 309.2 258.4 306.4 263.7 302.0 267.2 295.2 270.1 288.2 271.8 279.4 272.5M282.9 267.3 274.1 267.7 267.1 266.4 261.8 263.1 258.3 258.4 256.4 253.1 254.1 239.0 250.5 224.9 249.9 209.1 322.5 209.1 308.5 237.3 303.7 253.1 301.2 258.4 297.8 261.9 293.5 264.5 282.9 267.3M281.1 262.1 275.9 262.3 270.6 261.2 267.1 259.4 263.5 255.6 261.6 251.3 260.2 244.3 259.8 235.5 260.4 228.5 262.7 223.2 267.1 219.3 270.6 218.3 277.6 218.1 284.7 216.8 289.9 216.6 293.4 217.9 295.2 219.4 298.0 224.9 298.8 239.0 298.2 246.1 296.7 251.3 293.2 256.6 288.1 260.1 281.1 262.1M282.9 255.1 277.6 256.1 274.1 255.5 270.1 253.1 267.6 249.6 266.4 244.3 266.7 239.0 268.8 234.2 272.3 231.3 277.6 230.2 282.9 231.3 286.4 233.7 288.9 237.3 290.3 242.5 289.8 247.8 286.4 253.0 282.9 255.1" fill="none" stroke="#2a2a2a" stroke-width="0.4" stroke-opacity="0.55"/>
</g>
<path d="M265.7 224.5h1M290.3 224.5h1M250.7 232.0h1M260.0 232.0h1M269.2 232.0h1M278.0 232.0h1M286.8 232.0h1M296.0 232.0h1M305.3 232.0h1M246.3 239.5h1M254.2 239.5h1M262.2 239.5h1M270.1 239.5h1M278.0 239.5h1M285.9 239.5h1M293.8 239.5h1M301.8 239.5h1M309.7 239.5h1M242.8 246.9h1M251.6 246.9h1M260.4 246.9h1M269.2 246.9h1M278.0 246.9h1M286.8 246.9h1M295.6 246.9h1M304.4 246.9h1M313.2 246.9h1M245.0 257.5h1M256.0 257.5h1M267.0 257.5h1M278.0 257.5h1M289.0 257.5h1M300.0 257.5h1M311.0 257.5h1M245.0 268.1h1M256.0 268.1h1M267.0 268.1h1M278.0 268.1h1M289.0 268.1h1M300.0 268.1h1M311.0 268.1h1M251.6 277.3h1M260.4 277.3h1M269.2 277.3h1M278.0 277.3h1M286.8 277.3h1M295.6 277.3h1M304.4 277.3h1M249.0 284.8h1M258.6 284.8h1M268.3 284.8h1M278.0 284.8h1M287.7 284.8h1M297.4 284.8h1M307.0 284.8h1M264.8 291.4h1M278.0 291.4h1M291.2 291.4h1" stroke="#111" stroke-width="0.9" stroke-opacity="0.8"/>
<circle cx="278.5" cy="257.5" r="44.0" fill="none" stroke="#111" stroke-width="1.1"/>
<path d="M270.5 214.1L275.8 208.3M281.2 208.3L286.5 214.1" stroke="#111" stroke-width="0.9" fill="none"/>
<path d="M322.1 246.7C324.3 245.3 326.5 245.7 326.8 248.3L326.9 263.5C327.2 268.0 325.7 269.8 322.8 269.1M234.9 246.7C232.7 245.3 230.5 245.7 230.2 248.3L230.1 263.5C229.8 268.0 231.3 269.8 234.2 269.1" stroke="#222" stroke-width="0.9" fill="none"/>
<rect x="331.5" y="209.2" width="5.9" height="97.7" fill="url(#jetg)" stroke="#777" stroke-width="0.4"/>
<g font-family="Liberation Sans" font-size="3.4" fill="#666"><text x="339.2" y="218.0">5</text><text x="339.2" y="226.2">4</text><text x="339.2" y="234.3">3</text><text x="339.2" y="242.5">2</text><text x="339.2" y="250.7">1</text><text x="339.2" y="258.8">0</text><text x="339.2" y="267.0">-1</text><text x="339.2" y="275.1">-2</text><text x="339.2" y="283.3">-3</text><text x="339.2" y="291.4">-4</text><text x="339.2" y="299.6">-5</text></g>
<clipPath id="c4"><circle cx="399.4" cy="256.0" r="46.0"/></clipPath>
<g clip-path="url(#c4)">
<circle cx="399.4" cy="256.0" r="46.0" fill="#006bff"/>
<g filter="url(#bl)">
<path d="M447.8 304.5 351.0 304.4 351.0 207.6 447.8 207.6 447.8 304.5ZM396.9 269.2 403.8 262.4 405.8 258.6 406.0 255.1 405.5 253.4 403.8 251.1 400.3 249.2 398.5 249.2 397.0 249.8 395.7 251.6 391.6 262.2 390.8 265.7 391.5 269.2 393.2 270.4 395.0 270.3 396.9 269.2Z" fill="#0080ff" fill-rule="evenodd"/>
<path d="M447.8 304.5 351.0 304.4 351.0 207.6 447.8 207.6 447.8 304.5ZM396.4 274.5 407.0 263.9 409.1 261.2 410.9 256.9 410.9 251.6 408.1 246.3 402.0 241.6 393.2 237.3 389.7 236.4 386.2 236.7 384.4 237.8 382.8 241.0 383.5 244.6 386.9 249.8 388.2 253.4 387.8 256.9 384.9 263.9 384.9 269.2 386.7 272.7 389.7 275.1 393.2 275.8 396.4 274.5Z" fill="#0094ff" fill-rule="evenodd"/>
<path d="M447.8 304.5 351.0 304.4 351.0 207.6 447.8 207.6 447.8 304.5ZM395.5 278.0 397.9 276.2 402.4 271.0 410.1 263.9 412.6 260.5 414.1 256.9 414.9 253.4 414.4 248.1 412.6 244.6 409.4 241.0 403.8 236.9 396.8 232.8 391.5 230.4 386.2 228.9 382.7 228.6 379.2 229.2 376.9 230.5 374.1 234.0 372.7 237.5 372.2 241.0 373.2 246.3 377.9 255.1 378.2 263.9 378.9 267.4 381.4 272.7 386.2 277.3 388.0 278.3 391.5 279.0 395.5 278.0Z" fill="#00a8ff" fill-rule="evenodd"/>
<path d="M447.8 304.5 351.0 304.4 351.0 235.2 359.4 251.6 368.6 262.7 374.5 271.0 381.4 278.0 384.4 280.0 388.0 281.3 393.2 281.2 396.8 279.5 398.5 278.0 403.8 271.5 411.0 265.7 414.0 262.2 416.1 258.6 418.1 253.4 418.5 249.8 417.4 244.6 414.4 240.0 409.3 235.8 398.5 228.6 373.9 214.8 356.3 210.4 352.8 209.0 351.0 208.1 351.0 207.6 447.8 207.6 447.8 304.5Z" fill="#00bdff" fill-rule="evenodd"/>
<path d="M447.8 304.5 351.0 304.4 351.0 260.2 363.3 268.5 380.9 281.4 386.2 283.7 389.7 284.1 393.2 283.4 396.8 281.3 404.3 272.7 413.2 265.7 417.4 260.4 421.0 253.4 422.1 248.1 421.8 244.6 420.4 241.0 417.9 237.7 413.5 234.0 391.5 218.2 380.7 207.6 447.8 207.6 447.8 304.5Z" fill="#00d1ff" fill-rule="evenodd"/>
<path d="M447.8 304.5 351.0 304.4 351.0 270.4 363.3 275.8 382.7 285.5 388.0 286.6 391.5 286.2 396.8 283.2 405.6 272.9 415.1 265.7 420.9 258.6 424.7 251.6 425.7 248.1 426.0 244.6 425.3 241.0 423.2 237.0 419.6 233.4 410.2 227.0 399.3 218.2 394.1 212.9 390.1 207.6 447.8 207.6 447.8 304.5Z" fill="#00e6ff" fill-rule="evenodd"/>
<path d="M447.8 304.5 351.0 304.4 351.0 278.4 368.6 283.4 382.7 288.5 388.0 289.1 393.2 288.0 398.5 283.4 405.6 274.2 414.9 267.4 420.3 262.2 425.9 255.1 428.8 249.8 430.4 244.6 430.3 241.0 429.4 237.5 427.4 234.0 423.2 229.9 414.4 224.5 410.8 221.7 401.9 212.9 398.2 207.6 447.8 207.6 447.8 304.5Z" fill="#00faff" fill-rule="evenodd"/>
<path d="M447.8 304.4 351.0 304.4 351.0 285.5 368.6 288.3 382.7 291.6 388.0 291.7 393.2 290.5 396.8 287.9 405.6 275.4 409.1 272.4 414.4 269.2 420.6 263.9 427.4 256.9 432.6 249.8 434.4 246.3 435.5 241.0 435.0 235.8 433.6 232.2 431.1 228.7 428.4 226.1 417.9 219.2 414.5 216.4 407.5 207.6 447.8 207.6 447.8 304.4Z" fill="#0ffff0" fill-rule="evenodd"/>
<path d="M447.8 304.4 351.0 304.4 351.0 292.3 365.1 293.0 382.7 294.8 389.7 294.0 395.0 292.3 398.5 288.6 403.2 279.8 405.8 276.2 409.1 273.3 415.8 269.2 424.8 262.2 432.3 255.1 436.9 249.8 440.1 244.6 441.8 239.3 442.0 234.0 440.8 228.7 439.0 225.2 435.5 220.8 423.9 211.1 420.6 207.6 447.8 207.6 447.8 304.4Z" fill="#24ffdb" fill-rule="evenodd"/>
<path d="M447.8 214.6 443.3 207.6 447.8 207.6 447.8 214.6ZM447.8 304.4 351.0 304.4 351.0 299.1 380.9 298.4 386.2 297.7 395.0 295.1 398.6 292.1 403.1 281.5 407.3 275.7 422.5 265.7 434.3 256.9 442.2 249.8 447.8 242.5 447.8 304.4Z" fill="#38ffc7" fill-rule="evenodd"/>
<path d="M447.8 304.4 363.8 304.4 382.7 302.0 391.5 299.4 396.8 296.9 400.3 292.9 403.2 283.3 405.0 279.8 407.8 276.2 410.8 273.9 447.8 251.4 447.8 304.4Z" fill="#4dffb3" fill-rule="evenodd"/>
<path d="M447.8 304.4 387.3 304.4 395.0 300.8 400.3 296.2 402.0 292.7 403.4 285.0 404.8 281.5 409.1 276.0 412.6 273.6 426.7 266.2 440.8 259.7 447.8 257.2 447.8 304.4Z" fill="#61ff9e" fill-rule="evenodd"/>
<path d="M447.8 304.4 393.9 304.4 398.5 300.8 402.0 296.2 403.5 292.1 404.8 283.3 406.5 279.8 409.7 276.2 417.9 271.5 428.4 267.1 439.0 263.6 447.8 262.2 447.8 304.4Z" fill="#75ff8a" fill-rule="evenodd"/>
<path d="M447.8 304.4 397.6 304.4 402.0 299.1 403.7 295.6 404.6 292.1 404.7 286.8 405.5 283.3 407.3 279.8 409.1 277.6 414.4 274.0 423.2 270.2 433.7 267.3 440.8 266.4 447.8 267.1 447.8 304.4Z" fill="#8aff75" fill-rule="evenodd"/>
<path d="M447.8 304.4 400.2 304.4 404.2 297.4 405.6 292.2 405.5 286.8 406.2 283.3 409.5 278.0 414.4 274.7 421.4 271.7 428.4 270.0 437.2 269.2 442.5 270.2 447.8 272.7 447.8 304.4Z" fill="#9eff61" fill-rule="evenodd"/>
<path d="M447.8 304.4 402.1 304.4 405.7 295.6 406.4 292.1 406.3 285.0 407.6 281.5 410.4 278.0 412.6 276.3 421.4 272.6 426.7 271.6 432.0 271.4 437.2 271.9 439.6 272.7 447.8 279.4 447.8 304.4Z" fill="#b3ff4c" fill-rule="evenodd"/>
<path d="M447.8 304.4 403.8 304.4 406.6 295.6 407.1 292.1 407.0 285.0 408.3 281.5 412.6 277.0 416.1 275.1 421.4 273.4 428.4 272.7 432.0 273.2 436.1 274.5 438.4 276.2 442.6 281.5 447.8 285.0 447.8 304.4Z" fill="#c7ff38" fill-rule="evenodd"/>
<path d="M447.8 304.4 405.2 304.4 407.3 296.0 407.6 285.0 408.9 281.5 410.8 279.1 414.4 276.6 421.4 274.2 428.4 274.0 433.7 275.9 436.0 278.0 440.8 284.5 447.8 289.0 447.8 304.4Z" fill="#dbff24" fill-rule="evenodd"/>
<path d="M447.8 304.4 406.5 304.4 408.2 293.8 408.1 285.0 409.5 281.5 413.0 278.0 419.6 275.3 424.9 274.8 430.8 276.2 433.7 278.5 437.2 284.3 439.0 286.2 447.8 292.4 447.8 304.4Z" fill="#f0ff0f" fill-rule="evenodd"/>
<path d="M447.8 304.4 407.8 304.4 408.8 293.8 408.5 286.8 409.2 283.3 410.2 281.5 414.4 277.8 419.6 275.9 424.9 275.7 430.2 277.5 432.7 279.8 435.5 285.0 437.2 287.1 447.8 295.7 447.8 304.4Z" fill="#fffa00" fill-rule="evenodd"/>
<path d="M447.8 304.4 409.0 304.4 409.4 293.8 409.0 286.8 409.8 283.3 410.8 281.5 414.4 278.4 419.6 276.6 424.9 276.6 428.7 278.0 432.0 281.1 435.2 286.8 437.2 289.2 447.8 299.1 447.8 304.4Z" fill="#ffe500" fill-rule="evenodd"/>
<path d="M447.8 304.4 410.1 304.4 409.5 286.8 410.8 282.4 414.4 279.0 419.6 277.2 424.9 277.5 428.4 279.2 430.8 281.5 433.8 286.8 437.2 291.4 447.8 303.0 447.8 304.4Z" fill="#ffd100" fill-rule="evenodd"/>
<path d="M444.3 304.4 411.3 304.4 410.0 288.6 410.9 283.3 414.2 279.8 417.9 278.2 423.2 278.0 426.7 279.2 430.2 282.4 435.5 291.2 445.2 304.4 444.3 304.4Z" fill="#ffbd00" fill-rule="evenodd"/>
<path d="M440.8 304.4 412.5 304.4 410.5 286.8 411.5 283.3 412.6 281.7 416.1 279.4 419.6 278.5 423.2 278.8 426.7 280.3 428.4 281.8 430.7 285.0 441.8 304.4 440.8 304.4Z" fill="#ffa800" fill-rule="evenodd"/>
<path d="M437.2 304.4 413.8 304.4 411.0 288.6 411.3 285.0 412.6 282.6 416.1 280.0 419.6 279.2 423.2 279.5 426.8 281.5 429.7 285.0 435.8 297.4 438.8 304.4 437.2 304.4Z" fill="#ff9400" fill-rule="evenodd"/>
<path d="M435.5 304.4 415.2 304.4 412.6 295.9 411.4 288.6 411.8 285.0 414.4 281.5 417.9 280.0 421.4 279.9 424.9 281.2 427.4 283.3 429.7 286.8 432.8 293.8 435.6 302.6 436.0 304.4 435.5 304.4Z" fill="#ff8000" fill-rule="evenodd"/>
<path d="M432.0 304.4 416.7 304.4 414.4 299.3 412.1 290.3 412.3 285.0 414.4 282.2 417.9 280.6 421.4 280.6 423.9 281.5 426.7 283.8 429.5 288.6 432.0 295.6 433.2 304.4 432.0 304.4Z" fill="#ff6b00" fill-rule="evenodd"/>
<path d="M430.2 304.4 418.8 304.4 417.9 303.4 414.4 296.9 412.6 290.4 412.6 286.1 414.4 283.0 417.9 281.3 421.4 281.3 424.9 283.2 426.7 285.0 429.2 290.3 430.6 295.6 430.9 300.9 430.2 304.4Z" fill="#ff5700" fill-rule="evenodd"/>
<path d="M424.9 304.4 422.8 304.4 419.6 302.8 416.1 298.6 414.4 294.9 413.1 290.3 413.0 286.8 414.4 283.7 416.1 282.5 419.6 281.8 423.2 282.9 425.6 285.0 427.6 288.6 429.0 293.8 429.0 299.1 427.6 302.6 426.7 303.7 424.9 304.4Z" fill="#ff4200" fill-rule="evenodd"/>
<path d="M424.9 301.2 423.2 301.7 419.6 300.5 417.9 299.0 415.5 295.6 413.7 290.3 413.5 286.8 414.4 284.6 416.1 283.1 417.9 282.6 421.4 282.9 424.5 285.0 425.8 286.8 427.2 290.3 427.7 295.6 426.8 299.1 424.9 301.2Z" fill="#ff2e00" fill-rule="evenodd"/>
<path d="M421.4 299.2 417.9 297.3 416.1 295.1 414.2 290.3 414.4 286.0 416.1 283.9 417.9 283.3 419.8 283.3 423.2 284.9 424.8 286.8 426.2 290.3 426.4 293.8 425.3 297.4 423.2 299.1 421.4 299.2Z" fill="#ff1a00" fill-rule="evenodd"/>
<path d="M423.2 296.6 421.4 297.2 419.6 296.9 417.9 295.7 416.1 293.6 414.6 288.6 414.8 286.8 416.1 284.7 419.6 284.1 422.0 285.0 423.7 286.8 424.7 288.6 425.2 292.1 424.9 293.9 423.2 296.6Z" fill="#ff0500" fill-rule="evenodd"/>
<path d="M423.2 293.9 421.4 295.3 419.6 295.2 417.9 294.3 416.2 292.1 415.6 290.3 415.4 288.6 416.1 285.9 417.9 284.9 419.6 285.0 422.5 286.8 424.0 290.3 423.2 293.9Z" fill="#f00000" fill-rule="evenodd"/>
<path d="M421.4 293.2 419.6 293.7 417.9 292.8 416.4 290.3 416.1 288.4 416.8 286.8 417.9 286.1 419.6 286.1 421.0 286.8 422.3 288.6 422.7 290.3 421.4 293.2Z" fill="#db0000" fill-rule="evenodd"/>
<path d="M419.6 291.9 417.5 290.3 417.9 287.7 419.6 287.6 420.7 288.6 421.1 290.3 419.6 291.9Z" fill="#c70000" fill-rule="evenodd"/>
</g>
<path d="M447.8 304.5 351.0 304.4 351.0 250.4 379.3 278.0 384.4 281.3 389.7 282.6 393.2 282.0 396.8 280.2 403.8 272.2 411.9 265.7 417.1 258.6 419.6 251.6 419.9 248.1 419.2 244.6 417.3 241.0 414.4 237.8 371.2 207.6 447.8 207.6 447.8 304.5M447.8 304.4 351.0 304.4 351.0 287.5 366.8 289.4 382.7 292.5 388.0 292.4 393.2 291.3 396.8 288.8 405.6 275.7 409.1 272.7 414.8 269.2 423.1 262.2 429.8 255.1 433.8 249.8 436.3 244.6 437.3 239.3 436.6 234.0 435.1 230.5 430.2 224.7 416.3 214.6 410.7 207.6 447.8 207.6 447.8 304.4M447.8 304.4 388.9 304.4 396.8 300.1 400.3 296.7 402.5 292.1 404.2 283.3 405.9 279.8 409.1 276.1 426.7 266.5 439.0 261.1 447.8 258.2 447.8 304.4M447.8 304.4 402.3 304.4 405.8 295.6 406.4 285.0 407.7 281.5 412.6 276.4 421.4 272.7 430.2 271.5 439.0 272.7 447.8 280.0 447.8 304.4M447.8 304.4 407.7 304.4 408.8 293.8 408.5 286.8 410.2 281.5 414.4 277.8 419.6 275.9 424.9 275.7 430.2 277.5 432.7 279.8 437.2 287.1 447.8 295.6 447.8 304.4M440.8 304.4 412.3 304.4 410.4 286.8 411.4 283.3 412.6 281.7 416.1 279.3 419.6 278.4 423.2 278.7 426.7 280.2 429.8 283.3 442.1 304.4 440.8 304.4M430.2 304.4 417.9 304.0 414.4 297.4 412.5 290.3 412.6 285.7 414.4 282.8 417.9 281.1 421.4 281.2 424.9 282.9 426.9 285.0 429.5 290.3 430.9 295.6 431.2 302.6 430.9 304.4 430.2 304.4M423.2 297.4 419.6 297.4 416.1 294.1 414.4 288.6 414.5 286.8 416.1 284.5 419.6 283.8 422.4 285.0 424.1 286.8 425.6 292.1 424.9 295.4 423.2 297.4" fill="none" stroke="#2a2a2a" stroke-width="0.4" stroke-opacity="0.55"/>
</g>
<path d="M386.6 223.0h1M411.2 223.0h1M371.6 230.5h1M380.9 230.5h1M390.1 230.5h1M398.9 230.5h1M407.7 230.5h1M416.9 230.5h1M426.2 230.5h1M367.2 238.0h1M375.1 238.0h1M383.1 238.0h1M391.0 238.0h1M398.9 238.0h1M406.8 238.0h1M414.7 238.0h1M422.7 238.0h1M430.6 238.0h1M363.7 245.4h1M372.5 245.4h1M381.3 245.4h1M390.1 245.4h1M398.9 245.4h1M407.7 245.4h1M416.5 245.4h1M425.3 245.4h1M434.1 245.4h1M365.9 256.0h1M376.9 256.0h1M387.9 256.0h1M398.9 256.0h1M409.9 256.0h1M420.9 256.0h1M431.9 256.0h1M365.9 266.6h1M376.9 266.6h1M387.9 266.6h1M398.9 266.6h1M409.9 266.6h1M420.9 266.6h1M431.9 266.6h1M372.5 275.8h1M381.3 275.8h1M390.1 275.8h1M398.9 275.8h1M407.7 275.8h1M416.5 275.8h1M425.3 275.8h1M369.9 283.3h1M379.5 283.3h1M389.2 283.3h1M398.9 283.3h1M408.6 283.3h1M418.3 283.3h1M427.9 283.3h1M385.7 289.9h1M398.9 289.9h1M412.1 289.9h1" stroke="#111" stroke-width="0.9" stroke-opacity="0.8"/>
<circle cx="399.4" cy="256.0" r="44.0" fill="none" stroke="#111" stroke-width="1.1"/>
<path d="M391.4 212.6L396.7 206.8M402.1 206.8L407.4 212.6" stroke="#111" stroke-width="0.9" fill="none"/>
<path d="M443.0 245.2C445.2 243.8 447.4 244.2 447.7 246.8L447.8 262.0C448.1 266.5 446.6 268.3 443.7 267.6M355.8 245.2C353.6 243.8 351.4 244.2 351.1 246.8L351.0 262.0C350.7 266.5 352.2 268.3 355.1 267.6" stroke="#222" stroke-width="0.9" fill="none"/>
<rect x="451.2" y="207.4" width="5.9" height="97.1" fill="url(#jetg)" stroke="#777" stroke-width="0.4"/>
<g font-family="Liberation Sans" font-size="3.4" fill="#666"><text x="458.9" y="216.2">5</text><text x="458.9" y="224.3">4</text><text x="458.9" y="232.4">3</text><text x="458.9" y="240.5">2</text><text x="458.9" y="248.6">1</text><text x="458.9" y="256.7">0</text><text x="458.9" y="264.8">-1</text><text x="458.9" y="272.9">-2</text><text x="458.9" y="281.0">-3</text><text x="458.9" y="289.1">-4</text><text x="458.9" y="297.3">-5</text></g>
<clipPath id="c5"><circle cx="512.0" cy="255.7" r="46.0"/></clipPath>
<g clip-path="url(#c5)">
<circle cx="512.0" cy="255.7" r="46.0" fill="#0000b8"/>
<g filter="url(#bl)">
<path d="M560.4 304.2 463.5 304.1 463.6 207.3 560.4 207.3 560.4 304.2ZM539.6 263.6 539.5 261.9 538.5 260.1 535.8 257.4 532.2 256.0 529.6 256.6 528.9 258.3 529.6 260.1 533.1 263.6 537.5 265.3 539.6 263.6Z" fill="#0000c7" fill-rule="evenodd"/>
<path d="M560.4 304.2 463.5 304.1 463.6 207.3 560.4 207.3 560.4 304.2ZM541.8 268.9 543.5 267.1 544.3 265.4 544.4 261.9 542.0 256.6 537.5 251.4 534.0 248.8 528.7 246.9 523.4 247.1 519.5 249.5 518.2 251.4 517.6 254.8 518.9 258.3 522.2 261.9 527.4 265.4 534.0 268.4 539.3 269.5 541.8 268.9Z" fill="#0000db" fill-rule="evenodd"/>
<path d="M560.4 304.2 463.5 304.1 463.6 207.3 560.4 207.3 560.4 304.2ZM543.3 270.7 545.4 268.9 547.2 265.4 547.4 261.9 546.5 258.3 543.6 253.1 539.3 247.3 535.8 244.0 532.2 242.1 525.2 241.0 519.9 241.8 516.4 243.2 510.1 247.8 505.0 254.8 505.0 256.6 505.8 257.1 516.9 263.6 528.4 268.9 537.5 271.5 541.0 271.5 543.3 270.7Z" fill="#0000f0" fill-rule="evenodd"/>
<path d="M560.4 304.2 463.5 304.1 463.6 207.3 560.4 207.3 560.4 304.2ZM543.5 272.4 546.4 270.7 549.1 267.1 550.0 263.6 549.4 258.3 546.3 251.8 541.0 243.2 537.5 239.3 533.3 237.2 528.7 236.3 523.4 236.2 518.2 236.9 512.9 238.4 507.6 241.2 498.8 247.9 491.8 252.3 490.0 253.9 488.3 256.6 487.9 260.1 488.5 261.9 489.7 263.6 491.8 264.8 495.3 265.3 504.1 264.9 509.4 265.3 514.6 266.5 534.0 272.7 539.3 273.2 543.5 272.4Z" fill="#0005ff" fill-rule="evenodd"/>
<path d="M560.4 304.2 463.5 304.1 463.6 207.3 560.4 207.3 560.4 304.2ZM542.8 274.2 546.8 272.4 550.4 268.9 552.1 265.4 552.5 260.1 550.9 254.8 542.8 237.2 541.0 234.8 537.5 233.0 530.5 231.8 521.7 231.4 514.6 232.0 509.4 233.5 502.8 237.2 490.0 246.9 486.5 250.2 483.9 254.8 483.5 258.3 484.3 261.9 486.5 265.4 490.0 267.8 493.5 268.3 509.4 268.4 518.2 270.0 534.0 274.2 539.3 274.7 542.8 274.2Z" fill="#001aff" fill-rule="evenodd"/>
<path d="M560.4 304.2 463.5 304.1 463.6 207.3 560.4 207.3 560.4 304.2ZM539.7 275.9 544.6 275.0 549.8 272.1 553.8 267.1 555.1 261.9 554.8 258.3 553.8 254.8 549.0 244.3 547.9 240.7 547.6 237.2 548.1 231.8 547.2 230.2 544.6 228.5 516.4 225.7 512.9 225.8 509.4 226.7 502.3 230.5 491.8 238.5 484.7 245.7 481.2 251.4 480.1 256.6 481.3 261.9 484.7 266.9 488.2 269.5 493.5 270.4 504.1 270.3 512.9 271.1 532.2 275.3 539.7 275.9Z" fill="#002eff" fill-rule="evenodd"/>
<path d="M560.4 304.2 463.5 304.1 463.6 207.3 560.4 207.3 560.4 304.2ZM546.0 275.9 551.6 272.7 555.1 268.9 556.8 265.4 557.7 260.1 556.3 253.1 551.1 240.7 551.2 237.2 552.6 231.9 552.5 228.4 550.7 224.9 548.1 223.0 544.6 222.2 532.2 222.7 514.6 218.2 511.1 218.2 509.4 218.8 504.1 222.0 487.3 235.5 483.0 241.2 477.9 251.3 477.2 256.6 478.8 261.9 482.4 267.1 484.7 269.3 488.2 271.2 493.5 272.1 504.1 272.2 514.6 273.1 535.8 277.1 541.0 277.0 546.0 275.9Z" fill="#0042ff" fill-rule="evenodd"/>
<path d="M560.4 304.2 463.5 304.1 463.6 207.3 560.4 207.3 560.4 256.7 559.1 251.3 554.7 240.7 554.6 239.0 556.8 231.9 557.6 226.7 556.6 221.4 554.5 217.9 551.6 215.7 548.1 214.8 544.6 215.0 535.8 217.2 532.2 217.1 519.9 211.3 514.6 210.1 511.1 210.3 505.8 212.5 483.5 231.9 481.2 235.5 475.9 248.5 474.5 254.8 475.6 260.1 478.7 265.4 483.0 269.8 487.6 272.4 493.5 273.5 505.8 273.9 516.4 274.9 535.8 278.3 544.6 277.6 549.4 275.9 552.3 274.2 557.5 268.9 559.3 265.4 560.4 260.8 560.4 304.2Z" fill="#0057ff" fill-rule="evenodd"/>
<path d="M560.4 304.2 463.5 304.1 463.6 207.3 499.6 207.3 491.7 217.9 481.2 226.8 477.6 231.9 475.3 242.5 472.4 251.2 472.1 254.8 472.8 258.3 474.3 261.9 476.5 265.4 479.7 268.9 484.7 272.5 490.0 274.3 514.6 276.1 530.5 278.9 537.5 279.5 544.6 278.8 551.6 276.3 557.0 272.4 560.4 268.2 560.4 304.2ZM560.4 242.6 560.4 237.2 560.4 242.6Z" fill="#006bff" fill-rule="evenodd"/>
<path d="M560.4 304.2 463.5 304.1 463.6 207.3 489.4 207.3 485.7 214.3 476.1 224.9 474.4 228.4 473.4 231.9 472.7 240.7 470.3 249.5 469.9 254.8 470.6 258.3 472.2 261.9 477.7 268.9 483.0 272.9 490.0 275.5 514.6 277.4 535.8 280.6 542.8 280.3 549.8 278.6 555.2 275.9 560.4 271.6 560.4 304.2Z" fill="#0080ff" fill-rule="evenodd"/>
<path d="M560.4 304.2 463.5 304.1 463.6 207.3 478.5 207.3 472.4 220.5 470.3 226.7 469.6 231.9 469.4 240.7 467.6 251.3 468.1 256.6 469.3 260.1 472.5 265.4 475.6 268.9 482.9 274.2 490.0 276.7 514.6 278.6 534.0 281.6 541.0 281.5 548.1 280.4 555.1 277.7 560.4 274.2 560.4 304.2Z" fill="#0094ff" fill-rule="evenodd"/>
<path d="M560.4 304.1 463.6 304.1 463.6 207.3 468.8 207.3 465.8 226.7 465.9 240.7 465.1 249.5 465.5 254.8 468.1 261.9 473.6 268.9 481.2 274.5 490.0 277.8 514.6 279.8 532.2 282.5 541.0 282.6 548.1 281.6 554.8 279.5 560.4 276.3 560.4 304.1Z" fill="#00a8ff" fill-rule="evenodd"/>
<path d="M560.4 304.1 463.6 304.1 463.6 255.9 467.2 263.6 473.6 270.7 481.6 275.9 490.0 278.9 497.0 279.8 512.9 280.7 528.7 283.3 537.5 283.8 549.8 282.4 555.1 280.8 560.4 278.3 560.4 304.1Z" fill="#00bdff" fill-rule="evenodd"/>
<path d="M560.4 304.1 463.6 304.1 463.6 261.0 467.9 267.1 473.7 272.4 481.2 276.9 490.0 279.9 497.0 280.9 512.9 281.8 528.7 284.4 535.8 284.8 549.8 283.6 555.1 282.3 560.4 280.1 560.4 304.1Z" fill="#00d1ff" fill-rule="evenodd"/>
<path d="M560.4 304.1 463.6 304.1 463.6 264.3 469.5 270.7 475.9 275.3 484.7 279.4 491.8 281.3 511.1 282.7 527.0 285.2 535.8 285.8 549.8 284.8 560.4 281.8 560.4 304.1Z" fill="#00e6ff" fill-rule="evenodd"/>
<path d="M560.4 304.1 463.6 304.1 463.6 266.9 469.5 272.4 475.9 276.6 484.7 280.5 491.8 282.4 498.8 283.2 511.1 283.7 527.0 286.4 534.0 286.9 549.8 286.0 560.4 283.4 560.4 304.1Z" fill="#00faff" fill-rule="evenodd"/>
<path d="M560.4 304.1 463.6 304.1 463.6 269.1 469.8 274.2 475.9 277.8 484.7 281.5 493.5 283.7 511.1 284.7 525.2 287.2 534.0 287.9 549.8 287.2 560.4 285.0 560.4 304.1Z" fill="#0ffff0" fill-rule="evenodd"/>
<path d="M560.4 304.1 463.6 304.1 463.6 271.1 470.3 275.9 477.0 279.5 486.5 283.1 493.5 284.8 511.1 285.8 525.2 288.4 532.2 289.0 549.8 288.4 560.4 286.5 560.4 304.1Z" fill="#24ffdb" fill-rule="evenodd"/>
<path d="M560.4 304.1 463.6 304.1 463.6 272.9 468.9 276.5 475.9 280.1 486.5 284.1 493.5 285.8 511.1 286.9 523.4 289.3 532.2 290.1 549.8 289.6 560.4 288.0 560.4 304.1Z" fill="#38ffc7" fill-rule="evenodd"/>
<path d="M560.4 304.1 463.6 304.1 463.6 274.6 470.6 278.8 477.7 282.0 488.2 285.7 495.3 287.2 511.1 288.0 523.4 290.5 530.5 291.1 549.8 290.8 560.4 289.5 560.4 304.1Z" fill="#4dffb3" fill-rule="evenodd"/>
<path d="M560.4 304.1 463.6 304.1 463.6 276.3 469.2 279.5 477.5 283.0 488.2 286.7 495.3 288.3 511.1 289.2 521.7 291.4 530.5 292.3 551.6 292.0 560.4 291.0 560.4 304.1Z" fill="#61ff9e" fill-rule="evenodd"/>
<path d="M560.4 304.1 463.6 304.1 463.6 277.8 475.9 283.5 488.2 287.8 495.3 289.4 511.1 290.6 521.7 292.6 528.7 293.4 551.6 293.3 560.4 292.5 560.4 304.1Z" fill="#75ff8a" fill-rule="evenodd"/>
<path d="M560.4 304.1 463.6 304.1 463.6 279.3 471.5 283.0 484.7 287.8 497.0 290.8 509.4 291.8 528.7 294.6 551.6 294.6 560.4 293.9 560.4 304.1Z" fill="#8aff75" fill-rule="evenodd"/>
<path d="M560.4 304.1 463.6 304.1 463.6 280.8 470.6 283.9 486.5 289.5 497.0 292.0 528.7 295.8 551.6 295.9 560.4 295.4 560.4 304.1Z" fill="#9eff61" fill-rule="evenodd"/>
<path d="M560.4 304.1 463.6 304.1 463.6 282.3 486.5 290.6 497.0 293.2 527.0 297.0 560.4 296.9 560.4 304.1Z" fill="#b3ff4c" fill-rule="evenodd"/>
<path d="M560.4 304.1 463.6 304.1 463.6 283.7 488.2 292.3 498.8 294.7 527.0 298.3 560.4 298.4 560.4 304.1Z" fill="#c7ff38" fill-rule="evenodd"/>
<path d="M558.6 304.1 463.6 304.1 463.6 286.5 467.1 286.5 468.9 288.3 472.4 288.3 474.2 290.0 477.7 290.0 479.4 291.8 483.0 291.8 484.7 293.5 488.2 293.5 490.0 295.3 495.3 295.3 497.0 297.1 504.1 297.1 505.8 298.8 518.2 298.8 519.9 300.6 560.4 300.6 560.4 304.1 558.6 304.1Z" fill="#dbff24" fill-rule="evenodd"/>
</g>
<path d="M560.4 304.2 463.5 304.1 463.6 207.3 560.4 207.3 560.4 304.2M542.0 272.4 545.5 270.7 548.3 267.1 549.3 263.6 548.5 258.3 544.6 250.5 539.3 243.0 535.8 240.0 532.2 238.5 523.4 237.7 518.2 238.5 512.9 240.3 493.5 253.5 491.8 254.9 489.8 258.3 490.6 261.9 493.5 263.7 509.4 263.9 534.0 272.1 539.3 272.8 542.0 272.4M560.4 304.2 463.5 304.1 463.6 207.3 560.4 207.3 560.4 304.2M544.3 275.9 548.5 274.2 552.8 270.7 555.2 267.1 556.6 261.9 555.7 254.8 549.9 240.7 551.0 230.2 549.8 227.5 546.3 225.0 530.5 224.4 514.6 221.2 509.4 222.0 500.6 227.5 488.2 237.4 483.0 244.1 479.1 251.3 478.3 256.6 479.7 261.9 483.3 267.1 488.2 270.6 514.6 272.5 535.8 276.6 544.3 275.9M560.4 304.2 463.5 304.1 463.6 207.3 494.2 207.3 488.2 217.0 477.8 226.7 475.3 231.9 473.7 242.5 471.1 251.3 471.0 254.8 473.2 261.9 478.7 268.9 483.3 272.4 490.0 275.0 514.6 276.8 530.5 279.5 537.5 280.1 544.6 279.5 550.4 277.7 556.4 274.2 560.4 270.1 560.4 304.2M560.4 304.1 463.6 304.1 463.6 207.3 465.1 207.3 463.9 226.7 464.3 253.1 467.2 261.9 472.8 268.9 479.7 274.2 488.2 277.8 495.3 279.0 514.6 280.3 531.9 283.0 539.3 283.1 548.1 282.1 555.1 280.0 560.4 277.2 560.4 304.1M560.4 304.1 463.6 304.1 463.6 265.2 468.8 270.7 476.3 275.9 483.8 279.5 491.8 281.7 512.9 283.2 534.0 286.2 549.8 285.2 560.4 282.4 560.4 304.1M560.4 304.1 463.6 304.1 463.6 271.6 469.7 275.9 476.3 279.5 486.5 283.4 493.5 285.0 511.1 286.1 525.2 288.7 532.2 289.3 549.8 288.7 560.4 286.9 560.4 304.1M560.4 304.1 463.6 304.1 463.6 276.5 477.0 283.0 488.2 286.9 495.3 288.5 511.1 289.5 521.7 291.6 530.5 292.5 551.6 292.2 560.4 291.2 560.4 304.1M560.4 304.1 463.6 304.1 463.6 280.9 486.5 289.6 497.0 292.1 528.7 295.9 560.4 295.6 560.4 304.1" fill="none" stroke="#2a2a2a" stroke-width="0.4" stroke-opacity="0.55"/>
</g>
<path d="M499.2 222.7h1M523.8 222.7h1M484.2 230.2h1M493.5 230.2h1M502.7 230.2h1M511.5 230.2h1M520.3 230.2h1M529.5 230.2h1M538.8 230.2h1M479.8 237.7h1M487.7 237.7h1M495.7 237.7h1M503.6 237.7h1M511.5 237.7h1M519.4 237.7h1M527.3 237.7h1M535.3 237.7h1M543.2 237.7h1M476.3 245.1h1M485.1 245.1h1M493.9 245.1h1M502.7 245.1h1M511.5 245.1h1M520.3 245.1h1M529.1 245.1h1M537.9 245.1h1M546.7 245.1h1M478.5 255.7h1M489.5 255.7h1M500.5 255.7h1M511.5 255.7h1M522.5 255.7h1M533.5 255.7h1M544.5 255.7h1M478.5 266.3h1M489.5 266.3h1M500.5 266.3h1M511.5 266.3h1M522.5 266.3h1M533.5 266.3h1M544.5 266.3h1M485.1 275.5h1M493.9 275.5h1M502.7 275.5h1M511.5 275.5h1M520.3 275.5h1M529.1 275.5h1M537.9 275.5h1M482.5 283.0h1M492.1 283.0h1M501.8 283.0h1M511.5 283.0h1M521.2 283.0h1M530.9 283.0h1M540.5 283.0h1M498.3 289.6h1M511.5 289.6h1M524.7 289.6h1" stroke="#111" stroke-width="0.9" stroke-opacity="0.8"/>
<circle cx="512.0" cy="255.7" r="44.0" fill="none" stroke="#111" stroke-width="1.1"/>
<path d="M504.0 212.3L509.3 206.5M514.7 206.5L520.0 212.3" stroke="#111" stroke-width="0.9" fill="none"/>
<path d="M555.6 244.9C557.8 243.5 560.0 243.9 560.3 246.5L560.4 261.7C560.7 266.2 559.2 268.0 556.3 267.3M468.4 244.9C466.2 243.5 464.0 243.9 463.7 246.5L463.6 261.7C463.3 266.2 464.8 268.0 467.7 267.3" stroke="#222" stroke-width="0.9" fill="none"/>
<rect x="564.1" y="207.4" width="5.9" height="97.1" fill="url(#jetg)" stroke="#777" stroke-width="0.4"/>
<g font-family="Liberation Sans" font-size="3.4" fill="#666"><text x="571.8" y="216.2">5</text><text x="571.8" y="224.3">4</text><text x="571.8" y="232.4">3</text><text x="571.8" y="240.5">2</text><text x="571.8" y="248.6">1</text><text x="571.8" y="256.7">0</text><text x="571.8" y="264.8">-1</text><text x="571.8" y="272.9">-2</text><text x="571.8" y="281.0">-3</text><text x="571.8" y="289.1">-4</text><text x="571.8" y="297.3">-5</text></g>
<clipPath id="c6"><circle cx="625.7" cy="255.7" r="46.0"/></clipPath>
<g clip-path="url(#c6)">
<circle cx="625.7" cy="255.7" r="46.0" fill="#bdff42"/>
<g filter="url(#bl)">
<path d="M674.1 304.1 577.3 304.1 577.3 267.1 579.1 265.4 579.1 263.6 580.8 261.9 580.8 260.1 582.6 258.3 582.6 256.6 584.3 254.8 584.3 251.3 586.1 249.5 586.1 246.0 587.9 244.3 587.9 240.7 589.6 239.0 589.6 224.9 591.4 223.1 591.4 219.6 593.1 217.9 593.1 216.1 594.9 214.3 594.9 212.6 596.7 210.8 596.7 209.1 598.4 207.3 674.1 207.3 674.1 304.1Z" fill="#c7ff38" fill-rule="evenodd"/>
<path d="M674.1 304.1 579.8 304.1 577.3 293.4 577.3 280.2 578.4 274.2 581.3 265.4 586.1 254.6 591.4 240.7 592.7 226.7 594.0 221.4 597.3 214.3 602.4 207.3 674.1 207.3 674.1 304.1Z" fill="#dbff24" fill-rule="evenodd"/>
<path d="M674.1 304.1 582.8 304.1 580.5 297.1 579.2 290.0 579.2 281.2 580.2 274.2 583.6 263.6 593.3 240.7 594.2 228.4 595.8 221.4 599.7 214.3 605.3 207.3 674.1 207.3 674.1 304.1Z" fill="#f0ff0f" fill-rule="evenodd"/>
<path d="M674.1 304.1 585.9 304.1 583.1 297.1 581.3 288.3 581.1 281.2 582.4 272.4 585.1 263.6 589.6 251.8 595.3 240.7 595.8 228.4 597.7 221.4 601.9 214.5 608.3 207.3 674.1 207.3 674.1 304.1Z" fill="#fffa00" fill-rule="evenodd"/>
<path d="M674.1 304.1 589.1 304.1 585.8 297.1 583.6 288.3 583.2 279.5 584.5 270.7 590.3 253.1 596.9 242.5 597.5 239.0 597.2 230.2 598.7 223.1 603.1 216.1 611.5 207.3 674.1 207.3 674.1 304.1Z" fill="#ffe500" fill-rule="evenodd"/>
<path d="M674.1 304.1 592.6 304.1 591.4 302.3 587.2 293.5 585.3 284.7 585.4 275.9 587.0 267.1 591.5 253.1 593.1 250.1 598.3 244.3 599.1 242.5 598.7 230.2 600.5 223.1 605.5 216.3 615.0 207.3 674.1 207.3 674.1 304.1Z" fill="#ffd100" fill-rule="evenodd"/>
<path d="M674.1 304.1 596.4 304.1 592.4 298.8 588.7 290.0 587.2 281.2 587.6 272.4 590.8 258.3 593.1 252.3 600.2 244.7 601.1 242.5 600.1 230.2 600.8 226.7 602.3 223.1 607.2 217.2 618.9 207.3 674.1 207.3 674.1 304.1Z" fill="#ffbd00" fill-rule="evenodd"/>
<path d="M674.1 304.1 600.7 304.1 596.7 300.1 593.5 295.3 591.2 290.0 589.5 283.0 589.1 277.7 589.6 270.7 591.2 261.9 593.1 254.7 595.3 251.3 601.2 246.0 602.4 244.3 602.7 240.7 601.4 231.9 602.3 226.7 604.1 223.1 607.2 219.6 616.0 212.1 623.4 207.3 674.1 207.3 674.1 304.1Z" fill="#ffa800" fill-rule="evenodd"/>
<path d="M670.6 304.1 606.2 304.1 601.9 301.4 599.3 298.8 594.6 291.8 592.7 286.5 591.3 279.5 591.2 274.2 592.0 265.4 593.3 258.3 594.9 253.9 597.0 251.3 601.9 247.3 603.9 244.3 604.1 240.7 602.8 231.9 603.8 226.7 607.2 221.8 614.3 215.9 621.3 211.3 628.3 207.6 664.8 207.3 669.8 210.8 674.1 215.4 674.1 302.0 671.7 304.1 670.6 304.1Z" fill="#ff9400" fill-rule="evenodd"/>
<path d="M656.5 304.1 617.8 303.8 612.5 303.2 609.0 302.2 603.7 299.2 599.8 295.3 596.6 290.0 594.0 281.2 593.3 270.7 594.6 258.3 596.7 253.7 603.4 247.8 605.4 244.3 605.5 240.7 604.1 231.9 605.5 226.6 609.0 222.3 617.8 215.9 628.3 210.5 637.1 207.7 650.2 207.3 654.7 208.4 660.2 210.8 665.0 214.3 668.8 218.8 671.9 224.9 673.3 230.2 673.8 239.0 672.0 254.8 674.1 270.3 673.8 286.5 670.8 293.5 667.1 298.3 661.6 302.3 657.7 304.1 656.5 304.1Z" fill="#ff8000" fill-rule="evenodd"/>
<path d="M651.2 300.8 645.9 301.8 640.7 302.0 626.6 300.6 616.0 300.9 609.0 299.2 603.7 295.7 600.5 291.8 598.0 286.5 596.0 277.7 595.3 267.1 596.2 258.3 598.4 253.8 603.7 249.5 606.4 246.0 606.9 240.7 605.4 231.9 607.2 226.7 610.7 222.9 619.5 217.2 630.1 212.7 637.1 210.9 642.4 210.4 647.7 210.9 653.0 212.4 656.8 214.3 661.2 217.9 664.1 221.4 666.8 226.7 668.2 231.9 668.7 240.7 666.7 254.8 668.7 272.4 668.7 277.7 668.1 283.0 665.4 290.0 661.8 294.8 656.5 298.7 651.2 300.8Z" fill="#ff6b00" fill-rule="evenodd"/>
<path d="M647.7 297.3 638.9 298.5 624.8 297.8 617.8 298.5 612.5 297.8 609.0 296.4 605.2 293.5 601.5 288.3 599.7 283.0 597.8 272.4 597.3 263.6 598.5 256.6 600.2 254.2 606.0 249.5 608.1 246.0 608.4 240.7 606.8 231.9 607.9 228.4 610.9 224.9 617.8 220.4 626.6 216.6 635.4 214.1 640.7 213.7 645.9 214.3 651.2 216.1 654.7 218.2 658.2 221.4 660.7 224.9 663.1 230.2 664.3 235.5 664.5 242.5 662.9 254.8 663.9 272.4 662.9 281.2 661.0 286.5 657.3 291.8 653.0 295.1 647.7 297.3Z" fill="#ff5700" fill-rule="evenodd"/>
<path d="M637.1 295.4 616.0 296.2 610.7 294.6 607.2 292.0 604.3 288.3 602.3 283.0 600.0 270.7 599.4 263.6 599.6 260.1 600.8 256.6 607.2 250.9 609.9 246.0 610.1 240.7 608.3 231.9 609.8 228.4 614.3 224.6 623.1 220.3 631.9 217.6 638.9 216.9 644.2 217.5 647.7 218.7 651.2 220.7 654.7 223.8 656.8 226.7 659.3 231.9 660.6 237.2 661.0 242.5 659.7 256.6 659.3 274.2 657.2 283.0 653.9 288.3 649.8 291.8 644.2 294.2 637.1 295.4Z" fill="#ff4200" fill-rule="evenodd"/>
<path d="M626.6 293.6 619.5 294.3 614.3 293.5 610.7 291.8 607.2 288.3 604.9 283.0 602.7 270.7 601.9 263.6 602.4 260.1 604.3 256.6 609.8 251.3 611.6 247.8 612.1 242.5 610.2 231.9 610.9 230.2 612.5 228.4 618.0 224.9 626.6 221.6 633.6 220.1 640.7 220.2 645.9 221.8 650.5 224.9 654.5 230.2 656.7 235.5 657.7 240.7 657.7 246.0 654.9 274.2 653.5 279.5 651.9 283.0 649.5 286.3 647.3 288.3 644.2 290.1 639.3 291.8 626.6 293.6Z" fill="#ff2e00" fill-rule="evenodd"/>
<path d="M624.8 291.9 619.5 292.3 615.8 291.8 612.2 290.0 609.0 286.5 607.5 283.0 606.8 279.5 605.4 267.1 605.7 261.9 607.2 258.9 612.2 253.1 613.8 249.5 614.3 242.5 612.8 233.7 613.1 231.9 614.3 230.2 620.0 226.7 628.3 223.8 635.4 222.9 640.7 223.5 645.9 225.8 649.5 229.0 652.5 233.7 654.2 239.0 654.8 244.3 654.6 249.5 651.2 270.7 648.3 279.5 644.2 285.0 637.1 288.9 624.8 291.9Z" fill="#ff1a00" fill-rule="evenodd"/>
<path d="M623.1 290.2 617.8 290.2 613.8 288.3 610.9 284.7 609.4 279.5 609.2 270.7 610.1 265.4 610.8 263.6 615.7 256.6 616.7 253.1 617.2 246.0 616.3 235.5 616.6 233.7 617.7 231.9 619.8 230.2 626.6 227.2 633.6 225.9 638.9 226.4 642.4 227.7 645.9 230.2 648.8 233.7 650.5 237.2 651.4 240.7 651.9 246.0 650.5 256.6 645.1 274.2 641.3 281.2 637.4 284.7 634.4 286.5 630.1 288.4 623.1 290.2Z" fill="#ff0500" fill-rule="evenodd"/>
<path d="M621.3 288.4 617.8 287.9 614.3 285.1 612.6 281.2 612.4 277.7 613.4 272.4 616.0 268.5 619.5 266.9 624.8 265.9 626.6 264.9 627.6 263.6 627.6 261.9 626.9 260.1 622.9 254.8 621.3 250.5 620.5 242.5 621.2 235.5 622.3 233.7 624.3 231.9 628.3 230.1 633.6 229.2 638.9 230.0 644.2 233.3 646.0 235.5 647.7 239.0 648.8 246.0 647.7 253.8 645.9 258.4 640.3 268.9 637.0 277.7 634.7 281.2 630.7 284.7 627.6 286.5 621.3 288.4Z" fill="#f00000" fill-rule="evenodd"/>
<path d="M637.1 258.5 633.6 257.8 630.1 255.3 626.6 251.3 624.8 246.9 624.5 242.5 625.9 237.2 628.3 234.6 631.9 233.1 637.1 233.3 640.7 235.0 644.1 239.0 645.3 242.5 645.4 247.8 643.7 253.1 640.7 256.9 637.1 258.5ZM623.1 285.3 619.5 285.7 617.8 284.7 616.6 283.0 616.1 279.5 617.4 275.9 619.2 274.2 621.3 273.3 624.8 273.2 628.3 274.8 629.4 277.7 628.2 281.2 626.7 283.0 623.1 285.3Z" fill="#db0000" fill-rule="evenodd"/>
<path d="M637.1 251.6 633.8 251.3 631.9 250.1 630.1 248.1 629.2 246.0 629.0 242.5 629.5 240.7 630.8 239.0 633.6 237.4 637.1 237.8 638.9 238.8 641.2 242.5 641.6 244.3 641.1 247.8 638.9 250.8 637.1 251.6Z" fill="#c70000" fill-rule="evenodd"/>
</g>
<path d="M674.1 304.1 583.1 304.1 580.7 297.1 579.5 290.0 579.3 281.2 580.4 274.2 583.7 263.6 593.5 240.7 594.3 228.4 596.0 221.4 599.9 214.3 605.5 207.3 674.1 207.3 674.1 304.1M674.1 304.1 589.7 304.1 586.1 296.6 584.0 288.3 583.5 279.5 584.9 270.7 590.5 253.1 597.3 242.5 597.5 230.2 599.1 223.1 603.7 216.0 612.2 207.3 674.1 207.3 674.1 304.1M674.1 304.1 597.5 304.1 592.3 297.1 588.9 288.3 587.6 279.5 588.4 270.7 591.6 256.6 594.2 251.3 601.1 244.3 601.6 240.7 600.5 230.2 602.8 223.1 605.5 219.6 610.7 214.6 620.0 207.3 674.1 207.3 674.1 304.1M665.3 304.1 608.9 304.1 603.7 301.4 600.2 298.3 596.7 293.6 594.2 288.3 592.0 277.7 593.1 261.9 594.9 254.8 597.8 251.3 602.2 247.8 604.5 244.3 604.7 240.7 603.3 231.9 604.4 226.7 607.2 222.7 616.0 215.6 623.1 211.3 631.9 207.3 660.3 207.3 668.4 212.6 674.1 220.2 674.1 297.2 669.2 302.3 666.7 304.1 665.3 304.1M649.5 299.1 640.7 300.3 624.8 299.2 616.0 299.7 609.0 297.9 605.1 295.3 600.9 290.0 598.7 284.7 596.7 274.2 596.3 263.6 597.5 256.6 600.1 253.1 605.5 248.8 607.6 244.3 607.6 240.7 606.1 231.9 608.0 226.7 612.5 222.5 619.5 218.3 630.1 213.9 637.1 212.3 642.4 212.0 647.7 212.7 652.6 214.3 656.5 216.7 662.5 223.1 665.0 228.4 666.3 233.7 666.5 242.5 664.8 254.8 666.4 272.4 665.4 283.0 663.4 288.3 659.4 293.5 654.7 297.0 649.5 299.1M637.1 293.6 617.8 295.1 612.5 293.9 609.0 291.8 606.0 288.3 604.3 284.7 601.5 270.7 600.8 263.6 601.9 257.6 608.5 251.3 610.6 247.8 611.3 242.5 609.3 231.9 610.7 228.9 616.0 224.9 623.1 221.7 630.1 219.5 637.1 218.6 642.4 219.1 645.9 220.1 649.5 222.0 652.8 224.9 655.4 228.4 657.7 233.7 659.1 242.5 657.1 272.4 655.0 281.2 652.0 286.5 648.1 290.0 644.2 291.9 637.1 293.6M626.6 290.2 621.3 291.1 617.8 290.9 614.3 289.6 611.0 286.5 609.3 283.0 608.5 279.5 608.2 265.4 609.3 261.9 614.3 254.8 615.6 251.3 616.2 244.3 615.1 235.5 615.8 231.9 620.6 228.4 626.6 226.1 633.6 224.9 638.9 225.3 642.4 226.4 645.9 228.6 649.0 231.9 650.9 235.5 652.9 244.3 651.6 256.6 647.0 274.2 643.5 281.2 637.0 286.5 626.6 290.2M638.9 260.1 635.4 260.6 631.9 258.6 626.6 253.3 624.5 249.5 623.4 244.3 624.5 237.2 626.6 234.5 630.1 232.5 635.4 231.9 640.5 233.7 644.1 237.2 645.7 240.7 646.4 246.0 645.6 251.3 642.4 257.2 638.9 260.1M621.3 286.6 617.8 285.7 615.6 283.0 615.0 279.5 616.0 275.4 617.8 273.2 621.3 271.6 626.6 271.4 629.9 272.4 631.3 274.2 631.6 275.9 629.8 281.2 626.1 284.7 621.3 286.6" fill="none" stroke="#2a2a2a" stroke-width="0.4" stroke-opacity="0.55"/>
</g>
<path d="M612.9 222.7h1M637.5 222.7h1M597.9 230.2h1M607.2 230.2h1M616.4 230.2h1M625.2 230.2h1M634.0 230.2h1M643.2 230.2h1M652.5 230.2h1M593.5 237.7h1M601.4 237.7h1M609.4 237.7h1M617.3 237.7h1M625.2 237.7h1M633.1 237.7h1M641.0 237.7h1M649.0 237.7h1M656.9 237.7h1M590.0 245.1h1M598.8 245.1h1M607.6 245.1h1M616.4 245.1h1M625.2 245.1h1M634.0 245.1h1M642.8 245.1h1M651.6 245.1h1M660.4 245.1h1M592.2 255.7h1M603.2 255.7h1M614.2 255.7h1M625.2 255.7h1M636.2 255.7h1M647.2 255.7h1M658.2 255.7h1M592.2 266.3h1M603.2 266.3h1M614.2 266.3h1M625.2 266.3h1M636.2 266.3h1M647.2 266.3h1M658.2 266.3h1M598.8 275.5h1M607.6 275.5h1M616.4 275.5h1M625.2 275.5h1M634.0 275.5h1M642.8 275.5h1M651.6 275.5h1M596.2 283.0h1M605.8 283.0h1M615.5 283.0h1M625.2 283.0h1M634.9 283.0h1M644.6 283.0h1M654.2 283.0h1M612.0 289.6h1M625.2 289.6h1M638.4 289.6h1" stroke="#111" stroke-width="0.9" stroke-opacity="0.8"/>
<circle cx="625.7" cy="255.7" r="44.0" fill="none" stroke="#111" stroke-width="1.1"/>
<path d="M617.7 212.3L623.0 206.5M628.4 206.5L633.7 212.3" stroke="#111" stroke-width="0.9" fill="none"/>
<path d="M669.3 244.9C671.5 243.5 673.7 243.9 674.0 246.5L674.1 261.7C674.4 266.2 672.9 268.0 670.0 267.3M582.1 244.9C579.9 243.5 577.7 243.9 577.4 246.5L577.3 261.7C577.0 266.2 578.5 268.0 581.4 267.3" stroke="#222" stroke-width="0.9" fill="none"/>
<rect x="677.8" y="207.4" width="5.7" height="96.5" fill="url(#jetg)" stroke="#777" stroke-width="0.4"/>
<g font-family="Liberation Sans" font-size="3.4" fill="#666"><text x="685.3" y="216.1">5</text><text x="685.3" y="224.2">4</text><text x="685.3" y="232.2">3</text><text x="685.3" y="240.3">2</text><text x="685.3" y="248.4">1</text><text x="685.3" y="256.4">0</text><text x="685.3" y="264.5">-1</text><text x="685.3" y="272.5">-2</text><text x="685.3" y="280.6">-3</text><text x="685.3" y="288.6">-4</text><text x="685.3" y="296.7">-5</text></g>
<clipPath id="c7"><circle cx="50.7" cy="563.7" r="46.0"/></clipPath>
<g clip-path="url(#c7)">
<circle cx="50.7" cy="563.7" r="46.0" fill="#3bffc4"/>
<g filter="url(#bl)">
<path d="M99.1 612.1 2.3 612.1 2.3 515.3 99.1 515.3 99.1 612.1ZM60.5 589.2 61.7 587.5 62.0 585.7 61.6 583.9 60.5 582.2 58.6 581.2 56.9 581.2 55.1 581.9 53.5 583.9 53.2 585.7 53.5 587.5 54.7 589.2 56.9 590.3 58.6 590.2 60.5 589.2Z" fill="#4dffb3" fill-rule="evenodd"/>
<path d="M99.1 612.1 2.3 612.1 2.3 515.3 99.1 515.3 99.1 612.1ZM66.4 554.0 68.5 550.5 69.3 547.0 69.4 539.9 68.8 532.9 67.2 527.6 65.7 525.8 62.1 524.7 60.4 525.1 58.6 526.3 56.5 529.4 54.1 536.4 54.0 541.7 56.3 548.7 59.9 554.0 62.1 555.4 63.9 555.6 66.4 554.0ZM60.7 596.3 63.9 594.5 67.1 591.0 68.4 587.5 68.3 583.9 67.1 580.4 63.9 576.1 60.4 574.0 56.9 573.9 53.3 575.3 49.5 578.7 47.9 582.2 47.8 587.5 49.8 592.7 53.3 596.2 56.9 597.1 60.7 596.3Z" fill="#61ff9e" fill-rule="evenodd"/>
<path d="M99.1 612.1 2.3 612.1 2.3 515.3 99.1 515.3 99.1 612.1ZM61.9 601.5 70.1 596.3 73.2 592.7 74.7 589.2 75.0 585.7 74.2 582.2 69.1 571.6 68.3 568.1 69.1 564.6 75.8 554.0 76.8 550.5 77.1 547.0 76.3 539.9 73.9 527.6 72.7 524.1 70.9 521.3 69.2 519.6 67.4 518.7 63.9 518.1 60.4 519.0 56.9 521.7 47.5 532.9 45.5 536.4 44.7 539.9 45.4 545.2 47.8 550.5 54.3 561.1 54.6 564.6 52.3 568.1 44.8 575.1 43.0 578.7 42.6 582.2 43.3 587.5 45.0 592.7 47.6 598.0 49.8 600.8 51.6 602.0 55.1 603.0 58.6 602.7 61.9 601.5Z" fill="#75ff8a" fill-rule="evenodd"/>
<path d="M99.1 612.1 2.3 612.1 2.3 515.3 54.8 515.3 50.0 522.3 48.1 523.7 42.8 525.6 32.2 527.0 27.6 529.4 24.1 532.9 22.3 538.2 22.9 541.7 25.0 545.2 37.5 556.9 40.6 561.1 41.1 564.6 36.2 573.4 35.8 576.9 36.5 580.4 42.8 597.1 46.3 604.6 49.8 607.6 55.1 609.0 58.6 608.7 62.1 607.6 75.8 599.8 81.1 594.5 83.3 589.2 83.4 585.7 82.7 582.2 77.0 571.6 76.6 569.9 78.0 566.6 82.4 561.1 84.3 557.5 85.3 554.0 85.4 548.7 84.0 541.7 80.8 532.9 78.9 520.6 76.3 515.3 99.1 515.3 99.1 612.1Z" fill="#8aff75" fill-rule="evenodd"/>
<path d="M99.1 612.1 69.1 612.1 81.5 605.9 87.4 601.5 90.6 598.0 92.8 594.5 95.3 587.5 98.4 564.6 98.4 555.8 96.4 547.0 90.3 530.0 87.7 515.3 99.1 515.3 99.1 612.1ZM46.3 612.1 2.3 612.1 2.3 553.6 9.3 561.9 18.1 568.4 23.4 573.2 32.2 584.0 37.4 592.7 42.9 606.8 44.5 609.2 47.6 612.1 46.3 612.1Z" fill="#9eff61" fill-rule="evenodd"/>
<path d="M41.0 612.1 2.3 612.1 2.3 569.7 21.7 581.4 30.5 588.6 33.6 592.7 35.4 596.3 38.8 606.8 41.4 612.1 41.0 612.1ZM99.1 612.1 91.6 612.1 99.1 606.3 99.1 612.1Z" fill="#b3ff4c" fill-rule="evenodd"/>
<path d="M35.7 612.1 2.3 612.1 2.3 579.3 21.7 587.8 28.7 592.5 30.6 594.5 32.6 598.0 36.6 612.1 35.7 612.1Z" fill="#c7ff38" fill-rule="evenodd"/>
<path d="M30.5 612.1 2.3 612.1 2.3 587.2 19.9 593.0 23.4 594.6 26.9 597.2 28.7 599.6 29.3 601.5 31.6 612.1 30.5 612.1Z" fill="#dbff24" fill-rule="evenodd"/>
</g>
<path d="M99.1 612.1 2.3 612.1 2.3 515.3 99.1 515.3 99.1 612.1M63.2 541.7 64.4 538.2 64.6 532.9 63.9 530.2 62.1 528.7 60.2 529.4 59.0 532.9 58.9 536.4 60.4 541.6 62.1 542.9 63.2 541.7M61.9 592.7 63.9 590.9 65.6 587.5 64.9 582.2 62.3 578.7 60.4 577.5 58.6 577.1 55.1 577.7 51.6 580.3 50.5 582.2 49.8 585.7 50.6 589.2 53.1 592.7 55.1 593.9 58.6 594.1 61.9 592.7M99.1 612.1 2.3 612.1 2.3 515.3 99.1 515.3 99.1 612.1M66.6 559.3 70.0 555.8 72.5 550.5 73.1 545.2 72.7 539.9 71.4 531.1 69.6 525.9 65.9 522.3 62.1 521.9 58.6 523.5 53.9 529.4 50.5 536.4 49.9 541.7 50.6 545.2 52.9 550.5 58.6 558.6 62.1 560.9 63.9 560.8 66.6 559.3M62.6 598.0 65.7 596.1 69.1 592.7 70.9 589.2 71.3 585.7 69.9 580.4 67.4 575.9 63.9 571.4 60.4 569.4 56.9 570.3 53.3 572.1 48.1 576.4 45.8 580.4 45.4 585.7 47.5 592.7 51.6 598.2 53.3 599.2 56.9 599.7 62.6 598.0M99.1 612.1 2.3 612.1 2.3 515.3 99.1 515.3 99.1 612.1M56.9 605.1 63.9 602.5 72.7 596.7 76.0 592.7 77.6 587.5 76.7 582.2 72.3 573.4 71.2 568.1 72.4 564.6 78.8 554.0 79.8 548.7 79.3 543.5 74.4 522.3 70.9 517.7 65.7 515.5 60.4 516.6 56.9 519.2 51.6 525.7 43.7 532.9 41.3 536.4 40.5 539.9 42.2 547.0 50.0 559.3 51.5 562.8 50.1 566.3 41.9 575.1 40.6 580.4 41.3 585.7 44.5 595.1 48.1 601.6 51.6 604.3 56.9 605.1M99.1 612.1 2.3 612.1 2.3 515.3 52.2 515.3 48.5 520.6 46.3 522.0 41.0 522.8 30.5 522.3 25.2 523.6 21.7 525.2 18.3 527.6 15.6 531.1 14.3 534.7 13.9 538.2 14.8 543.5 17.8 548.7 21.7 552.7 30.4 559.3 33.3 562.8 33.9 566.3 33.1 571.6 33.5 576.9 45.4 605.1 49.8 609.1 53.3 610.3 56.9 610.5 63.9 608.5 78.0 600.5 83.8 594.5 85.9 589.2 85.5 582.2 81.0 571.6 80.8 569.9 87.2 559.3 88.0 555.8 88.1 550.5 86.7 543.5 82.8 532.9 81.0 520.6 79.1 515.3 99.1 515.3 99.1 612.1M99.1 549.0 92.6 531.1 89.6 515.3 99.1 515.3 99.1 549.0M46.3 612.1 2.3 612.1 2.3 557.2 7.6 562.9 21.7 573.5 32.2 585.1 36.9 592.7 42.3 606.8 46.3 612.1M99.1 612.1 72.2 612.1 85.0 605.4 89.6 601.5 92.6 598.0 96.9 589.2 99.1 577.0 99.1 612.1M41.0 612.1 2.3 612.1 2.3 570.3 21.7 581.8 30.5 588.9 35.3 596.3 41.0 612.1M99.1 612.1 92.6 612.1 99.1 607.1 99.1 612.1M35.7 612.1 2.3 612.1 2.3 578.9 21.7 587.5 28.7 592.2 32.8 598.0 36.8 612.1 35.7 612.1M32.2 612.1 2.3 612.1 2.3 586.1 19.9 592.0 26.9 596.0 29.5 599.8 32.2 612.1" fill="none" stroke="#2a2a2a" stroke-width="0.4" stroke-opacity="0.55"/>
</g>
<path d="M37.9 530.7h1M62.5 530.7h1M22.9 538.2h1M32.2 538.2h1M41.4 538.2h1M50.2 538.2h1M59.0 538.2h1M68.2 538.2h1M77.5 538.2h1M18.5 545.7h1M26.4 545.7h1M34.4 545.7h1M42.3 545.7h1M50.2 545.7h1M58.1 545.7h1M66.0 545.7h1M74.0 545.7h1M81.9 545.7h1M15.0 553.1h1M23.8 553.1h1M32.6 553.1h1M41.4 553.1h1M50.2 553.1h1M59.0 553.1h1M67.8 553.1h1M76.6 553.1h1M85.4 553.1h1M17.2 563.7h1M28.2 563.7h1M39.2 563.7h1M50.2 563.7h1M61.2 563.7h1M72.2 563.7h1M83.2 563.7h1M17.2 574.3h1M28.2 574.3h1M39.2 574.3h1M50.2 574.3h1M61.2 574.3h1M72.2 574.3h1M83.2 574.3h1M23.8 583.5h1M32.6 583.5h1M41.4 583.5h1M50.2 583.5h1M59.0 583.5h1M67.8 583.5h1M76.6 583.5h1M21.2 591.0h1M30.8 591.0h1M40.5 591.0h1M50.2 591.0h1M59.9 591.0h1M69.6 591.0h1M79.2 591.0h1M37.0 597.6h1M50.2 597.6h1M63.4 597.6h1" stroke="#111" stroke-width="0.9" stroke-opacity="0.8"/>
<circle cx="50.7" cy="563.7" r="44.0" fill="none" stroke="#111" stroke-width="1.1"/>
<path d="M42.7 520.3L48.0 514.5M53.4 514.5L58.7 520.3" stroke="#111" stroke-width="0.9" fill="none"/>
<path d="M94.3 552.9C96.5 551.5 98.7 551.9 99.0 554.5L99.1 569.7C99.4 574.2 97.9 576.0 95.0 575.3M7.1 552.9C4.9 551.5 2.7 551.9 2.4 554.5L2.3 569.7C2.0 574.2 3.5 576.0 6.4 575.3" stroke="#222" stroke-width="0.9" fill="none"/>
<rect x="103.8" y="515.1" width="6.0" height="97.5" fill="url(#jetg)" stroke="#777" stroke-width="0.4"/>
<g font-family="Liberation Sans" font-size="3.4" fill="#666"><text x="111.6" y="523.9">5</text><text x="111.6" y="532.0">4</text><text x="111.6" y="540.2">3</text><text x="111.6" y="548.3">2</text><text x="111.6" y="556.5">1</text><text x="111.6" y="564.6">0</text><text x="111.6" y="572.8">-1</text><text x="111.6" y="580.9">-2</text><text x="111.6" y="589.0">-3</text><text x="111.6" y="597.2">-4</text><text x="111.6" y="605.3">-5</text></g>
<clipPath id="c8"><circle cx="166.8" cy="564.0" r="46.0"/></clipPath>
<g clip-path="url(#c8)">
<circle cx="166.8" cy="564.0" r="46.0" fill="#00fcff"/>
<g filter="url(#bl)">
<path d="M215.2 612.4 118.4 612.4 118.4 515.6 215.2 515.6 215.2 612.4ZM178.3 584.2 180.1 582.5 180.7 580.7 180.0 577.3 178.2 576.1 176.5 575.9 174.7 576.5 172.3 579.0 171.8 580.7 172.1 582.5 174.7 584.7 178.3 584.2Z" fill="#0ffff0" fill-rule="evenodd"/>
<path d="M215.2 612.4 118.4 612.4 118.4 515.6 215.2 515.6 215.2 612.4ZM183.5 535.0 187.0 531.1 188.4 527.9 189.0 524.4 188.8 521.1 188.1 519.1 187.0 517.6 185.3 517.0 183.5 517.5 180.0 521.0 177.4 526.2 176.7 529.7 176.9 531.4 178.2 534.2 180.0 535.5 181.8 535.6 183.5 535.0ZM180.9 587.8 183.5 586.0 185.3 583.8 186.6 580.7 186.9 577.2 186.2 573.7 184.4 570.2 181.8 567.8 180.0 567.3 178.2 567.5 174.7 569.1 169.4 573.6 167.2 577.2 166.6 580.7 167.8 584.2 169.3 586.0 172.0 587.8 176.5 588.7 180.9 587.8Z" fill="#24ffdb" fill-rule="evenodd"/>
<path d="M215.2 612.4 118.4 612.4 118.4 515.6 170.2 515.6 170.6 520.9 169.5 531.4 171.2 542.0 170.5 552.6 171.2 561.4 169.9 564.9 164.8 570.2 162.5 573.7 161.4 577.2 161.3 580.7 162.7 584.2 165.9 587.8 171.2 590.7 176.5 591.8 181.2 591.3 185.3 589.5 188.9 586.0 191.3 580.7 191.9 575.4 191.3 570.2 185.2 550.8 185.1 547.3 186.1 543.8 196.0 529.7 203.5 515.6 215.2 515.6 215.2 612.4ZM156.3 557.8 157.7 556.1 158.2 552.6 157.3 550.8 155.4 549.3 151.8 548.9 150.1 550.1 148.8 552.6 148.9 556.1 150.1 558.1 151.8 559.3 153.6 559.4 156.3 557.8Z" fill="#38ffc7" fill-rule="evenodd"/>
<path d="M215.2 612.4 118.4 612.4 118.4 515.6 136.2 515.6 137.3 519.1 137.7 522.6 137.0 538.5 137.7 550.8 141.3 569.3 143.0 575.1 144.3 577.2 146.4 579.0 151.8 581.6 159.7 587.8 165.3 591.3 171.2 593.6 178.2 594.7 183.5 593.9 188.8 591.4 192.6 587.8 194.7 584.2 196.2 579.0 196.8 571.9 196.2 566.6 192.9 550.8 192.8 547.3 193.4 543.8 195.6 540.2 215.2 516.2 215.2 612.4Z" fill="#4dffb3" fill-rule="evenodd"/>
<path d="M215.2 612.4 118.4 612.4 118.4 524.5 123.4 535.0 129.0 550.1 131.9 559.6 134.6 573.7 135.8 577.2 138.0 580.7 141.3 583.9 144.8 586.0 161.7 593.0 171.2 596.3 178.2 597.5 183.5 597.1 189.9 594.8 194.7 591.3 198.7 586.0 200.8 580.7 201.9 573.7 201.7 566.6 200.0 554.3 200.6 547.3 202.1 543.8 204.6 540.3 215.2 529.0 215.2 612.4Z" fill="#61ff9e" fill-rule="evenodd"/>
<path d="M215.2 612.4 118.4 612.4 118.4 548.3 125.2 561.4 127.9 573.7 129.8 579.0 132.5 583.2 136.0 586.8 141.3 590.1 149.9 593.0 173.0 599.4 178.2 600.2 183.5 600.2 190.6 598.4 195.8 595.4 200.3 591.3 203.9 586.0 206.1 580.7 207.6 573.7 207.8 566.6 207.1 556.1 207.6 552.6 209.9 547.2 215.2 540.6 215.2 612.4Z" fill="#75ff8a" fill-rule="evenodd"/>
<path d="M215.2 612.4 118.4 612.4 118.4 568.0 121.8 577.2 125.8 584.2 130.7 589.5 136.0 593.0 141.3 595.2 146.3 596.6 164.2 599.8 176.5 602.8 183.5 603.3 190.6 602.0 195.8 599.9 201.1 596.4 206.3 591.3 209.7 586.0 212.6 579.0 214.2 571.9 215.2 564.0 215.2 612.4Z" fill="#8aff75" fill-rule="evenodd"/>
<path d="M215.2 612.4 118.4 612.4 118.4 585.0 122.4 589.5 127.2 593.6 132.0 596.6 137.8 599.0 146.6 600.8 164.2 602.6 176.5 605.8 181.8 606.4 190.6 605.7 195.8 604.1 200.6 601.8 208.2 596.3 211.3 593.0 215.2 587.7 215.2 612.4Z" fill="#9eff61" fill-rule="evenodd"/>
<path d="M215.2 612.4 118.4 612.4 118.4 594.1 127.7 600.1 137.8 603.7 146.6 604.9 164.2 605.9 176.5 609.0 183.5 609.8 192.3 609.1 201.1 606.3 209.1 601.8 215.2 596.7 215.2 612.4Z" fill="#b3ff4c" fill-rule="evenodd"/>
</g>
<path d="M215.2 612.4 118.4 612.4 118.4 515.6 215.2 515.6 215.2 612.4M182.2 529.7 181.8 528.9 181.4 529.7 181.8 530.2 182.2 529.7M180.9 586.0 182.8 584.2 184.5 580.7 184.2 575.4 181.8 571.9 180.0 571.0 176.5 571.2 173.0 573.1 170.5 575.4 168.7 579.0 168.9 582.5 171.2 585.7 174.7 587.3 178.2 587.1 180.9 586.0M215.2 612.4 118.4 612.4 118.4 515.6 174.6 515.6 172.6 527.9 172.7 533.2 174.5 538.5 176.5 541.7 178.2 543.3 180.0 543.5 185.3 539.6 190.6 533.2 194.5 526.2 198.3 515.6 215.2 515.6 215.2 612.4M182.2 589.5 186.9 586.0 188.8 582.7 189.8 579.0 189.7 573.7 187.5 566.6 181.8 556.2 180.0 553.8 178.2 554.0 174.6 563.1 165.4 573.7 163.9 577.2 163.6 580.7 166.2 586.0 171.2 589.5 176.5 590.6 182.2 589.5M215.2 612.4 118.4 612.4 118.4 515.6 160.6 515.6 162.4 517.7 164.2 520.9 164.4 524.4 160.6 533.2 158.9 533.6 153.6 530.9 150.1 530.2 147.6 531.4 144.8 535.3 143.0 540.2 141.8 547.3 142.4 557.8 146.6 568.8 148.3 571.1 153.6 573.9 155.0 575.4 156.8 580.7 160.6 586.0 168.1 591.3 173.0 593.0 178.2 593.5 183.5 592.5 188.7 589.5 191.7 586.0 194.0 580.7 194.7 575.4 194.5 570.2 189.8 549.0 190.1 545.5 191.3 542.0 210.5 515.6 215.2 515.6 215.2 612.4M215.2 612.4 118.4 612.4 118.4 515.6 121.3 515.6 126.6 526.2 134.2 556.8 137.6 573.7 140.0 579.0 144.8 583.1 161.3 591.3 169.4 594.7 176.5 596.2 183.5 595.7 188.8 593.7 192.3 591.2 196.5 586.0 198.6 580.7 199.7 573.7 199.3 566.6 197.0 552.6 197.5 545.5 200.6 540.2 215.2 523.9 215.2 612.4M215.2 612.4 118.4 612.4 118.4 539.2 128.0 559.6 132.0 577.2 136.8 584.2 141.3 587.5 144.8 589.2 161.5 594.8 173.0 598.2 181.8 599.0 188.8 597.4 193.7 594.8 197.8 591.3 201.5 586.0 203.7 580.7 205.0 573.7 205.0 566.6 203.9 556.1 204.6 549.5 207.6 543.8 215.2 535.4 215.2 612.4M215.2 612.4 118.4 612.4 118.4 558.0 121.0 563.1 124.6 575.4 126.9 580.7 130.8 586.0 134.8 589.5 139.5 592.2 146.6 594.6 174.7 601.2 183.5 601.8 190.6 600.4 195.8 597.9 201.9 593.0 206.0 587.8 208.6 582.5 210.2 577.2 211.3 570.2 211.9 556.1 213.0 552.6 215.2 548.5 215.2 612.4M215.2 612.4 118.4 612.4 118.4 578.9 121.7 584.2 126.4 589.5 130.8 593.0 137.6 596.6 144.8 598.6 164.2 601.3 174.7 604.0 181.8 604.9 187.0 604.7 192.3 603.5 197.6 601.3 202.4 598.3 209.6 591.3 215.2 581.4 215.2 612.4M215.2 612.4 118.4 612.4 118.4 590.0 127.2 596.9 137.8 601.4 146.6 602.9 164.2 604.2 176.5 607.4 183.5 608.2 192.3 607.2 201.1 604.0 208.2 599.6 215.2 592.7 215.2 612.4" fill="none" stroke="#2a2a2a" stroke-width="0.4" stroke-opacity="0.55"/>
</g>
<path d="M154.0 531.0h1M178.6 531.0h1M139.0 538.5h1M148.3 538.5h1M157.5 538.5h1M166.3 538.5h1M175.1 538.5h1M184.3 538.5h1M193.6 538.5h1M134.6 546.0h1M142.5 546.0h1M150.5 546.0h1M158.4 546.0h1M166.3 546.0h1M174.2 546.0h1M182.1 546.0h1M190.1 546.0h1M198.0 546.0h1M131.1 553.4h1M139.9 553.4h1M148.7 553.4h1M157.5 553.4h1M166.3 553.4h1M175.1 553.4h1M183.9 553.4h1M192.7 553.4h1M201.5 553.4h1M133.3 564.0h1M144.3 564.0h1M155.3 564.0h1M166.3 564.0h1M177.3 564.0h1M188.3 564.0h1M199.3 564.0h1M133.3 574.6h1M144.3 574.6h1M155.3 574.6h1M166.3 574.6h1M177.3 574.6h1M188.3 574.6h1M199.3 574.6h1M139.9 583.8h1M148.7 583.8h1M157.5 583.8h1M166.3 583.8h1M175.1 583.8h1M183.9 583.8h1M192.7 583.8h1M137.3 591.3h1M146.9 591.3h1M156.6 591.3h1M166.3 591.3h1M176.0 591.3h1M185.7 591.3h1M195.3 591.3h1M153.1 597.9h1M166.3 597.9h1M179.5 597.9h1" stroke="#111" stroke-width="0.9" stroke-opacity="0.8"/>
<circle cx="166.8" cy="564.0" r="44.0" fill="none" stroke="#111" stroke-width="1.1"/>
<path d="M158.8 520.6L164.1 514.8M169.5 514.8L174.8 520.6" stroke="#111" stroke-width="0.9" fill="none"/>
<path d="M210.4 553.2C212.6 551.8 214.8 552.2 215.1 554.8L215.2 570.0C215.5 574.5 214.0 576.3 211.1 575.6M123.2 553.2C121.0 551.8 118.8 552.2 118.5 554.8L118.4 570.0C118.1 574.5 119.6 576.3 122.5 575.6" stroke="#222" stroke-width="0.9" fill="none"/>
<rect x="219.1" y="515.0" width="6.4" height="96.0" fill="url(#jetg)" stroke="#777" stroke-width="0.4"/>
<g font-family="Liberation Sans" font-size="3.4" fill="#666"><text x="227.3" y="523.7">5</text><text x="227.3" y="531.7">4</text><text x="227.3" y="539.7">3</text><text x="227.3" y="547.7">2</text><text x="227.3" y="555.8">1</text><text x="227.3" y="563.8">0</text><text x="227.3" y="571.8">-1</text><text x="227.3" y="579.8">-2</text><text x="227.3" y="587.8">-3</text><text x="227.3" y="595.8">-4</text><text x="227.3" y="603.8">-5</text></g>
<clipPath id="c9"><circle cx="283.8" cy="564.0" r="46.0"/></clipPath>
<g clip-path="url(#c9)">
<circle cx="283.8" cy="564.0" r="46.0" fill="#38ffc7"/>
<g filter="url(#bl)">
<path d="M332.2 612.4 235.4 612.4 235.4 515.6 332.2 515.6 332.2 612.4ZM304.5 598.3 306.6 596.6 307.7 594.8 307.9 593.0 306.6 589.5 304.9 587.8 302.3 586.5 298.8 586.3 297.0 586.9 294.9 589.5 294.9 593.0 295.6 594.8 297.0 596.7 300.5 598.7 302.3 598.9 304.5 598.3Z" fill="#4dffb3" fill-rule="evenodd"/>
<path d="M305.8 612.4 235.4 612.4 235.4 515.6 312.7 515.6 332.2 521.1 332.2 605.5 330.2 601.8 325.8 596.6 320.3 591.3 313.5 586.0 305.8 582.4 302.3 581.9 298.8 582.4 295.2 584.1 292.1 587.8 291.0 591.3 291.4 596.6 293.5 601.2 297.0 605.7 300.5 608.8 305.8 612.4Z" fill="#61ff9e" fill-rule="evenodd"/>
<path d="M293.5 612.4 235.4 612.4 235.4 515.6 300.4 515.6 304.7 519.1 309.3 521.8 332.2 528.7 332.2 585.5 307.6 578.5 300.5 578.6 295.2 580.6 292.9 582.5 290.1 586.0 288.4 589.5 287.6 593.0 288.3 600.1 290.3 605.4 294.1 612.4 293.5 612.4Z" fill="#75ff8a" fill-rule="evenodd"/>
<path d="M286.4 612.4 235.4 612.4 235.4 517.3 236.5 515.6 293.1 515.6 300.5 522.8 305.1 526.2 325.2 533.1 332.2 536.6 332.2 575.5 323.4 576.3 309.3 574.7 304.0 574.6 298.8 575.7 293.5 578.4 290.0 581.8 287.0 586.0 285.2 589.5 284.2 593.0 284.3 600.1 287.5 612.4 286.4 612.4Z" fill="#8aff75" fill-rule="evenodd"/>
<path d="M281.2 612.4 235.4 612.4 235.4 561.3 238.4 554.3 239.8 549.0 239.8 533.2 240.8 526.2 242.9 520.9 246.6 515.6 286.3 515.6 302.3 529.7 323.4 539.2 328.7 543.1 332.2 547.3 332.2 563.3 328.8 566.6 325.2 568.6 319.9 570.1 305.8 570.7 298.8 572.3 292.4 575.4 288.2 579.6 282.4 587.8 280.1 593.0 279.8 598.3 281.2 612.4Z" fill="#9eff61" fill-rule="evenodd"/>
<path d="M272.4 612.4 235.4 612.4 254.9 598.3 256.9 596.6 257.5 594.8 251.2 591.2 247.4 587.8 244.2 581.9 243.2 575.4 244.2 568.4 248.8 550.8 248.9 547.3 247.0 535.0 247.6 527.9 248.8 524.4 250.9 520.9 254.3 517.4 256.9 515.6 278.2 515.6 281.2 517.1 288.2 521.9 300.5 532.5 313.6 540.2 318.5 543.8 322.0 547.3 323.0 549.0 324.0 552.6 322.9 557.8 321.6 559.8 318.1 562.7 314.6 564.2 297.0 569.4 291.7 572.0 287.4 575.4 282.9 581.5 276.9 587.8 273.4 593.0 272.7 596.6 274.4 605.4 273.3 612.4 272.4 612.4Z" fill="#b3ff4c" fill-rule="evenodd"/>
<path d="M274.1 580.9 270.6 581.8 267.1 581.7 260.5 579.0 258.1 577.2 255.3 573.7 253.7 568.4 253.6 561.4 254.8 549.0 252.5 536.7 253.1 529.7 254.8 525.6 258.3 521.5 261.8 519.3 267.1 518.0 270.6 518.0 275.9 519.1 281.2 521.5 286.4 524.9 307.8 542.0 312.2 547.3 313.5 550.8 313.2 554.3 312.4 556.1 309.0 559.6 287.6 570.2 284.7 572.3 279.4 577.7 274.1 580.9Z" fill="#c7ff38" fill-rule="evenodd"/>
<path d="M274.1 572.2 268.8 572.2 265.3 570.7 263.6 569.2 260.7 564.9 258.9 557.8 258.3 547.3 256.9 538.5 257.6 531.4 259.3 527.9 261.8 525.2 265.3 523.3 268.8 522.5 272.4 522.5 277.6 523.9 282.9 526.5 288.2 529.9 298.6 538.5 302.1 542.0 304.6 545.5 305.9 549.0 305.7 552.6 305.1 554.3 302.3 557.8 300.0 559.6 293.7 563.1 274.1 572.2Z" fill="#dbff24" fill-rule="evenodd"/>
<path d="M277.6 565.4 272.4 565.8 268.8 564.6 267.1 563.4 264.3 559.6 262.5 554.3 260.7 540.2 261.0 535.0 262.5 531.4 263.9 529.7 266.3 527.9 268.8 527.0 272.4 526.7 275.9 527.2 284.7 531.2 290.0 535.0 295.9 540.2 298.7 543.8 300.2 547.3 300.2 550.8 299.7 552.6 297.2 556.1 295.2 557.8 288.2 561.7 277.6 565.4Z" fill="#f0ff0f" fill-rule="evenodd"/>
<path d="M282.9 559.9 277.6 561.1 274.1 561.0 270.6 559.6 267.1 555.6 265.0 549.0 264.3 540.2 265.4 535.0 267.1 532.9 268.8 531.7 274.1 531.0 281.2 533.1 288.2 537.6 294.2 543.8 295.4 547.3 295.2 549.5 294.0 552.6 290.0 556.5 282.9 559.9Z" fill="#fffa00" fill-rule="evenodd"/>
<path d="M281.2 556.5 277.6 557.0 274.1 556.3 272.4 555.3 270.0 552.6 268.6 549.0 268.1 543.8 268.8 539.2 270.7 536.7 274.1 535.6 279.4 536.5 284.7 539.5 288.7 543.8 290.0 547.3 289.1 550.8 285.7 554.3 281.2 556.5Z" fill="#ffe500" fill-rule="evenodd"/>
<path d="M281.2 551.1 277.6 552.2 275.9 551.8 274.1 550.4 272.9 547.3 273.0 545.5 274.1 542.9 275.9 541.8 277.6 541.7 279.4 542.2 281.7 543.8 283.0 545.5 283.4 547.3 283.0 549.0 281.2 551.1Z" fill="#ffd100" fill-rule="evenodd"/>
</g>
<path d="M332.2 612.4 235.4 612.4 235.4 515.6 317.0 515.6 332.2 519.6 332.2 612.4M322.7 610.6 325.2 607.1 324.7 601.8 320.6 594.8 313.8 587.8 308.3 584.2 302.3 582.7 297.0 583.7 294.0 586.0 292.0 589.5 291.7 594.8 293.9 600.1 298.8 605.5 304.0 609.0 311.1 611.7 318.1 612.3 322.7 610.6M291.7 612.4 235.4 612.4 235.4 515.6 299.3 515.6 304.0 519.7 309.3 522.7 332.2 529.8 332.2 584.0 307.6 577.9 300.5 578.1 295.2 580.1 292.4 582.5 289.6 586.0 287.1 593.0 287.1 596.6 288.2 601.7 293.1 612.4 291.7 612.4M284.7 612.4 235.4 612.4 235.4 529.8 237.4 522.6 241.4 515.6 289.9 515.6 303.6 527.9 323.4 535.5 332.2 540.8 332.2 570.6 326.9 572.5 321.6 573.3 309.3 572.7 302.3 573.2 297.0 574.8 291.7 578.1 285.5 586.0 282.4 593.0 282.3 600.1 284.7 612.4M274.1 612.4 235.4 612.4 235.4 603.8 240.3 598.3 241.9 594.8 240.5 577.2 241.5 570.2 247.3 550.8 247.4 547.3 245.7 535.0 246.3 527.9 249.3 520.9 254.6 515.6 280.1 515.6 288.2 521.0 300.5 531.7 320.7 543.8 324.1 547.3 325.7 550.8 326.1 554.3 325.4 557.8 323.4 560.9 320.9 563.1 316.4 565.2 304.0 567.9 297.0 570.1 291.7 572.8 286.9 577.2 278.3 587.8 275.4 593.0 274.8 596.6 276.1 607.1 275.5 612.4 274.1 612.4M275.9 579.0 272.4 580.3 268.8 580.5 263.2 579.0 258.3 575.4 255.9 571.9 254.8 568.4 254.4 561.4 255.3 549.0 253.3 538.5 253.3 531.4 255.2 526.2 258.0 522.6 261.8 520.1 265.3 518.9 270.6 518.6 275.9 519.7 286.4 525.4 307.0 542.0 311.2 547.3 312.4 550.8 312.0 554.3 311.2 556.1 307.7 559.6 286.6 570.2 275.9 579.0M275.9 568.7 270.6 569.1 265.7 566.6 262.9 563.1 260.7 556.1 258.6 538.5 259.1 533.2 262.1 527.9 265.3 525.6 268.8 524.5 272.4 524.4 277.6 525.7 288.0 531.4 300.0 542.0 302.2 545.5 303.3 549.0 302.1 554.3 297.0 559.3 290.0 563.1 275.9 568.7M279.4 561.7 274.1 562.0 270.6 560.8 267.4 557.8 265.3 553.5 263.8 545.5 263.6 538.3 265.3 533.3 268.8 530.7 272.4 530.0 275.9 530.3 282.9 533.1 292.2 540.2 296.1 545.5 296.1 550.8 293.5 554.8 288.2 558.6 279.4 561.7M279.4 556.4 274.1 555.8 272.0 554.3 269.6 550.8 268.7 547.3 268.7 542.0 270.0 538.5 272.4 536.6 275.9 536.2 281.2 537.8 286.4 541.7 289.0 545.5 289.1 549.0 287.0 552.6 282.9 555.3 279.4 556.4" fill="none" stroke="#2a2a2a" stroke-width="0.4" stroke-opacity="0.55"/>
</g>
<path d="M271.0 531.0h1M295.6 531.0h1M256.0 538.5h1M265.3 538.5h1M274.5 538.5h1M283.3 538.5h1M292.1 538.5h1M301.3 538.5h1M310.6 538.5h1M251.6 546.0h1M259.5 546.0h1M267.5 546.0h1M275.4 546.0h1M283.3 546.0h1M291.2 546.0h1M299.1 546.0h1M307.1 546.0h1M315.0 546.0h1M248.1 553.4h1M256.9 553.4h1M265.7 553.4h1M274.5 553.4h1M283.3 553.4h1M292.1 553.4h1M300.9 553.4h1M309.7 553.4h1M318.5 553.4h1M250.3 564.0h1M261.3 564.0h1M272.3 564.0h1M283.3 564.0h1M294.3 564.0h1M305.3 564.0h1M316.3 564.0h1M250.3 574.6h1M261.3 574.6h1M272.3 574.6h1M283.3 574.6h1M294.3 574.6h1M305.3 574.6h1M316.3 574.6h1M256.9 583.8h1M265.7 583.8h1M274.5 583.8h1M283.3 583.8h1M292.1 583.8h1M300.9 583.8h1M309.7 583.8h1M254.3 591.3h1M263.9 591.3h1M273.6 591.3h1M283.3 591.3h1M293.0 591.3h1M302.7 591.3h1M312.3 591.3h1M270.1 597.9h1M283.3 597.9h1M296.5 597.9h1" stroke="#111" stroke-width="0.9" stroke-opacity="0.8"/>
<circle cx="283.8" cy="564.0" r="44.0" fill="none" stroke="#111" stroke-width="1.1"/>
<path d="M275.8 520.6L281.1 514.8M286.5 514.8L291.8 520.6" stroke="#111" stroke-width="0.9" fill="none"/>
<path d="M327.4 553.2C329.6 551.8 331.8 552.2 332.1 554.8L332.2 570.0C332.5 574.5 331.0 576.3 328.1 575.6M240.2 553.2C238.0 551.8 235.8 552.2 235.5 554.8L235.4 570.0C235.1 574.5 236.6 576.3 239.5 575.6" stroke="#222" stroke-width="0.9" fill="none"/>
<rect x="336.2" y="515.0" width="5.5" height="96.0" fill="url(#jetg)" stroke="#777" stroke-width="0.4"/>
<g font-family="Liberation Sans" font-size="3.4" fill="#666"><text x="343.5" y="523.7">5</text><text x="343.5" y="531.7">4</text><text x="343.5" y="539.7">3</text><text x="343.5" y="547.7">2</text><text x="343.5" y="555.8">1</text><text x="343.5" y="563.8">0</text><text x="343.5" y="571.8">-1</text><text x="343.5" y="579.8">-2</text><text x="343.5" y="587.8">-3</text><text x="343.5" y="595.8">-4</text><text x="343.5" y="603.8">-5</text></g>
<clipPath id="c10"><circle cx="407.8" cy="562.7" r="46.0"/></clipPath>
<g clip-path="url(#c10)">
<circle cx="407.8" cy="562.7" r="46.0" fill="#38ffc7"/>
<g filter="url(#bl)">
<path d="M456.2 611.1 359.4 611.1 359.4 539.8 365.3 535.4 367.0 533.7 369.0 530.1 369.8 524.9 369.7 514.3 456.2 514.3 456.2 611.1Z" fill="#4dffb3" fill-rule="evenodd"/>
<path d="M456.2 611.1 359.4 611.1 359.4 556.5 370.0 549.5 382.3 544.1 384.6 542.5 386.0 540.7 386.7 538.9 386.9 535.4 383.1 514.3 456.2 514.3 456.2 611.1ZM413.5 579.4 414.7 577.7 414.5 575.9 412.2 574.3 408.7 575.0 407.2 575.9 406.4 577.7 406.8 579.4 408.7 580.6 410.4 580.8 413.5 579.4Z" fill="#61ff9e" fill-rule="evenodd"/>
<path d="M456.2 611.1 359.4 611.1 359.4 573.8 366.4 567.9 373.7 560.1 377.0 557.6 382.3 556.0 385.8 556.8 387.7 558.3 389.5 561.8 391.0 574.1 392.9 581.2 395.8 586.5 399.9 589.9 405.2 590.6 412.2 588.3 415.7 586.1 419.2 583.1 422.9 577.7 423.7 574.1 423.5 572.4 422.8 570.6 421.0 568.6 419.2 567.5 415.7 566.5 406.9 566.0 405.2 565.2 403.7 563.6 403.0 561.8 403.1 558.3 406.5 549.5 406.6 544.2 405.3 540.7 399.2 531.9 396.7 526.6 395.2 521.3 394.4 514.3 456.2 514.3 456.2 611.1Z" fill="#75ff8a" fill-rule="evenodd"/>
<path d="M456.2 611.1 359.4 611.1 359.4 594.9 370.0 587.6 375.2 585.8 378.8 586.2 382.3 588.3 387.1 595.3 390.7 598.8 394.6 600.7 399.9 601.0 406.9 598.1 417.5 590.8 428.1 581.2 432.8 575.9 435.1 572.4 435.9 568.9 434.3 565.3 424.9 556.5 423.5 554.8 422.0 551.3 421.8 546.0 424.1 535.4 424.0 533.7 422.8 531.5 421.0 530.1 411.5 526.6 408.7 524.9 407.3 521.3 407.4 514.3 456.2 514.3 456.2 611.1Z" fill="#8aff75" fill-rule="evenodd"/>
<path d="M456.2 611.1 392.7 611.1 399.9 609.4 406.9 605.6 426.3 588.9 445.3 575.9 447.4 573.7 449.2 570.6 449.4 565.3 447.8 561.8 444.2 558.3 436.6 553.0 434.8 551.3 432.9 547.7 432.6 544.2 435.0 533.7 435.3 528.4 434.8 523.1 432.7 514.3 456.2 514.3 456.2 611.1Z" fill="#9eff61" fill-rule="evenodd"/>
<path d="M456.2 553.9 448.8 544.2 447.7 540.7 450.1 514.3 456.2 514.3 456.2 553.9ZM456.2 611.1 409.8 611.1 427.1 593.5 431.6 590.6 449.2 581.6 453.8 577.7 456.2 574.5 456.2 611.1Z" fill="#b3ff4c" fill-rule="evenodd"/>
<path d="M456.2 611.1 418.1 611.1 429.8 597.0 435.1 594.3 449.2 588.7 456.2 584.7 456.2 611.1Z" fill="#c7ff38" fill-rule="evenodd"/>
<path d="M454.4 611.1 426.3 611.1 431.6 605.8 431.6 604.1 433.3 604.1 436.8 600.5 440.4 600.5 442.1 598.8 443.9 598.8 445.6 597.0 449.2 597.0 450.9 595.3 452.7 595.3 454.4 593.5 456.2 593.5 456.2 611.1 454.4 611.1Z" fill="#dbff24" fill-rule="evenodd"/>
</g>
<path d="M456.2 611.1 359.4 611.1 359.4 545.9 371.6 538.9 375.2 535.4 376.1 530.1 374.6 514.3 456.2 514.3 456.2 611.1M456.2 611.1 359.4 611.1 359.4 559.2 370.5 551.3 385.8 545.2 389.2 542.5 389.8 537.2 385.1 514.3 456.2 514.3 456.2 611.1M413.8 581.2 416.3 577.7 415.7 574.6 414.0 573.2 408.7 572.9 405.4 574.1 403.7 575.9 403.6 579.4 404.7 581.2 406.9 582.5 410.4 582.6 413.8 581.2M456.2 611.1 359.4 611.1 359.4 573.8 366.4 567.9 373.7 560.1 377.0 557.6 382.3 556.0 385.8 556.8 387.7 558.3 389.5 561.8 391.0 574.1 392.9 581.2 395.8 586.5 399.9 589.9 405.2 590.6 412.2 588.3 419.2 583.1 422.9 577.7 423.5 572.4 421.0 568.6 415.7 566.5 406.9 566.0 403.7 563.6 403.0 561.8 403.1 558.3 406.5 549.5 406.6 544.2 405.3 540.7 399.2 531.9 396.7 526.6 395.2 521.3 394.4 514.3 456.2 514.3 456.2 611.1M456.2 611.1 359.4 611.1 359.4 591.0 371.7 582.3 377.0 581.2 380.5 582.7 384.0 586.0 388.8 593.5 392.1 597.0 396.4 599.1 399.9 599.3 408.7 595.8 417.5 589.9 426.8 581.2 432.1 574.1 433.3 570.6 432.6 567.1 429.8 563.6 421.4 556.5 419.4 553.0 419.1 547.7 420.2 535.4 417.5 532.6 410.4 529.3 406.8 526.6 404.7 521.3 404.7 514.3 456.2 514.3 456.2 611.1M456.2 611.1 359.4 611.1 359.4 610.4 366.4 606.9 373.5 605.2 392.8 607.7 401.6 606.0 410.4 600.6 444.8 572.4 446.3 568.9 445.6 565.3 442.9 561.8 433.3 554.5 430.0 549.5 429.5 544.2 431.4 535.4 431.6 529.4 429.8 523.2 425.3 514.3 456.2 514.3 456.2 611.1M456.2 611.1 404.4 611.1 412.2 605.1 426.3 591.6 448.8 577.7 451.9 574.1 453.7 570.6 454.4 567.1 454.1 563.6 451.9 558.3 447.4 553.7 440.4 549.0 438.1 546.0 438.2 542.5 441.5 528.4 441.6 514.3 456.2 514.3 456.2 611.1M456.2 543.5 454.4 535.4 455.9 514.3 456.2 543.5M456.2 611.1 412.8 611.1 428.0 594.6 433.3 591.4 448.1 584.7 456.2 578.5 456.2 611.1M456.2 611.1 419.4 611.1 427.6 600.5 431.5 597.0 449.2 589.9 456.2 586.0 456.2 611.1" fill="none" stroke="#2a2a2a" stroke-width="0.4" stroke-opacity="0.55"/>
</g>
<path d="M395.0 529.7h1M419.6 529.7h1M380.0 537.2h1M389.3 537.2h1M398.5 537.2h1M407.3 537.2h1M416.1 537.2h1M425.3 537.2h1M434.6 537.2h1M375.6 544.7h1M383.5 544.7h1M391.5 544.7h1M399.4 544.7h1M407.3 544.7h1M415.2 544.7h1M423.1 544.7h1M431.1 544.7h1M439.0 544.7h1M372.1 552.1h1M380.9 552.1h1M389.7 552.1h1M398.5 552.1h1M407.3 552.1h1M416.1 552.1h1M424.9 552.1h1M433.7 552.1h1M442.5 552.1h1M374.3 562.7h1M385.3 562.7h1M396.3 562.7h1M407.3 562.7h1M418.3 562.7h1M429.3 562.7h1M440.3 562.7h1M374.3 573.3h1M385.3 573.3h1M396.3 573.3h1M407.3 573.3h1M418.3 573.3h1M429.3 573.3h1M440.3 573.3h1M380.9 582.5h1M389.7 582.5h1M398.5 582.5h1M407.3 582.5h1M416.1 582.5h1M424.9 582.5h1M433.7 582.5h1M378.3 590.0h1M387.9 590.0h1M397.6 590.0h1M407.3 590.0h1M417.0 590.0h1M426.7 590.0h1M436.3 590.0h1M394.1 596.6h1M407.3 596.6h1M420.5 596.6h1" stroke="#111" stroke-width="0.9" stroke-opacity="0.8"/>
<circle cx="407.8" cy="562.7" r="44.0" fill="none" stroke="#111" stroke-width="1.1"/>
<path d="M399.8 519.3L405.1 513.5M410.5 513.5L415.8 519.3" stroke="#111" stroke-width="0.9" fill="none"/>
<path d="M451.4 551.9C453.6 550.5 455.8 550.9 456.1 553.5L456.2 568.7C456.5 573.2 455.0 575.0 452.1 574.3M364.2 551.9C362.0 550.5 359.8 550.9 359.5 553.5L359.4 568.7C359.1 573.2 360.6 575.0 363.5 574.3" stroke="#222" stroke-width="0.9" fill="none"/>
<rect x="460.7" y="513.4" width="5.7" height="97.6" fill="url(#jetg)" stroke="#777" stroke-width="0.4"/>
<g font-family="Liberation Sans" font-size="3.4" fill="#666"><text x="468.2" y="522.2">5</text><text x="468.2" y="530.4">4</text><text x="468.2" y="538.5">3</text><text x="468.2" y="546.7">2</text><text x="468.2" y="554.8">1</text><text x="468.2" y="563.0">0</text><text x="468.2" y="571.1">-1</text><text x="468.2" y="579.3">-2</text><text x="468.2" y="587.4">-3</text><text x="468.2" y="595.6">-4</text><text x="468.2" y="603.7">-5</text></g>
<clipPath id="c11"><circle cx="524.5" cy="564.0" r="46.0"/></clipPath>
<g clip-path="url(#c11)">
<circle cx="524.5" cy="564.0" r="46.0" fill="#2bffd4"/>
<g filter="url(#bl)">
<path d="M572.9 612.4 476.1 612.4 476.1 515.6 567.2 515.6 572.9 518.4 572.9 612.4Z" fill="#38ffc7" fill-rule="evenodd"/>
<path d="M572.9 612.4 476.1 612.4 476.1 515.6 495.1 515.6 524.1 526.2 537.0 533.2 544.2 538.5 544.7 540.3 542.5 542.0 535.9 544.9 530.7 549.1 526.7 554.3 522.9 563.1 517.7 566.6 517.1 568.4 518.6 571.9 522.3 575.4 525.8 577.2 532.4 578.2 539.5 578.0 544.7 576.9 550.0 574.6 554.0 571.9 558.4 566.6 560.2 563.1 562.7 554.3 565.9 552.2 572.9 551.1 572.9 612.4Z" fill="#4dffb3" fill-rule="evenodd"/>
<path d="M572.9 612.4 476.1 612.4 476.1 533.8 482.7 540.2 486.2 545.5 488.9 552.6 492.5 566.6 495.1 571.9 498.4 575.4 504.3 579.0 520.1 584.8 523.6 585.6 528.9 585.7 544.7 585.1 553.5 584.1 562.3 581.6 572.9 577.1 572.9 612.4Z" fill="#61ff9e" fill-rule="evenodd"/>
<path d="M572.9 612.4 476.1 612.4 476.1 561.1 484.7 573.7 489.9 579.0 495.5 582.6 505.0 586.0 523.6 590.0 550.0 590.9 560.6 590.3 572.9 587.7 572.9 612.4Z" fill="#75ff8a" fill-rule="evenodd"/>
<path d="M572.9 612.4 476.1 612.4 476.1 577.7 482.0 582.5 487.7 586.0 493.7 588.5 500.7 590.3 521.9 593.2 535.9 594.1 553.5 596.4 562.3 596.4 572.9 595.3 572.9 612.4Z" fill="#8aff75" fill-rule="evenodd"/>
<path d="M572.9 612.4 476.1 612.4 476.1 587.1 486.7 592.2 495.5 594.4 530.7 596.8 557.1 601.5 572.9 601.7 572.9 612.4Z" fill="#9eff61" fill-rule="evenodd"/>
<path d="M572.9 612.4 476.1 612.4 476.1 594.3 484.9 597.3 491.9 598.7 525.4 599.0 534.2 600.6 555.3 605.8 572.9 607.5 572.9 612.4Z" fill="#b3ff4c" fill-rule="evenodd"/>
<path d="M565.9 612.4 476.1 612.4 476.1 600.4 484.9 602.5 493.7 603.3 518.3 601.6 525.4 601.8 533.0 603.6 553.5 609.9 567.3 612.4 565.9 612.4Z" fill="#c7ff38" fill-rule="evenodd"/>
<path d="M546.5 612.4 476.1 612.4 476.1 606.0 484.9 607.3 493.7 607.6 523.6 604.5 530.7 606.4 547.3 612.4 546.5 612.4Z" fill="#dbff24" fill-rule="evenodd"/>
</g>
<path d="M572.9 612.4 476.1 612.4 476.1 515.6 504.4 515.6 521.4 520.9 535.2 526.2 546.4 531.4 551.7 535.0 558.8 541.3 562.3 543.3 572.9 546.4 572.9 612.4M545.0 575.4 548.6 573.7 552.8 570.2 555.2 566.6 556.6 561.4 555.9 556.1 553.5 551.9 550.0 549.9 544.7 549.2 537.7 550.6 532.4 554.2 529.7 557.8 523.4 570.2 523.5 571.9 524.5 573.7 526.9 575.4 530.7 576.6 537.7 577.0 545.0 575.4M572.9 612.4 476.1 612.4 476.1 531.1 483.1 537.2 487.8 543.8 490.4 550.8 493.7 566.6 495.5 570.7 499.8 575.4 506.2 579.0 523.6 585.1 541.2 584.7 550.0 583.9 556.8 582.5 572.9 575.8 572.9 612.4M572.9 612.4 476.1 612.4 476.1 559.2 484.4 571.9 488.9 577.2 495.5 582.0 504.3 585.3 523.6 589.7 550.0 590.5 560.6 589.8 572.9 587.0 572.9 612.4M572.9 612.4 476.1 612.4 476.1 576.9 482.9 582.5 488.4 585.9 493.7 588.1 500.7 589.9 521.9 593.0 535.9 593.9 553.5 596.1 562.3 596.0 572.9 594.9 572.9 612.4M572.9 612.4 476.1 612.4 476.1 586.7 485.2 591.3 495.5 594.1 530.7 596.7 557.1 601.3 572.9 601.4 572.9 612.4M572.9 612.4 476.1 612.4 476.1 594.0 484.9 597.1 491.9 598.5 525.4 598.9 555.3 605.7 572.9 607.3 572.9 612.4M567.6 612.4 476.1 612.4 476.1 600.3 484.9 602.3 493.7 603.2 518.3 601.5 525.4 601.7 553.5 609.8 568.5 612.4 567.6 612.4M546.5 612.4 476.1 612.4 476.1 605.9 484.9 607.3 493.7 607.6 523.6 604.5 530.7 606.3 547.5 612.4 546.5 612.4" fill="none" stroke="#2a2a2a" stroke-width="0.4" stroke-opacity="0.55"/>
</g>
<path d="M511.7 531.0h1M536.3 531.0h1M496.7 538.5h1M506.0 538.5h1M515.2 538.5h1M524.0 538.5h1M532.8 538.5h1M542.0 538.5h1M551.3 538.5h1M492.3 546.0h1M500.2 546.0h1M508.2 546.0h1M516.1 546.0h1M524.0 546.0h1M531.9 546.0h1M539.8 546.0h1M547.8 546.0h1M555.7 546.0h1M488.8 553.4h1M497.6 553.4h1M506.4 553.4h1M515.2 553.4h1M524.0 553.4h1M532.8 553.4h1M541.6 553.4h1M550.4 553.4h1M559.2 553.4h1M491.0 564.0h1M502.0 564.0h1M513.0 564.0h1M524.0 564.0h1M535.0 564.0h1M546.0 564.0h1M557.0 564.0h1M491.0 574.6h1M502.0 574.6h1M513.0 574.6h1M524.0 574.6h1M535.0 574.6h1M546.0 574.6h1M557.0 574.6h1M497.6 583.8h1M506.4 583.8h1M515.2 583.8h1M524.0 583.8h1M532.8 583.8h1M541.6 583.8h1M550.4 583.8h1M495.0 591.3h1M504.6 591.3h1M514.3 591.3h1M524.0 591.3h1M533.7 591.3h1M543.4 591.3h1M553.0 591.3h1M510.8 597.9h1M524.0 597.9h1M537.2 597.9h1" stroke="#111" stroke-width="0.9" stroke-opacity="0.8"/>
<circle cx="524.5" cy="564.0" r="44.0" fill="none" stroke="#111" stroke-width="1.1"/>
<path d="M516.5 520.6L521.8 514.8M527.2 514.8L532.5 520.6" stroke="#111" stroke-width="0.9" fill="none"/>
<path d="M568.1 553.2C570.3 551.8 572.5 552.2 572.8 554.8L572.9 570.0C573.2 574.5 571.7 576.3 568.8 575.6M480.9 553.2C478.7 551.8 476.5 552.2 476.2 554.8L476.1 570.0C475.8 574.5 477.3 576.3 480.2 575.6" stroke="#222" stroke-width="0.9" fill="none"/>
<rect x="577.1" y="515.0" width="5.7" height="97.0" fill="url(#jetg)" stroke="#777" stroke-width="0.4"/>
<g font-family="Liberation Sans" font-size="3.4" fill="#666"><text x="584.6" y="523.8">5</text><text x="584.6" y="531.9">4</text><text x="584.6" y="540.0">3</text><text x="584.6" y="548.1">2</text><text x="584.6" y="556.2">1</text><text x="584.6" y="564.3">0</text><text x="584.6" y="572.4">-1</text><text x="584.6" y="580.5">-2</text><text x="584.6" y="588.6">-3</text><text x="584.6" y="596.7">-4</text><text x="584.6" y="604.8">-5</text></g>
<clipPath id="c12"><circle cx="642.0" cy="564.0" r="46.0"/></clipPath>
<g clip-path="url(#c12)">
<circle cx="642.0" cy="564.0" r="46.0" fill="#94ff6b"/>
<g filter="url(#bl)">
<path d="M665.8 603.9 649.9 604.9 641.1 604.2 634.1 602.8 620.0 598.2 593.6 586.3 593.6 515.5 690.5 515.6 690.4 598.9 665.8 603.9Z" fill="#b3ff4c" fill-rule="evenodd"/>
<path d="M665.8 600.3 657.0 601.3 648.2 601.3 641.1 600.6 632.3 598.7 620.0 594.4 593.6 581.7 593.6 515.6 690.5 515.6 690.4 594.9 665.8 600.3Z" fill="#c7ff38" fill-rule="evenodd"/>
<path d="M665.8 596.8 657.0 598.0 649.9 598.0 642.9 597.3 632.3 595.2 621.6 591.3 593.6 577.1 593.6 515.6 690.5 515.6 690.4 590.8 665.8 596.8Z" fill="#dbff24" fill-rule="evenodd"/>
<path d="M653.4 594.8 642.9 593.9 635.8 592.6 628.8 590.6 621.8 587.5 604.2 577.6 593.6 572.4 593.6 515.6 690.4 515.6 690.4 586.8 665.8 593.4 653.4 594.8Z" fill="#f0ff0f" fill-rule="evenodd"/>
<path d="M657.0 591.4 644.6 591.0 637.6 589.8 630.6 587.8 622.8 584.2 604.2 572.9 593.6 567.7 593.6 515.6 690.4 515.6 690.4 582.9 667.5 589.6 657.0 591.4Z" fill="#fffa00" fill-rule="evenodd"/>
<path d="M658.7 588.0 646.4 588.2 639.4 587.1 632.3 585.0 623.5 580.7 604.2 568.0 593.6 562.8 593.6 515.6 690.4 515.6 690.4 578.9 667.5 586.2 658.7 588.0Z" fill="#ffe500" fill-rule="evenodd"/>
<path d="M660.5 584.5 653.4 585.3 646.4 585.1 639.4 584.0 634.1 582.4 624.4 577.2 605.9 563.8 593.6 557.8 593.6 515.6 690.4 515.6 690.4 574.9 669.3 582.3 660.5 584.5Z" fill="#ffd100" fill-rule="evenodd"/>
<path d="M662.2 580.8 655.2 581.9 648.2 582.1 641.1 581.3 635.8 579.7 627.0 574.7 609.4 560.4 602.4 556.4 593.6 552.9 593.6 515.6 690.4 515.6 690.4 570.6 672.8 577.6 662.2 580.8Z" fill="#ffbd00" fill-rule="evenodd"/>
<path d="M662.2 577.3 655.2 578.5 648.2 578.9 642.9 578.4 637.6 576.9 634.1 575.2 629.3 571.9 616.5 559.6 611.2 555.4 604.2 551.9 593.6 548.1 593.6 515.6 690.4 515.6 690.4 566.0 672.8 574.0 662.2 577.3Z" fill="#ffa800" fill-rule="evenodd"/>
<path d="M660.5 573.9 653.4 575.1 648.2 575.4 642.9 574.9 638.8 573.7 635.6 571.9 631.1 568.4 619.9 556.1 614.7 551.6 607.7 548.1 593.6 543.6 593.6 515.6 690.4 515.6 690.4 561.1 671.0 570.6 660.5 573.9Z" fill="#ff9400" fill-rule="evenodd"/>
<path d="M657.0 570.5 648.2 571.4 644.6 571.2 640.6 570.2 637.6 568.4 634.1 565.3 623.1 552.6 618.2 548.1 609.4 544.0 593.6 539.2 593.6 515.6 690.4 515.6 690.4 555.7 683.4 558.6 669.0 566.6 657.0 570.5Z" fill="#ff8000" fill-rule="evenodd"/>
<path d="M658.7 565.0 649.9 566.4 646.4 566.2 642.9 565.3 637.6 561.6 626.0 549.0 620.0 544.3 611.0 540.2 593.6 534.9 593.6 515.6 690.4 515.6 690.4 550.2 681.6 553.3 667.5 561.4 658.7 565.0Z" fill="#ff6b00" fill-rule="evenodd"/>
<path d="M653.4 559.7 648.2 559.5 642.9 557.3 628.7 545.5 618.2 539.1 607.7 535.0 593.6 530.7 593.6 515.6 690.4 515.6 690.4 544.8 678.1 548.2 660.5 557.8 653.4 559.7Z" fill="#ff5700" fill-rule="evenodd"/>
<path d="M657.0 549.5 651.7 550.4 644.6 549.0 618.2 535.1 607.7 531.0 593.6 526.6 593.6 515.6 690.4 515.6 690.4 539.7 676.3 542.6 657.0 549.5Z" fill="#ff4200" fill-rule="evenodd"/>
<path d="M655.2 540.5 648.2 541.6 641.1 540.7 634.1 538.2 613.0 528.9 593.6 522.6 593.6 515.6 690.4 515.6 690.4 534.7 655.2 540.5Z" fill="#ff2e00" fill-rule="evenodd"/>
<path d="M651.7 535.2 642.9 535.5 634.1 533.5 611.2 524.2 593.6 518.5 593.6 515.6 690.4 515.6 690.4 529.9 651.7 535.2Z" fill="#ff1a00" fill-rule="evenodd"/>
<path d="M655.2 529.8 644.6 530.7 635.8 529.5 609.4 519.6 597.5 515.6 690.4 515.6 690.4 525.2 655.2 529.8Z" fill="#ff0500" fill-rule="evenodd"/>
<path d="M644.6 526.2 639.4 525.8 634.1 524.6 609.9 515.6 690.4 515.6 690.4 520.7 644.6 526.2Z" fill="#f00000" fill-rule="evenodd"/>
<path d="M653.4 520.9 644.6 521.7 639.4 521.4 632.3 519.6 621.3 515.6 690.4 515.6 690.4 516.2 653.4 520.9Z" fill="#db0000" fill-rule="evenodd"/>
</g>
<path d="M662.2 600.1 646.4 600.4 630.6 597.4 620.0 593.5 593.6 580.7 593.6 515.6 690.5 515.6 690.4 594.0 662.2 600.1M658.7 593.0 646.4 593.0 630.6 589.7 621.8 585.8 604.2 575.6 593.6 570.3 593.6 515.6 690.4 515.6 690.4 585.1 667.5 591.5 658.7 593.0M657.0 586.1 644.6 585.9 632.3 582.8 623.5 578.0 605.9 565.6 593.6 559.5 593.6 515.6 690.4 515.6 690.4 576.2 667.5 583.9 657.0 586.1M653.4 579.1 642.9 578.8 634.1 575.6 627.0 570.6 616.5 560.3 611.2 556.1 604.2 552.5 593.6 548.7 593.6 515.6 690.4 515.6 690.4 566.5 669.3 575.7 660.5 578.0 653.4 579.1M655.2 570.3 646.4 570.9 641.1 569.8 634.4 564.9 623.8 552.6 618.2 547.5 609.4 543.5 593.6 538.7 593.6 515.6 690.4 515.6 690.4 555.1 681.6 558.9 667.7 566.6 655.2 570.3M657.0 556.4 651.7 557.1 646.4 556.0 641.1 553.1 627.0 542.6 620.0 538.6 609.4 534.2 593.6 529.4 593.6 515.6 690.4 515.6 690.4 543.1 676.3 546.7 657.0 556.4M657.0 536.8 646.4 538.1 641.1 537.6 635.8 536.2 611.2 526.0 593.6 520.3 593.6 515.6 690.4 515.6 690.4 532.0 657.0 536.8M655.2 526.2 644.6 527.2 637.6 526.5 630.6 524.5 607.3 515.6 690.4 515.6 690.4 521.7 655.2 526.2" fill="none" stroke="#2a2a2a" stroke-width="0.4" stroke-opacity="0.55"/>
</g>
<path d="M629.2 531.0h1M653.8 531.0h1M614.2 538.5h1M623.5 538.5h1M632.7 538.5h1M641.5 538.5h1M650.3 538.5h1M659.5 538.5h1M668.8 538.5h1M609.8 546.0h1M617.7 546.0h1M625.7 546.0h1M633.6 546.0h1M641.5 546.0h1M649.4 546.0h1M657.3 546.0h1M665.3 546.0h1M673.2 546.0h1M606.3 553.4h1M615.1 553.4h1M623.9 553.4h1M632.7 553.4h1M641.5 553.4h1M650.3 553.4h1M659.1 553.4h1M667.9 553.4h1M676.7 553.4h1M608.5 564.0h1M619.5 564.0h1M630.5 564.0h1M641.5 564.0h1M652.5 564.0h1M663.5 564.0h1M674.5 564.0h1M608.5 574.6h1M619.5 574.6h1M630.5 574.6h1M641.5 574.6h1M652.5 574.6h1M663.5 574.6h1M674.5 574.6h1M615.1 583.8h1M623.9 583.8h1M632.7 583.8h1M641.5 583.8h1M650.3 583.8h1M659.1 583.8h1M667.9 583.8h1M612.5 591.3h1M622.1 591.3h1M631.8 591.3h1M641.5 591.3h1M651.2 591.3h1M660.9 591.3h1M670.5 591.3h1M628.3 597.9h1M641.5 597.9h1M654.7 597.9h1" stroke="#111" stroke-width="0.9" stroke-opacity="0.8"/>
<circle cx="642.0" cy="564.0" r="44.0" fill="none" stroke="#111" stroke-width="1.1"/>
<path d="M634.0 520.6L639.3 514.8M644.7 514.8L650.0 520.6" stroke="#111" stroke-width="0.9" fill="none"/>
<path d="M685.6 553.2C687.8 551.8 690.0 552.2 690.3 554.8L690.4 570.0C690.7 574.5 689.2 576.3 686.3 575.6M598.4 553.2C596.2 551.8 594.0 552.2 593.7 554.8L593.6 570.0C593.3 574.5 594.8 576.3 597.7 575.6" stroke="#222" stroke-width="0.9" fill="none"/>
<rect x="695.6" y="515.0" width="5.4" height="97.6" fill="url(#jetg)" stroke="#777" stroke-width="0.4"/>
<g font-family="Liberation Sans" font-size="3.4" fill="#666"><text x="702.8" y="523.8">5</text><text x="702.8" y="532.0">4</text><text x="702.8" y="540.1">3</text><text x="702.8" y="548.3">2</text><text x="702.8" y="556.4">1</text><text x="702.8" y="564.6">0</text><text x="702.8" y="572.7">-1</text><text x="702.8" y="580.9">-2</text><text x="702.8" y="589.0">-3</text><text x="702.8" y="597.2">-4</text><text x="702.8" y="605.3">-5</text></g>
</svg></body></html>
